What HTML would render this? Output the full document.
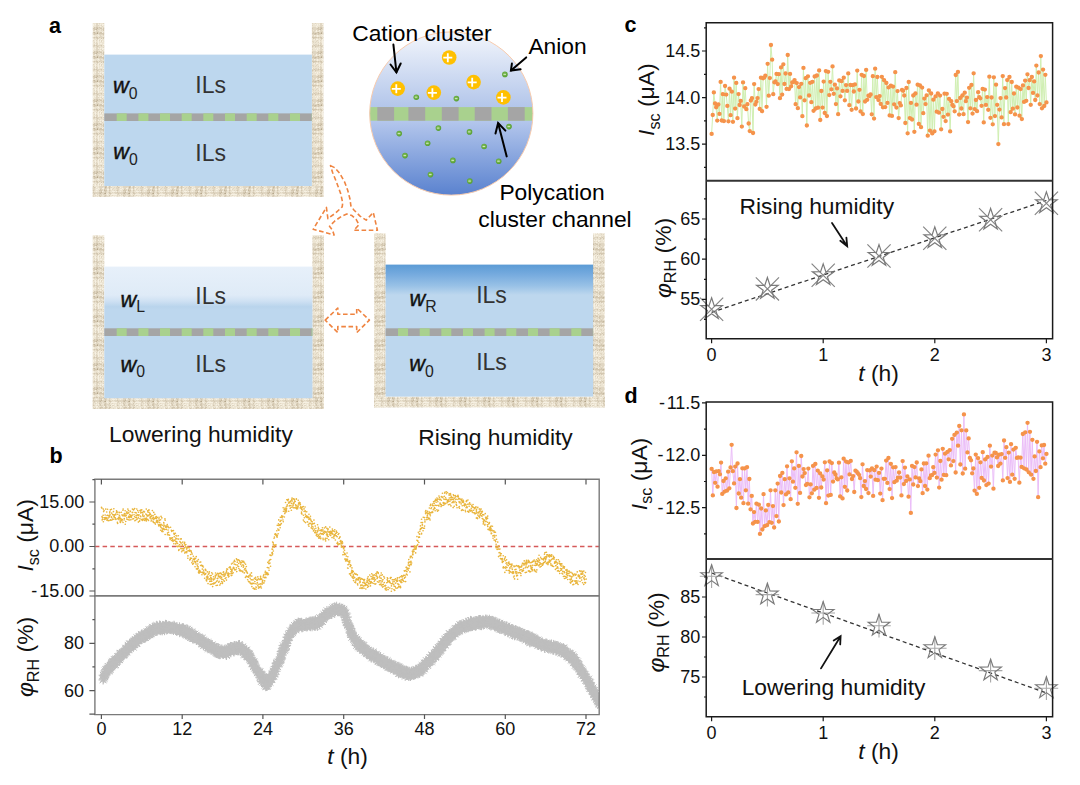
<!DOCTYPE html>
<html><head><meta charset="utf-8"><title>Figure</title>
<style>html,body{margin:0;padding:0;background:#fff;overflow:hidden}svg{display:block}text{font-family:'Liberation Sans',Arial,sans-serif}</style>
</head><body>
<svg width="1080" height="785" viewBox="0 0 1080 785">
<defs><pattern id="wall" width="16" height="24" patternUnits="userSpaceOnUse"><rect width="16" height="24" fill="rgb(224,214,194)"/><rect x="2" y="0" width="1" height="1" fill="rgb(246,240,226)"/><rect x="3" y="0" width="1" height="1" fill="rgb(236,228,210)"/><rect x="4" y="0" width="1" height="1" fill="rgb(246,240,226)"/><rect x="5" y="0" width="1" height="1" fill="rgb(236,228,210)"/><rect x="6" y="0" width="2" height="1" fill="rgb(246,240,226)"/><rect x="8" y="0" width="3" height="1" fill="rgb(236,228,210)"/><rect x="11" y="0" width="1" height="1" fill="rgb(246,240,226)"/><rect x="12" y="0" width="1" height="1" fill="rgb(236,228,210)"/><rect x="13" y="0" width="1" height="1" fill="rgb(246,240,226)"/><rect x="14" y="0" width="1" height="1" fill="rgb(236,228,210)"/><rect x="15" y="0" width="1" height="1" fill="rgb(246,240,226)"/><rect x="3" y="1" width="2" height="1" fill="rgb(236,228,210)"/><rect x="6" y="1" width="1" height="1" fill="rgb(246,240,226)"/><rect x="7" y="1" width="1" height="1" fill="rgb(236,228,210)"/><rect x="9" y="1" width="4" height="1" fill="rgb(236,228,210)"/><rect x="13" y="1" width="1" height="1" fill="rgb(246,240,226)"/><rect x="14" y="1" width="2" height="1" fill="rgb(236,228,210)"/><rect x="2" y="2" width="2" height="1" fill="rgb(236,228,210)"/><rect x="4" y="2" width="1" height="1" fill="rgb(246,240,226)"/><rect x="5" y="2" width="1" height="1" fill="rgb(236,228,210)"/><rect x="7" y="2" width="5" height="1" fill="rgb(236,228,210)"/><rect x="12" y="2" width="1" height="1" fill="rgb(246,240,226)"/><rect x="13" y="2" width="3" height="1" fill="rgb(236,228,210)"/><rect x="0" y="3" width="2" height="1" fill="rgb(211,199,176)"/><rect x="3" y="3" width="1" height="1" fill="rgb(211,199,176)"/><rect x="6" y="3" width="1" height="1" fill="rgb(236,228,210)"/><rect x="12" y="3" width="2" height="1" fill="rgb(236,228,210)"/><rect x="14" y="3" width="1" height="1" fill="rgb(211,199,176)"/><rect x="0" y="4" width="1" height="1" fill="rgb(211,199,176)"/><rect x="1" y="4" width="1" height="1" fill="rgb(196,183,158)"/><rect x="4" y="4" width="2" height="1" fill="rgb(211,199,176)"/><rect x="6" y="4" width="1" height="1" fill="rgb(236,228,210)"/><rect x="7" y="4" width="2" height="1" fill="rgb(211,199,176)"/><rect x="13" y="4" width="2" height="1" fill="rgb(211,199,176)"/><rect x="0" y="5" width="1" height="1" fill="rgb(196,183,158)"/><rect x="4" y="5" width="1" height="1" fill="rgb(236,228,210)"/><rect x="7" y="5" width="1" height="1" fill="rgb(211,199,176)"/><rect x="14" y="5" width="2" height="1" fill="rgb(211,199,176)"/><rect x="2" y="6" width="3" height="1" fill="rgb(236,228,210)"/><rect x="6" y="6" width="1" height="1" fill="rgb(236,228,210)"/><rect x="7" y="6" width="1" height="1" fill="rgb(211,199,176)"/><rect x="9" y="6" width="1" height="1" fill="rgb(236,228,210)"/><rect x="12" y="6" width="1" height="1" fill="rgb(246,240,226)"/><rect x="15" y="6" width="1" height="1" fill="rgb(246,240,226)"/><rect x="3" y="7" width="5" height="1" fill="rgb(236,228,210)"/><rect x="11" y="7" width="1" height="1" fill="rgb(236,228,210)"/><rect x="12" y="7" width="1" height="1" fill="rgb(246,240,226)"/><rect x="13" y="7" width="3" height="1" fill="rgb(236,228,210)"/><rect x="1" y="8" width="1" height="1" fill="rgb(196,183,158)"/><rect x="4" y="8" width="2" height="1" fill="rgb(211,199,176)"/><rect x="6" y="8" width="1" height="1" fill="rgb(246,240,226)"/><rect x="9" y="8" width="1" height="1" fill="rgb(211,199,176)"/><rect x="13" y="8" width="1" height="1" fill="rgb(211,199,176)"/><rect x="14" y="8" width="1" height="1" fill="rgb(196,183,158)"/><rect x="0" y="9" width="1" height="1" fill="rgb(211,199,176)"/><rect x="1" y="9" width="1" height="1" fill="rgb(180,166,139)"/><rect x="3" y="9" width="8" height="1" fill="rgb(211,199,176)"/><rect x="11" y="9" width="1" height="1" fill="rgb(196,183,158)"/><rect x="12" y="9" width="1" height="1" fill="rgb(211,199,176)"/><rect x="14" y="9" width="2" height="1" fill="rgb(211,199,176)"/><rect x="1" y="10" width="2" height="1" fill="rgb(236,228,210)"/><rect x="7" y="10" width="1" height="1" fill="rgb(211,199,176)"/><rect x="10" y="10" width="2" height="1" fill="rgb(211,199,176)"/><rect x="14" y="10" width="1" height="1" fill="rgb(211,199,176)"/><rect x="0" y="11" width="2" height="1" fill="rgb(236,228,210)"/><rect x="2" y="11" width="1" height="1" fill="rgb(246,240,226)"/><rect x="3" y="11" width="1" height="1" fill="rgb(236,228,210)"/><rect x="5" y="11" width="2" height="1" fill="rgb(236,228,210)"/><rect x="8" y="11" width="1" height="1" fill="rgb(236,228,210)"/><rect x="10" y="11" width="1" height="1" fill="rgb(246,240,226)"/><rect x="11" y="11" width="2" height="1" fill="rgb(236,228,210)"/><rect x="13" y="11" width="1" height="1" fill="rgb(246,240,226)"/><rect x="14" y="11" width="2" height="1" fill="rgb(236,228,210)"/><rect x="1" y="12" width="3" height="1" fill="rgb(236,228,210)"/><rect x="6" y="12" width="2" height="1" fill="rgb(236,228,210)"/><rect x="10" y="12" width="1" height="1" fill="rgb(236,228,210)"/><rect x="12" y="12" width="1" height="1" fill="rgb(236,228,210)"/><rect x="13" y="12" width="1" height="1" fill="rgb(246,240,226)"/><rect x="14" y="12" width="2" height="1" fill="rgb(236,228,210)"/><rect x="0" y="13" width="2" height="1" fill="rgb(211,199,176)"/><rect x="2" y="13" width="1" height="1" fill="rgb(236,228,210)"/><rect x="3" y="13" width="1" height="1" fill="rgb(211,199,176)"/><rect x="7" y="13" width="6" height="1" fill="rgb(211,199,176)"/><rect x="14" y="13" width="1" height="1" fill="rgb(211,199,176)"/><rect x="1" y="14" width="1" height="1" fill="rgb(211,199,176)"/><rect x="3" y="14" width="2" height="1" fill="rgb(236,228,210)"/><rect x="5" y="14" width="1" height="1" fill="rgb(211,199,176)"/><rect x="6" y="14" width="1" height="1" fill="rgb(236,228,210)"/><rect x="7" y="14" width="1" height="1" fill="rgb(211,199,176)"/><rect x="8" y="14" width="1" height="1" fill="rgb(236,228,210)"/><rect x="9" y="14" width="1" height="1" fill="rgb(211,199,176)"/><rect x="12" y="14" width="2" height="1" fill="rgb(236,228,210)"/><rect x="15" y="14" width="1" height="1" fill="rgb(236,228,210)"/><rect x="0" y="15" width="1" height="1" fill="rgb(236,228,210)"/><rect x="2" y="15" width="1" height="1" fill="rgb(246,240,226)"/><rect x="3" y="15" width="2" height="1" fill="rgb(236,228,210)"/><rect x="5" y="15" width="1" height="1" fill="rgb(246,240,226)"/><rect x="6" y="15" width="4" height="1" fill="rgb(236,228,210)"/><rect x="10" y="15" width="1" height="1" fill="rgb(246,240,226)"/><rect x="12" y="15" width="2" height="1" fill="rgb(246,240,226)"/><rect x="14" y="15" width="2" height="1" fill="rgb(236,228,210)"/><rect x="1" y="16" width="1" height="1" fill="rgb(236,228,210)"/><rect x="2" y="16" width="1" height="1" fill="rgb(246,240,226)"/><rect x="4" y="16" width="1" height="1" fill="rgb(246,240,226)"/><rect x="6" y="16" width="7" height="1" fill="rgb(236,228,210)"/><rect x="14" y="16" width="1" height="1" fill="rgb(236,228,210)"/><rect x="15" y="16" width="1" height="1" fill="rgb(246,240,226)"/><rect x="0" y="17" width="2" height="1" fill="rgb(236,228,210)"/><rect x="2" y="17" width="1" height="1" fill="rgb(246,240,226)"/><rect x="3" y="17" width="1" height="1" fill="rgb(236,228,210)"/><rect x="4" y="17" width="1" height="1" fill="rgb(246,240,226)"/><rect x="6" y="17" width="1" height="1" fill="rgb(246,240,226)"/><rect x="7" y="17" width="1" height="1" fill="rgb(236,228,210)"/><rect x="10" y="17" width="2" height="1" fill="rgb(236,228,210)"/><rect x="13" y="17" width="2" height="1" fill="rgb(236,228,210)"/><rect x="15" y="17" width="1" height="1" fill="rgb(246,240,226)"/><rect x="1" y="18" width="1" height="1" fill="rgb(236,228,210)"/><rect x="2" y="18" width="1" height="1" fill="rgb(246,240,226)"/><rect x="3" y="18" width="6" height="1" fill="rgb(236,228,210)"/><rect x="10" y="18" width="1" height="1" fill="rgb(236,228,210)"/><rect x="12" y="18" width="2" height="1" fill="rgb(236,228,210)"/><rect x="15" y="18" width="1" height="1" fill="rgb(246,240,226)"/><rect x="2" y="19" width="1" height="1" fill="rgb(246,240,226)"/><rect x="3" y="19" width="1" height="1" fill="rgb(236,228,210)"/><rect x="4" y="19" width="2" height="1" fill="rgb(246,240,226)"/><rect x="6" y="19" width="10" height="1" fill="rgb(236,228,210)"/><rect x="2" y="20" width="1" height="1" fill="rgb(246,240,226)"/><rect x="3" y="20" width="4" height="1" fill="rgb(236,228,210)"/><rect x="7" y="20" width="2" height="1" fill="rgb(246,240,226)"/><rect x="10" y="20" width="1" height="1" fill="rgb(236,228,210)"/><rect x="13" y="20" width="1" height="1" fill="rgb(236,228,210)"/><rect x="15" y="20" width="1" height="1" fill="rgb(246,240,226)"/><rect x="0" y="21" width="1" height="1" fill="rgb(211,199,176)"/><rect x="5" y="21" width="1" height="1" fill="rgb(211,199,176)"/><rect x="6" y="21" width="1" height="1" fill="rgb(236,228,210)"/><rect x="10" y="21" width="1" height="1" fill="rgb(211,199,176)"/><rect x="14" y="21" width="1" height="1" fill="rgb(211,199,176)"/><rect x="1" y="22" width="1" height="1" fill="rgb(211,199,176)"/><rect x="3" y="22" width="2" height="1" fill="rgb(236,228,210)"/><rect x="6" y="22" width="2" height="1" fill="rgb(236,228,210)"/><rect x="8" y="22" width="1" height="1" fill="rgb(211,199,176)"/><rect x="10" y="22" width="1" height="1" fill="rgb(236,228,210)"/><rect x="11" y="22" width="1" height="1" fill="rgb(211,199,176)"/><rect x="15" y="22" width="1" height="1" fill="rgb(236,228,210)"/><rect x="2" y="23" width="1" height="1" fill="rgb(236,228,210)"/><rect x="4" y="23" width="3" height="1" fill="rgb(236,228,210)"/><rect x="9" y="23" width="2" height="1" fill="rgb(236,228,210)"/><rect x="12" y="23" width="4" height="1" fill="rgb(236,228,210)"/></pattern><pattern id="wallB" width="24" height="16" patternUnits="userSpaceOnUse"><rect width="24" height="16" fill="rgb(224,214,194)"/><rect x="3" y="0" width="2" height="1" fill="rgb(211,199,176)"/><rect x="5" y="0" width="1" height="1" fill="rgb(196,183,158)"/><rect x="9" y="0" width="1" height="1" fill="rgb(211,199,176)"/><rect x="11" y="0" width="1" height="1" fill="rgb(236,228,210)"/><rect x="13" y="0" width="1" height="1" fill="rgb(211,199,176)"/><rect x="15" y="0" width="1" height="1" fill="rgb(236,228,210)"/><rect x="17" y="0" width="1" height="1" fill="rgb(236,228,210)"/><rect x="21" y="0" width="1" height="1" fill="rgb(211,199,176)"/><rect x="3" y="1" width="1" height="1" fill="rgb(211,199,176)"/><rect x="4" y="1" width="1" height="1" fill="rgb(196,183,158)"/><rect x="8" y="1" width="1" height="1" fill="rgb(196,183,158)"/><rect x="9" y="1" width="1" height="1" fill="rgb(180,166,139)"/><rect x="10" y="1" width="3" height="1" fill="rgb(236,228,210)"/><rect x="13" y="1" width="2" height="1" fill="rgb(211,199,176)"/><rect x="16" y="1" width="3" height="1" fill="rgb(236,228,210)"/><rect x="22" y="1" width="1" height="1" fill="rgb(211,199,176)"/><rect x="0" y="2" width="1" height="1" fill="rgb(246,240,226)"/><rect x="2" y="2" width="1" height="1" fill="rgb(236,228,210)"/><rect x="6" y="2" width="1" height="1" fill="rgb(236,228,210)"/><rect x="10" y="2" width="1" height="1" fill="rgb(236,228,210)"/><rect x="11" y="2" width="1" height="1" fill="rgb(246,240,226)"/><rect x="12" y="2" width="2" height="1" fill="rgb(236,228,210)"/><rect x="15" y="2" width="6" height="1" fill="rgb(246,240,226)"/><rect x="23" y="2" width="1" height="1" fill="rgb(236,228,210)"/><rect x="0" y="3" width="3" height="1" fill="rgb(236,228,210)"/><rect x="3" y="3" width="1" height="1" fill="rgb(211,199,176)"/><rect x="6" y="3" width="2" height="1" fill="rgb(236,228,210)"/><rect x="9" y="3" width="1" height="1" fill="rgb(211,199,176)"/><rect x="11" y="3" width="2" height="1" fill="rgb(236,228,210)"/><rect x="13" y="3" width="1" height="1" fill="rgb(211,199,176)"/><rect x="14" y="3" width="2" height="1" fill="rgb(236,228,210)"/><rect x="17" y="3" width="4" height="1" fill="rgb(236,228,210)"/><rect x="22" y="3" width="1" height="1" fill="rgb(236,228,210)"/><rect x="0" y="4" width="1" height="1" fill="rgb(246,240,226)"/><rect x="1" y="4" width="1" height="1" fill="rgb(236,228,210)"/><rect x="2" y="4" width="1" height="1" fill="rgb(246,240,226)"/><rect x="4" y="4" width="1" height="1" fill="rgb(211,199,176)"/><rect x="5" y="4" width="3" height="1" fill="rgb(236,228,210)"/><rect x="8" y="4" width="2" height="1" fill="rgb(211,199,176)"/><rect x="14" y="4" width="2" height="1" fill="rgb(236,228,210)"/><rect x="16" y="4" width="2" height="1" fill="rgb(246,240,226)"/><rect x="18" y="4" width="1" height="1" fill="rgb(236,228,210)"/><rect x="19" y="4" width="1" height="1" fill="rgb(246,240,226)"/><rect x="20" y="4" width="1" height="1" fill="rgb(236,228,210)"/><rect x="22" y="4" width="2" height="1" fill="rgb(236,228,210)"/><rect x="0" y="5" width="1" height="1" fill="rgb(236,228,210)"/><rect x="2" y="5" width="1" height="1" fill="rgb(236,228,210)"/><rect x="4" y="5" width="1" height="1" fill="rgb(211,199,176)"/><rect x="7" y="5" width="1" height="1" fill="rgb(236,228,210)"/><rect x="8" y="5" width="2" height="1" fill="rgb(211,199,176)"/><rect x="11" y="5" width="1" height="1" fill="rgb(236,228,210)"/><rect x="14" y="5" width="1" height="1" fill="rgb(211,199,176)"/><rect x="15" y="5" width="1" height="1" fill="rgb(246,240,226)"/><rect x="18" y="5" width="1" height="1" fill="rgb(236,228,210)"/><rect x="19" y="5" width="1" height="1" fill="rgb(246,240,226)"/><rect x="20" y="5" width="1" height="1" fill="rgb(236,228,210)"/><rect x="21" y="5" width="1" height="1" fill="rgb(211,199,176)"/><rect x="23" y="5" width="1" height="1" fill="rgb(236,228,210)"/><rect x="0" y="6" width="2" height="1" fill="rgb(246,240,226)"/><rect x="3" y="6" width="2" height="1" fill="rgb(236,228,210)"/><rect x="6" y="6" width="2" height="1" fill="rgb(236,228,210)"/><rect x="8" y="6" width="1" height="1" fill="rgb(246,240,226)"/><rect x="9" y="6" width="1" height="1" fill="rgb(211,199,176)"/><rect x="11" y="6" width="2" height="1" fill="rgb(236,228,210)"/><rect x="14" y="6" width="3" height="1" fill="rgb(236,228,210)"/><rect x="17" y="6" width="1" height="1" fill="rgb(246,240,226)"/><rect x="18" y="6" width="6" height="1" fill="rgb(236,228,210)"/><rect x="0" y="7" width="1" height="1" fill="rgb(246,240,226)"/><rect x="1" y="7" width="2" height="1" fill="rgb(236,228,210)"/><rect x="4" y="7" width="3" height="1" fill="rgb(211,199,176)"/><rect x="7" y="7" width="1" height="1" fill="rgb(236,228,210)"/><rect x="9" y="7" width="2" height="1" fill="rgb(211,199,176)"/><rect x="12" y="7" width="1" height="1" fill="rgb(236,228,210)"/><rect x="13" y="7" width="2" height="1" fill="rgb(211,199,176)"/><rect x="15" y="7" width="5" height="1" fill="rgb(236,228,210)"/><rect x="20" y="7" width="1" height="1" fill="rgb(246,240,226)"/><rect x="22" y="7" width="1" height="1" fill="rgb(236,228,210)"/><rect x="0" y="8" width="1" height="1" fill="rgb(236,228,210)"/><rect x="2" y="8" width="1" height="1" fill="rgb(236,228,210)"/><rect x="4" y="8" width="1" height="1" fill="rgb(211,199,176)"/><rect x="9" y="8" width="1" height="1" fill="rgb(211,199,176)"/><rect x="11" y="8" width="1" height="1" fill="rgb(236,228,210)"/><rect x="13" y="8" width="1" height="1" fill="rgb(211,199,176)"/><rect x="14" y="8" width="3" height="1" fill="rgb(236,228,210)"/><rect x="18" y="8" width="2" height="1" fill="rgb(236,228,210)"/><rect x="20" y="8" width="1" height="1" fill="rgb(246,240,226)"/><rect x="22" y="8" width="1" height="1" fill="rgb(211,199,176)"/><rect x="0" y="9" width="3" height="1" fill="rgb(236,228,210)"/><rect x="6" y="9" width="1" height="1" fill="rgb(236,228,210)"/><rect x="8" y="9" width="2" height="1" fill="rgb(211,199,176)"/><rect x="13" y="9" width="2" height="1" fill="rgb(211,199,176)"/><rect x="15" y="9" width="2" height="1" fill="rgb(236,228,210)"/><rect x="19" y="9" width="1" height="1" fill="rgb(236,228,210)"/><rect x="23" y="9" width="1" height="1" fill="rgb(236,228,210)"/><rect x="0" y="10" width="3" height="1" fill="rgb(236,228,210)"/><rect x="9" y="10" width="2" height="1" fill="rgb(211,199,176)"/><rect x="11" y="10" width="1" height="1" fill="rgb(246,240,226)"/><rect x="12" y="10" width="1" height="1" fill="rgb(236,228,210)"/><rect x="13" y="10" width="1" height="1" fill="rgb(211,199,176)"/><rect x="15" y="10" width="1" height="1" fill="rgb(246,240,226)"/><rect x="16" y="10" width="5" height="1" fill="rgb(236,228,210)"/><rect x="21" y="10" width="1" height="1" fill="rgb(211,199,176)"/><rect x="22" y="10" width="2" height="1" fill="rgb(236,228,210)"/><rect x="0" y="11" width="1" height="1" fill="rgb(246,240,226)"/><rect x="1" y="11" width="2" height="1" fill="rgb(236,228,210)"/><rect x="7" y="11" width="1" height="1" fill="rgb(236,228,210)"/><rect x="9" y="11" width="1" height="1" fill="rgb(196,183,158)"/><rect x="10" y="11" width="1" height="1" fill="rgb(211,199,176)"/><rect x="11" y="11" width="1" height="1" fill="rgb(236,228,210)"/><rect x="13" y="11" width="1" height="1" fill="rgb(211,199,176)"/><rect x="16" y="11" width="2" height="1" fill="rgb(236,228,210)"/><rect x="19" y="11" width="1" height="1" fill="rgb(236,228,210)"/><rect x="22" y="11" width="1" height="1" fill="rgb(211,199,176)"/><rect x="0" y="12" width="2" height="1" fill="rgb(236,228,210)"/><rect x="2" y="12" width="1" height="1" fill="rgb(246,240,226)"/><rect x="3" y="12" width="1" height="1" fill="rgb(236,228,210)"/><rect x="6" y="12" width="2" height="1" fill="rgb(246,240,226)"/><rect x="9" y="12" width="1" height="1" fill="rgb(211,199,176)"/><rect x="11" y="12" width="2" height="1" fill="rgb(236,228,210)"/><rect x="13" y="12" width="1" height="1" fill="rgb(211,199,176)"/><rect x="14" y="12" width="1" height="1" fill="rgb(236,228,210)"/><rect x="15" y="12" width="1" height="1" fill="rgb(246,240,226)"/><rect x="16" y="12" width="1" height="1" fill="rgb(236,228,210)"/><rect x="18" y="12" width="2" height="1" fill="rgb(236,228,210)"/><rect x="23" y="12" width="1" height="1" fill="rgb(236,228,210)"/><rect x="0" y="13" width="2" height="1" fill="rgb(246,240,226)"/><rect x="2" y="13" width="2" height="1" fill="rgb(236,228,210)"/><rect x="4" y="13" width="1" height="1" fill="rgb(211,199,176)"/><rect x="7" y="13" width="1" height="1" fill="rgb(236,228,210)"/><rect x="8" y="13" width="1" height="1" fill="rgb(211,199,176)"/><rect x="11" y="13" width="2" height="1" fill="rgb(246,240,226)"/><rect x="14" y="13" width="1" height="1" fill="rgb(236,228,210)"/><rect x="15" y="13" width="1" height="1" fill="rgb(246,240,226)"/><rect x="17" y="13" width="4" height="1" fill="rgb(236,228,210)"/><rect x="23" y="13" width="1" height="1" fill="rgb(236,228,210)"/><rect x="0" y="14" width="3" height="1" fill="rgb(236,228,210)"/><rect x="3" y="14" width="3" height="1" fill="rgb(211,199,176)"/><rect x="7" y="14" width="1" height="1" fill="rgb(236,228,210)"/><rect x="8" y="14" width="1" height="1" fill="rgb(196,183,158)"/><rect x="9" y="14" width="2" height="1" fill="rgb(211,199,176)"/><rect x="11" y="14" width="2" height="1" fill="rgb(236,228,210)"/><rect x="13" y="14" width="1" height="1" fill="rgb(211,199,176)"/><rect x="15" y="14" width="3" height="1" fill="rgb(236,228,210)"/><rect x="19" y="14" width="1" height="1" fill="rgb(236,228,210)"/><rect x="21" y="14" width="1" height="1" fill="rgb(211,199,176)"/><rect x="23" y="14" width="1" height="1" fill="rgb(236,228,210)"/><rect x="0" y="15" width="1" height="1" fill="rgb(246,240,226)"/><rect x="1" y="15" width="2" height="1" fill="rgb(236,228,210)"/><rect x="5" y="15" width="1" height="1" fill="rgb(211,199,176)"/><rect x="6" y="15" width="1" height="1" fill="rgb(246,240,226)"/><rect x="7" y="15" width="1" height="1" fill="rgb(236,228,210)"/><rect x="9" y="15" width="1" height="1" fill="rgb(211,199,176)"/><rect x="11" y="15" width="2" height="1" fill="rgb(236,228,210)"/><rect x="14" y="15" width="2" height="1" fill="rgb(236,228,210)"/><rect x="16" y="15" width="3" height="1" fill="rgb(246,240,226)"/><rect x="19" y="15" width="1" height="1" fill="rgb(236,228,210)"/><rect x="20" y="15" width="1" height="1" fill="rgb(246,240,226)"/><rect x="22" y="15" width="2" height="1" fill="rgb(236,228,210)"/></pattern><linearGradient id="gL" x1="0" y1="0" x2="0" y2="1"><stop offset="0" stop-color="#E7F0FA"/><stop offset="0.217" stop-color="#DFEBF7"/><stop offset="0.262" stop-color="#CFE1F3"/><stop offset="0.305" stop-color="#B9D4EC"/><stop offset="0.33" stop-color="#BDD7EE"/><stop offset="1" stop-color="#BDD7EE"/></linearGradient><linearGradient id="gR" x1="0" y1="0" x2="0" y2="1"><stop offset="0" stop-color="#5B9BD5"/><stop offset="0.08" stop-color="#78ACDF"/><stop offset="0.16" stop-color="#98C1E6"/><stop offset="0.23" stop-color="#BDD7EE"/><stop offset="1" stop-color="#BDD7EE"/></linearGradient><linearGradient id="gC" gradientUnits="userSpaceOnUse" x1="0" y1="32" x2="0" y2="195"><stop offset="0" stop-color="#F3F6FC"/><stop offset="0.46" stop-color="#B3C6EA"/><stop offset="0.55" stop-color="#B3C6EC"/><stop offset="1" stop-color="#5A82CF"/></linearGradient><radialGradient id="gA" cx="0.45" cy="0.45" r="0.6"><stop offset="0" stop-color="#8CC663"/><stop offset="1" stop-color="#4F9A2A"/></radialGradient><path id="ast" d="M-4.6 0h9.2M0 -4.6v9.2M-3.3 -3.3l6.6 6.6M-3.3 3.3l6.6 -6.6" stroke="#BEBEBE" stroke-width="1" fill="none"/><clipPath id="cc"><circle cx="451.3" cy="113.5" r="81.6"/></clipPath><clipPath id="cb"><rect x="95.5" y="479.8" width="503" height="233.8"/></clipPath><clipPath id="cct"><rect x="706.6" y="23.3" width="345.4" height="157"/></clipPath><clipPath id="cdt"><rect x="707.2" y="402.3" width="344.8" height="156.4"/></clipPath></defs>
<rect width="1080" height="785" fill="#fff"/>
<text x="49" y="32.6" font-size="21.5" font-weight="bold" fill="#000">a</text>
<rect x="92.7" y="23" width="11.6" height="173.8" fill="url(#wall)"/>
<rect x="311.9" y="23" width="11.6" height="173.8" fill="url(#wall)"/>
<rect x="92.7" y="186" width="230.8" height="10.8" fill="url(#wallB)"/>
<rect x="104.3" y="54.6" width="207.6" height="131.4" fill="#BDD7EE"/>
<rect x="104.3" y="113.4" width="207.6" height="7.6" fill="#A5A5A5"/>
<rect x="116.7" y="113.4" width="10" height="7.6" fill="#A9D18E"/>
<rect x="138.4" y="113.4" width="10" height="7.6" fill="#A9D18E"/>
<rect x="160" y="113.4" width="10" height="7.6" fill="#A9D18E"/>
<rect x="181.7" y="113.4" width="10" height="7.6" fill="#A9D18E"/>
<rect x="203.3" y="113.4" width="10" height="7.6" fill="#A9D18E"/>
<rect x="225" y="113.4" width="10" height="7.6" fill="#A9D18E"/>
<rect x="246.7" y="113.4" width="10" height="7.6" fill="#A9D18E"/>
<rect x="268.3" y="113.4" width="10" height="7.6" fill="#A9D18E"/>
<rect x="290" y="113.4" width="10" height="7.6" fill="#A9D18E"/>
<rect x="311.6" y="113.4" width="0.3" height="7.6" fill="#A9D18E"/>
<text x="113" y="93" font-size="21.8" fill="#111"><tspan style="font-style:italic;" stroke="#111" stroke-width="0.45">w</tspan><tspan font-size="15.8" dy="5.5" fill="#222">0</tspan></text>
<text x="195.3" y="93" font-size="23" fill="#333">ILs</text>
<text x="113.3" y="159.2" font-size="21.8" fill="#111"><tspan style="font-style:italic;" stroke="#111" stroke-width="0.45">w</tspan><tspan font-size="15.8" dy="5.5" fill="#222">0</tspan></text>
<text x="195.3" y="160.9" font-size="23" fill="#333">ILs</text>
<rect x="92.7" y="235.3" width="11.6" height="173.7" fill="url(#wall)"/>
<rect x="312.4" y="235.3" width="11.6" height="173.7" fill="url(#wall)"/>
<rect x="92.7" y="398.2" width="231.3" height="10.8" fill="url(#wallB)"/>
<rect x="104.3" y="266.6" width="208.1" height="131.6" fill="url(#gL)"/>
<rect x="104.3" y="328.3" width="208.1" height="7.7" fill="#A5A5A5"/>
<rect x="116.7" y="328.3" width="10" height="7.7" fill="#A9D18E"/>
<rect x="138.4" y="328.3" width="10" height="7.7" fill="#A9D18E"/>
<rect x="160" y="328.3" width="10" height="7.7" fill="#A9D18E"/>
<rect x="181.7" y="328.3" width="10" height="7.7" fill="#A9D18E"/>
<rect x="203.3" y="328.3" width="10" height="7.7" fill="#A9D18E"/>
<rect x="225" y="328.3" width="10" height="7.7" fill="#A9D18E"/>
<rect x="246.7" y="328.3" width="10" height="7.7" fill="#A9D18E"/>
<rect x="268.3" y="328.3" width="10" height="7.7" fill="#A9D18E"/>
<rect x="290" y="328.3" width="10" height="7.7" fill="#A9D18E"/>
<rect x="311.6" y="328.3" width="0.8" height="7.7" fill="#A9D18E"/>
<text x="120.5" y="306.8" font-size="21.8" fill="#111"><tspan style="font-style:italic;" stroke="#111" stroke-width="0.45">w</tspan><tspan font-size="15.8" dy="5.5" fill="#222">L</tspan></text>
<text x="195.3" y="304.3" font-size="23" fill="#333">ILs</text>
<text x="120.5" y="371.6" font-size="21.8" fill="#111"><tspan style="font-style:italic;" stroke="#111" stroke-width="0.45">w</tspan><tspan font-size="15.8" dy="5.5" fill="#222">0</tspan></text>
<text x="195.3" y="371.8" font-size="23" fill="#333">ILs</text>
<rect x="374" y="233.3" width="11.6" height="174.1" fill="url(#wall)"/>
<rect x="593.1" y="233.3" width="11.6" height="174.1" fill="url(#wall)"/>
<rect x="374" y="396.6" width="230.7" height="10.8" fill="url(#wallB)"/>
<rect x="385.6" y="264.6" width="207.5" height="132" fill="url(#gR)"/>
<rect x="385.6" y="328.3" width="207.5" height="7.7" fill="#A5A5A5"/>
<rect x="398" y="328.3" width="10" height="7.7" fill="#A9D18E"/>
<rect x="419.7" y="328.3" width="10" height="7.7" fill="#A9D18E"/>
<rect x="441.3" y="328.3" width="10" height="7.7" fill="#A9D18E"/>
<rect x="463" y="328.3" width="10" height="7.7" fill="#A9D18E"/>
<rect x="484.6" y="328.3" width="10" height="7.7" fill="#A9D18E"/>
<rect x="506.3" y="328.3" width="10" height="7.7" fill="#A9D18E"/>
<rect x="528" y="328.3" width="10" height="7.7" fill="#A9D18E"/>
<rect x="549.6" y="328.3" width="10" height="7.7" fill="#A9D18E"/>
<rect x="571.3" y="328.3" width="10" height="7.7" fill="#A9D18E"/>
<rect x="592.9" y="328.3" width="0.2" height="7.7" fill="#A9D18E"/>
<text x="409.5" y="306.1" font-size="21.8" fill="#111"><tspan style="font-style:italic;" stroke="#111" stroke-width="0.45">w</tspan><tspan font-size="15.8" dy="5.5" fill="#222">R</tspan></text>
<text x="476.2" y="303" font-size="23" fill="#333">ILs</text>
<text x="409.3" y="371.1" font-size="21.8" fill="#111"><tspan style="font-style:italic;" stroke="#111" stroke-width="0.45">w</tspan><tspan font-size="15.8" dy="5.5" fill="#222">0</tspan></text>
<text x="476.2" y="370" font-size="23" fill="#333">ILs</text>
<g clip-path="url(#cc)">
<rect x="369" y="31" width="165" height="166" fill="url(#gC)"/>
<rect x="369" y="107.1" width="165" height="13.6" fill="#A9D18E"/>
<rect x="377.3" y="107.1" width="16.8" height="13.6" fill="#A5A5A5"/>
<rect x="408.4" y="107.1" width="16.8" height="13.6" fill="#A5A5A5"/>
<rect x="441.8" y="107.1" width="16.8" height="13.6" fill="#A5A5A5"/>
<rect x="474.7" y="107.1" width="16.8" height="13.6" fill="#A5A5A5"/>
<rect x="507.9" y="107.1" width="16.8" height="13.6" fill="#A5A5A5"/>
</g>
<circle cx="451.3" cy="113.5" r="81.6" fill="none" stroke="#F8CBAD" stroke-width="1"/>
<circle cx="449.2" cy="57.5" r="7.3" fill="#FFC000"/>
<path d="M443.3 57.7h9M447.8 53.2v9" stroke="#fff" stroke-width="1.8"/>
<circle cx="397.7" cy="88.6" r="7.3" fill="#FFC000"/>
<path d="M391.8 88.8h9M396.3 84.3v9" stroke="#fff" stroke-width="1.8"/>
<circle cx="433.8" cy="92.6" r="7.3" fill="#FFC000"/>
<path d="M427.9 92.8h9M432.4 88.3v9" stroke="#fff" stroke-width="1.8"/>
<circle cx="473.6" cy="82.1" r="7.3" fill="#FFC000"/>
<path d="M467.7 82.3h9M472.2 77.8v9" stroke="#fff" stroke-width="1.8"/>
<circle cx="503.4" cy="97.4" r="7.3" fill="#FFC000"/>
<path d="M497.5 97.6h9M502 93.1v9" stroke="#fff" stroke-width="1.8"/>
<circle cx="504.9" cy="74.4" r="2.8" fill="url(#gA)"/><path d="M503.4 74.4h2.6" stroke="#E8F4DC" stroke-width="0.9" opacity="0.85"/>
<circle cx="416.3" cy="97.2" r="2.8" fill="url(#gA)"/><path d="M414.8 97.2h2.6" stroke="#E8F4DC" stroke-width="0.9" opacity="0.85"/>
<circle cx="456.4" cy="98.6" r="2.8" fill="url(#gA)"/><path d="M454.9 98.6h2.6" stroke="#E8F4DC" stroke-width="0.9" opacity="0.85"/>
<circle cx="399.2" cy="133.6" r="2.8" fill="url(#gA)"/><path d="M397.7 133.6h2.6" stroke="#E8F4DC" stroke-width="0.9" opacity="0.85"/>
<circle cx="438.4" cy="128.1" r="2.8" fill="url(#gA)"/><path d="M436.9 128.1h2.6" stroke="#E8F4DC" stroke-width="0.9" opacity="0.85"/>
<circle cx="469.5" cy="131.9" r="2.8" fill="url(#gA)"/><path d="M468 131.9h2.6" stroke="#E8F4DC" stroke-width="0.9" opacity="0.85"/>
<circle cx="509.0" cy="126.6" r="2.8" fill="url(#gA)"/><path d="M507.5 126.6h2.6" stroke="#E8F4DC" stroke-width="0.9" opacity="0.85"/>
<circle cx="427.6" cy="143.3" r="2.8" fill="url(#gA)"/><path d="M426.1 143.3h2.6" stroke="#E8F4DC" stroke-width="0.9" opacity="0.85"/>
<circle cx="484.1" cy="146.5" r="2.8" fill="url(#gA)"/><path d="M482.6 146.5h2.6" stroke="#E8F4DC" stroke-width="0.9" opacity="0.85"/>
<circle cx="405.0" cy="155.6" r="2.8" fill="url(#gA)"/><path d="M403.5 155.6h2.6" stroke="#E8F4DC" stroke-width="0.9" opacity="0.85"/>
<circle cx="452.9" cy="160.4" r="2.8" fill="url(#gA)"/><path d="M451.4 160.4h2.6" stroke="#E8F4DC" stroke-width="0.9" opacity="0.85"/>
<circle cx="498.7" cy="161.2" r="2.8" fill="url(#gA)"/><path d="M497.2 161.2h2.6" stroke="#E8F4DC" stroke-width="0.9" opacity="0.85"/>
<circle cx="430.5" cy="174.6" r="2.8" fill="url(#gA)"/><path d="M429 174.6h2.6" stroke="#E8F4DC" stroke-width="0.9" opacity="0.85"/>
<circle cx="469.8" cy="181.1" r="2.8" fill="url(#gA)"/><path d="M468.3 181.1h2.6" stroke="#E8F4DC" stroke-width="0.9" opacity="0.85"/>
<text x="352.2" y="40.5" font-size="22.8" fill="#000">Cation cluster</text>
<text x="528.4" y="54" font-size="22.8" fill="#000">Anion</text>
<text x="552" y="200" font-size="22.8" fill="#000" text-anchor="middle">Polycation</text>
<text x="555" y="227.4" font-size="22.8" fill="#000" text-anchor="middle">cluster channel</text>
<path d="M393.4 44.6L396.4 72" stroke="#000" stroke-width="2" fill="none" stroke-linecap="round" stroke-linejoin="miter"/><path d="M390.5 64.5L396.4 72.4L400.7 63.5" stroke="#000" stroke-width="2" fill="none" stroke-linecap="round" stroke-linejoin="miter"/>
<path d="M526.2 57.4L511 70.4" stroke="#000" stroke-width="2" fill="none" stroke-linecap="round" stroke-linejoin="miter"/><path d="M511.9 63.6L510.9 70.6L520.6 69.3" stroke="#000" stroke-width="2" fill="none" stroke-linecap="round" stroke-linejoin="miter"/>
<path d="M506.7 156.4L498.2 123.4" stroke="#000" stroke-width="2" fill="none" stroke-linecap="round" stroke-linejoin="miter"/><path d="M495.5 133.5L498.1 123L505.4 130.6" stroke="#000" stroke-width="2" fill="none" stroke-linecap="round" stroke-linejoin="miter"/>
<path d="M330.5 165.6L334.6 167.6L339.7 173.3L344.8 182.4L347.8 190.6L349.9 198.7L350.9 205.9L353.9 210L360 216.1L366.2 220.1L373.3 212.5L377.4 230.3L353.9 230.3L359 224.7L356 219.1L351.9 215.6L346.8 214L341.7 216.1L334.6 221.2L329.5 226.3L332.5 230.3L334.1 234.9L313.2 229.3L326.4 207.4L327.9 218.6L335.6 213L342.2 206.9L342.7 202.8L340.7 193.6L336.6 182.4L332.5 172.2Z" stroke="#EF8440" stroke-width="1.6" stroke-dasharray="4.6 2.6" fill="none" stroke-linejoin="round"/>
<path d="M325.2 320.1L337.8 308.1L337.8 314.3L356.7 314.3L356.7 308.1L369.4 320.1L356.7 332.6L356.7 326.6L337.8 326.6L337.8 332.6Z" stroke="#EF8440" stroke-width="1.6" stroke-dasharray="4.6 2.6" fill="none" stroke-linejoin="round"/>
<text x="109.1" y="441.9" font-size="22.8" fill="#111">Lowering humidity</text>
<text x="418.2" y="445" font-size="22.8" fill="#111">Rising humidity</text>
<g clip-path="url(#cb)">
<polygon points="103.1,673.7 104.7,671.4 106.4,668.9 108.1,666.4 109.7,663.9 111.4,661.7 113,660 114.7,658.2 116.4,656.5 118,654.8 119.7,653.1 121.3,651.3 123,649.6 124.7,647.9 126.3,646.3 128,644.8 129.7,643.4 131.3,642 133,640.6 134.6,639.2 136.3,637.8 138,636.4 139.6,635 141.3,633.6 142.9,632.6 144.6,631.6 146.3,630.6 147.9,629.6 149.6,628.6 151.2,627.6 152.9,626.6 154.6,625.6 156.2,624.6 157.9,624.3 159.5,624.2 161.2,624.1 162.9,624 164.5,624 166.2,623.9 167.8,623.8 169.5,623.7 171.2,623.7 172.8,623.9 174.5,624.5 176.1,625 177.8,625.5 179.5,626.1 181.1,626.6 182.8,627.2 184.5,627.7 186.1,628.2 187.8,629 189.4,630.1 191.1,631.2 192.8,632.2 194.4,633.3 196.1,634.4 197.7,635.5 199.4,636.6 201.1,637.7 202.7,638.7 204.4,639.7 206,640.6 207.7,641.5 209.4,642.5 211,643.4 212.7,644.3 214.3,645.3 216,646.2 217.7,647.1 219.3,647.6 221,648.1 222.6,648.5 224.3,648.9 226,648.8 227.6,647.9 229.3,647 230.9,646.3 232.6,645.8 234.3,645.2 235.9,644.7 237.6,644.1 239.2,644.1 240.9,645.3 242.6,646.5 244.2,647.7 245.9,648.9 247.6,650.1 249.2,652.6 250.9,655.4 252.5,658.2 254.2,661 255.9,663.8 257.5,666.5 259.2,669.3 260.8,672 262.5,674.7 264.2,677.4 265.8,680.2 267.5,679.1 269.1,676.8 270.8,674.5 272.5,672.1 274.1,669.5 275.8,665.4 277.4,661.2 279.1,657.1 280.8,652.9 282.4,648.7 284.1,644.4 285.7,640 287.4,635.7 289.1,631.5 290.7,629.3 292.4,627.3 294,625.3 295.7,623.3 297.4,621.9 299,621.6 300.7,621.4 302.4,621.1 304,620.9 305.7,620.6 307.3,620.3 309,620.2 310.7,620 312.3,619.9 314,619.7 315.6,619.6 317.3,619.4 319,618.6 320.6,616.9 322.3,615.2 323.9,613.5 325.6,611.8 327.3,610.1 328.9,609.1 330.6,608.3 332.2,607.4 333.9,606.5 335.6,605.7 337.2,605.5 338.9,606.1 340.5,606.8 342.2,607.4 343.9,608.1 345.5,613 347.2,619.1 348.8,623.8 350.5,627.3 352.2,630.8 353.8,634.3 355.5,637.6 357.2,639.3 358.8,640.6 360.5,642 362.1,643.3 363.8,644.6 365.5,646 367.1,647.3 368.8,648.6 370.4,650 372.1,651 373.8,651.9 375.4,652.9 377.1,653.8 378.7,654.8 380.4,655.7 382.1,656.8 383.7,657.8 385.4,658.9 387,660 388.7,661 390.4,662.1 392,663.1 393.7,664 395.3,664.9 397,665.8 398.7,666.7 400.3,667.6 402,668.4 403.6,668.9 405.3,669.4 407,669.9 408.6,670.3 410.3,670.8 411.9,670.3 413.6,669.5 415.3,668.7 416.9,667.9 418.6,667.1 420.3,666.3 421.9,665.2 423.6,663.4 425.2,661.6 426.9,659.8 428.6,658 430.2,656.2 431.9,654.4 433.5,652.4 435.2,650.5 436.9,648.5 438.5,646.6 440.2,644.7 441.8,642.7 443.5,640.6 445.2,638.5 446.8,636.4 448.5,634.3 450.1,632.2 451.8,630.7 453.5,629.4 455.1,628 456.8,626.7 458.4,625.3 460.1,624.1 461.8,623.4 463.4,622.8 465.1,622.1 466.7,621.4 468.4,620.7 470.1,620.3 471.7,620 473.4,619.7 475.1,619.3 476.7,619 478.4,618.9 480,618.9 481.7,618.9 483.4,618.9 485,618.9 486.7,618.9 488.3,618.9 490,619 491.7,619.5 493.3,620.1 495,620.7 496.6,621.3 498.3,621.9 500,622.4 501.6,623 503.3,623.7 504.9,624.5 506.6,625.2 508.3,625.9 509.9,626.7 511.6,627.4 513.2,628.2 514.9,628.9 516.6,629.6 518.2,630.3 519.9,631 521.5,631.7 523.2,632.4 524.9,633.1 526.5,633.8 528.2,634.6 529.9,635.3 531.5,636 533.2,636.8 534.8,637.5 536.5,638.3 538.2,639 539.8,639.6 541.5,640.2 543.1,640.8 544.8,641.4 546.5,641.9 548.1,642.5 549.8,643.1 551.4,643.6 553.1,644.1 554.8,644.5 556.4,645 558.1,645.4 559.7,645.9 561.4,646.3 563.1,646.9 564.7,648.1 566.4,649.4 568,650.8 569.7,652.1 571.4,653.4 573,655.2 574.7,657.6 576.3,659.9 578,662.3 579.7,664.6 581.3,667 583,669.7 584.6,672.5 586.3,675.2 588,678 589.6,680.8 591.3,683.7 593,686.8 594.6,690 596.3,693.1 597.9,696.3 599.6,699.4 599.6,706.6 597.9,703.5 596.3,700.3 594.6,697.2 593,694 591.3,690.9 589.6,688 588,685.2 586.3,682.4 584.6,679.7 583,676.9 581.3,674.2 579.7,671.8 578,669.5 576.3,667.1 574.7,664.8 573,662.4 571.4,660.6 569.7,659.3 568,658 566.4,656.6 564.7,655.3 563.1,654.1 561.4,653.5 559.7,653.1 558.1,652.6 556.4,652.2 554.8,651.7 553.1,651.3 551.4,650.8 549.8,650.3 548.1,649.7 546.5,649.1 544.8,648.6 543.1,648 541.5,647.4 539.8,646.8 538.2,646.2 536.5,645.5 534.8,644.7 533.2,644 531.5,643.2 529.9,642.5 528.2,641.8 526.5,641 524.9,640.3 523.2,639.6 521.5,638.9 519.9,638.2 518.2,637.5 516.6,636.8 514.9,636.1 513.2,635.4 511.6,634.6 509.9,633.9 508.3,633.1 506.6,632.4 504.9,631.7 503.3,630.9 501.6,630.2 500,629.6 498.3,629.1 496.6,628.5 495,627.9 493.3,627.3 491.7,626.7 490,626.2 488.3,626.1 486.7,626.1 485,626.1 483.4,626.1 481.7,626.1 480,626.1 478.4,626.1 476.7,626.2 475.1,626.5 473.4,626.9 471.7,627.2 470.1,627.5 468.4,627.9 466.7,628.6 465.1,629.3 463.4,630 461.8,630.6 460.1,631.3 458.4,632.5 456.8,633.9 455.1,635.2 453.5,636.6 451.8,637.9 450.1,639.4 448.5,641.5 446.8,643.6 445.2,645.7 443.5,647.8 441.8,649.9 440.2,651.9 438.5,653.8 436.9,655.7 435.2,657.7 433.5,659.6 431.9,661.6 430.2,663.4 428.6,665.2 426.9,667 425.2,668.8 423.6,670.6 421.9,672.4 420.3,673.5 418.6,674.3 416.9,675.1 415.3,675.9 413.6,676.7 411.9,677.5 410.3,678 408.6,677.5 407,677.1 405.3,676.6 403.6,676.1 402,675.6 400.3,674.8 398.7,673.9 397,673 395.3,672.1 393.7,671.2 392,670.3 390.4,669.3 388.7,668.2 387,667.2 385.4,666.1 383.7,665 382.1,664 380.4,662.9 378.7,662 377.1,661 375.4,660.1 373.8,659.1 372.1,658.2 370.4,657.2 368.8,655.8 367.1,654.5 365.5,653.2 363.8,651.8 362.1,650.5 360.5,649.2 358.8,647.8 357.2,646.5 355.5,644.8 353.8,641.5 352.2,638 350.5,634.5 348.8,631 347.2,626.3 345.5,620.2 343.9,615.3 342.2,614.6 340.5,614 338.9,613.3 337.2,612.7 335.6,612.9 333.9,613.7 332.2,614.6 330.6,615.5 328.9,616.3 327.3,617.3 325.6,619 323.9,620.7 322.3,622.4 320.6,624.1 319,625.8 317.3,626.6 315.6,626.8 314,626.9 312.3,627.1 310.7,627.2 309,627.4 307.3,627.5 305.7,627.8 304,628.1 302.4,628.3 300.7,628.6 299,628.8 297.4,629.1 295.7,630.5 294,632.5 292.4,634.5 290.7,636.5 289.1,638.7 287.4,642.9 285.7,647.2 284.1,651.6 282.4,655.9 280.8,660.1 279.1,664.3 277.4,668.4 275.8,672.6 274.1,676.7 272.5,679.3 270.8,681.7 269.1,684 267.5,686.3 265.8,687.4 264.2,684.6 262.5,681.9 260.8,679.2 259.2,676.5 257.5,673.7 255.9,671 254.2,668.2 252.5,665.4 250.9,662.6 249.2,659.8 247.6,657.3 245.9,656.1 244.2,654.9 242.6,653.7 240.9,652.5 239.2,651.3 237.6,651.3 235.9,651.9 234.3,652.4 232.6,653 230.9,653.5 229.3,654.2 227.6,655.1 226,656 224.3,656.1 222.6,655.7 221,655.3 219.3,654.8 217.7,654.3 216,653.4 214.3,652.5 212.7,651.5 211,650.6 209.4,649.7 207.7,648.7 206,647.8 204.4,646.9 202.7,645.9 201.1,644.9 199.4,643.8 197.7,642.7 196.1,641.6 194.4,640.5 192.8,639.4 191.1,638.4 189.4,637.3 187.8,636.2 186.1,635.4 184.5,634.9 182.8,634.4 181.1,633.8 179.5,633.3 177.8,632.7 176.1,632.2 174.5,631.7 172.8,631.1 171.2,630.9 169.5,630.9 167.8,631 166.2,631.1 164.5,631.2 162.9,631.2 161.2,631.3 159.5,631.4 157.9,631.5 156.2,631.8 154.6,632.8 152.9,633.8 151.2,634.8 149.6,635.8 147.9,636.8 146.3,637.8 144.6,638.8 142.9,639.8 141.3,640.8 139.6,642.2 138,643.6 136.3,645 134.6,646.4 133,647.8 131.3,649.2 129.7,650.6 128,652 126.3,653.5 124.7,655.1 123,656.8 121.3,658.5 119.7,660.3 118,662 116.4,663.7 114.7,665.4 113,667.2 111.4,668.9 109.7,671.1 108.1,673.6 106.4,676.1 104.7,678.6 103.1,680.9" fill="#C0C0C0" stroke="#C0C0C0" stroke-width="2" stroke-linejoin="round"/>
<use href="#ast" x="103.1" y="680"/><use href="#ast" x="103.2" y="675.2"/><use href="#ast" x="103.4" y="679.1"/><use href="#ast" x="104" y="678.3"/><use href="#ast" x="104" y="675.6"/><use href="#ast" x="104.8" y="673.9"/><use href="#ast" x="104.9" y="674.5"/><use href="#ast" x="105.1" y="674.8"/><use href="#ast" x="104.8" y="675.9"/><use href="#ast" x="104.8" y="676.8"/><use href="#ast" x="105.1" y="670.9"/><use href="#ast" x="105.7" y="669.7"/><use href="#ast" x="106.7" y="672.3"/><use href="#ast" x="105.6" y="674.5"/><use href="#ast" x="107.2" y="671.4"/><use href="#ast" x="106.7" y="669.2"/><use href="#ast" x="107.8" y="668.4"/><use href="#ast" x="107.7" y="668"/><use href="#ast" x="108" y="666.3"/><use href="#ast" x="109.1" y="666.8"/><use href="#ast" x="108.9" y="671.2"/><use href="#ast" x="109.3" y="670.5"/><use href="#ast" x="109.6" y="669.4"/><use href="#ast" x="109" y="667.6"/><use href="#ast" x="110.2" y="669.3"/><use href="#ast" x="111.4" y="667.1"/><use href="#ast" x="110.1" y="665.3"/><use href="#ast" x="111.3" y="663.4"/><use href="#ast" x="111.6" y="664.6"/><use href="#ast" x="111.9" y="665.7"/><use href="#ast" x="111.5" y="665.7"/><use href="#ast" x="111.9" y="662.2"/><use href="#ast" x="111.9" y="662.5"/><use href="#ast" x="112.7" y="661.2"/><use href="#ast" x="113.6" y="661.7"/><use href="#ast" x="112.9" y="661.9"/><use href="#ast" x="112.6" y="664"/><use href="#ast" x="113.9" y="664.9"/><use href="#ast" x="114.6" y="665"/><use href="#ast" x="114.3" y="659.7"/><use href="#ast" x="115.6" y="664.6"/><use href="#ast" x="114.9" y="659.3"/><use href="#ast" x="115.3" y="662.1"/><use href="#ast" x="115.1" y="660"/><use href="#ast" x="115.8" y="658.8"/><use href="#ast" x="116.6" y="662.7"/><use href="#ast" x="116.9" y="660.2"/><use href="#ast" x="117.4" y="661.3"/><use href="#ast" x="117.4" y="658.5"/><use href="#ast" x="117.6" y="656.5"/><use href="#ast" x="116.7" y="659.7"/><use href="#ast" x="117.6" y="658.6"/><use href="#ast" x="119.4" y="657.1"/><use href="#ast" x="118.3" y="659"/><use href="#ast" x="119.1" y="657.6"/><use href="#ast" x="119.1" y="659.9"/><use href="#ast" x="119.7" y="659.7"/><use href="#ast" x="119.7" y="658.2"/><use href="#ast" x="119.5" y="653.9"/><use href="#ast" x="119.9" y="658"/><use href="#ast" x="120.8" y="656.5"/><use href="#ast" x="120.7" y="655.4"/><use href="#ast" x="120.2" y="653.2"/><use href="#ast" x="121.7" y="653.8"/><use href="#ast" x="122.3" y="653.4"/><use href="#ast" x="122.5" y="654.6"/><use href="#ast" x="122.8" y="652.3"/><use href="#ast" x="121.9" y="653.2"/><use href="#ast" x="123.7" y="653.3"/><use href="#ast" x="123.2" y="655.5"/><use href="#ast" x="123.1" y="653.2"/><use href="#ast" x="123.6" y="654.8"/><use href="#ast" x="123.8" y="654.8"/><use href="#ast" x="123.8" y="651.3"/><use href="#ast" x="124.7" y="654.4"/><use href="#ast" x="125.1" y="653.1"/><use href="#ast" x="125.2" y="652.2"/><use href="#ast" x="125.6" y="649.4"/><use href="#ast" x="125.8" y="648.3"/><use href="#ast" x="125.8" y="648.1"/><use href="#ast" x="126.2" y="651.9"/><use href="#ast" x="127" y="649.3"/><use href="#ast" x="126.4" y="650.2"/><use href="#ast" x="127.1" y="652"/><use href="#ast" x="128.1" y="649.5"/><use href="#ast" x="128" y="646.4"/><use href="#ast" x="128.5" y="647.6"/><use href="#ast" x="128.5" y="650"/><use href="#ast" x="128.3" y="645.2"/><use href="#ast" x="128.9" y="649.4"/><use href="#ast" x="129.4" y="647.4"/><use href="#ast" x="129.5" y="644"/><use href="#ast" x="129.9" y="643.5"/><use href="#ast" x="130.3" y="644.8"/><use href="#ast" x="131" y="646.7"/><use href="#ast" x="130.6" y="646.6"/><use href="#ast" x="131.7" y="646.9"/><use href="#ast" x="131.4" y="644.2"/><use href="#ast" x="132.2" y="645.5"/><use href="#ast" x="132.5" y="646"/><use href="#ast" x="133.1" y="642.7"/><use href="#ast" x="133.1" y="641.4"/><use href="#ast" x="133.4" y="647.3"/><use href="#ast" x="134" y="641"/><use href="#ast" x="132.7" y="642.5"/><use href="#ast" x="133.3" y="644.3"/><use href="#ast" x="134.6" y="642"/><use href="#ast" x="133.4" y="644.9"/><use href="#ast" x="134.7" y="644.5"/><use href="#ast" x="135" y="640.5"/><use href="#ast" x="134.6" y="643.2"/><use href="#ast" x="135.1" y="639.3"/><use href="#ast" x="136.1" y="642.6"/><use href="#ast" x="136.4" y="643.5"/><use href="#ast" x="136.2" y="642.7"/><use href="#ast" x="136.3" y="643.6"/><use href="#ast" x="136.7" y="637.6"/><use href="#ast" x="137.5" y="638.6"/><use href="#ast" x="137" y="643.2"/><use href="#ast" x="137.9" y="638.4"/><use href="#ast" x="137.5" y="640.8"/><use href="#ast" x="138.9" y="638.7"/><use href="#ast" x="138.9" y="640.3"/><use href="#ast" x="139.7" y="638.2"/><use href="#ast" x="138.3" y="639"/><use href="#ast" x="138.7" y="636.8"/><use href="#ast" x="139.7" y="638"/><use href="#ast" x="141" y="639.7"/><use href="#ast" x="140" y="636.4"/><use href="#ast" x="141.4" y="639.3"/><use href="#ast" x="141.2" y="634.9"/><use href="#ast" x="141.5" y="634.3"/><use href="#ast" x="142" y="635.4"/><use href="#ast" x="141.5" y="638.9"/><use href="#ast" x="142" y="634.5"/><use href="#ast" x="142" y="638.9"/><use href="#ast" x="142.9" y="637.6"/><use href="#ast" x="144.1" y="637.5"/><use href="#ast" x="143.3" y="638"/><use href="#ast" x="144" y="634.8"/><use href="#ast" x="144.2" y="635.6"/><use href="#ast" x="144.4" y="633.3"/><use href="#ast" x="144.5" y="635.4"/><use href="#ast" x="145.6" y="637.6"/><use href="#ast" x="145.3" y="632.7"/><use href="#ast" x="145.3" y="635.5"/><use href="#ast" x="144.9" y="637.7"/><use href="#ast" x="146.6" y="636.5"/><use href="#ast" x="146.8" y="633.4"/><use href="#ast" x="146.8" y="631.8"/><use href="#ast" x="146.9" y="635.4"/><use href="#ast" x="148.1" y="633.2"/><use href="#ast" x="147.6" y="632.8"/><use href="#ast" x="147.6" y="635.4"/><use href="#ast" x="148.5" y="632.3"/><use href="#ast" x="148.3" y="634.3"/><use href="#ast" x="148.8" y="634.8"/><use href="#ast" x="148.9" y="631.7"/><use href="#ast" x="149.3" y="634"/><use href="#ast" x="148.9" y="629.8"/><use href="#ast" x="149.5" y="634.1"/><use href="#ast" x="149.9" y="629.3"/><use href="#ast" x="149.9" y="634.8"/><use href="#ast" x="150.7" y="631.9"/><use href="#ast" x="151.2" y="632.9"/><use href="#ast" x="150.9" y="633.8"/><use href="#ast" x="152.7" y="632.6"/><use href="#ast" x="151.9" y="630.5"/><use href="#ast" x="152.5" y="629.3"/><use href="#ast" x="152" y="631.8"/><use href="#ast" x="152.4" y="627.2"/><use href="#ast" x="153.9" y="632.6"/><use href="#ast" x="153.8" y="628.1"/><use href="#ast" x="153.7" y="627.8"/><use href="#ast" x="153.4" y="629.5"/><use href="#ast" x="155.1" y="627.1"/><use href="#ast" x="154.2" y="629"/><use href="#ast" x="154.7" y="630"/><use href="#ast" x="155.1" y="628.9"/><use href="#ast" x="155.7" y="628.7"/><use href="#ast" x="155.8" y="628.6"/><use href="#ast" x="156.1" y="630.1"/><use href="#ast" x="157.3" y="626"/><use href="#ast" x="156.7" y="625.4"/><use href="#ast" x="157.2" y="630.8"/><use href="#ast" x="156.6" y="631"/><use href="#ast" x="157.9" y="627.9"/><use href="#ast" x="157" y="630.6"/><use href="#ast" x="157.8" y="626.6"/><use href="#ast" x="159.6" y="625"/><use href="#ast" x="158.4" y="627.6"/><use href="#ast" x="159" y="629.5"/><use href="#ast" x="158.8" y="629.5"/><use href="#ast" x="159.1" y="630.1"/><use href="#ast" x="160.5" y="629.3"/><use href="#ast" x="160" y="625.6"/><use href="#ast" x="160.4" y="625.5"/><use href="#ast" x="160.6" y="628.4"/><use href="#ast" x="160.4" y="630.6"/><use href="#ast" x="161.3" y="627.8"/><use href="#ast" x="162.2" y="630.8"/><use href="#ast" x="161.6" y="629.7"/><use href="#ast" x="162.5" y="629.7"/><use href="#ast" x="163.1" y="628.6"/><use href="#ast" x="162.2" y="627.2"/><use href="#ast" x="163.5" y="628.9"/><use href="#ast" x="162.5" y="626.5"/><use href="#ast" x="164" y="625.7"/><use href="#ast" x="163.8" y="629.4"/><use href="#ast" x="163.8" y="629.1"/><use href="#ast" x="164.5" y="630.6"/><use href="#ast" x="164.6" y="626.9"/><use href="#ast" x="164.4" y="627.7"/><use href="#ast" x="166" y="624.8"/><use href="#ast" x="166.3" y="627.9"/><use href="#ast" x="165.5" y="624.4"/><use href="#ast" x="166.1" y="628.3"/><use href="#ast" x="166.4" y="624.6"/><use href="#ast" x="166.8" y="625.6"/><use href="#ast" x="166.6" y="629.9"/><use href="#ast" x="168" y="627.1"/><use href="#ast" x="167.8" y="628.8"/><use href="#ast" x="167.6" y="629.4"/><use href="#ast" x="168.2" y="628.2"/><use href="#ast" x="168.3" y="628.5"/><use href="#ast" x="168.9" y="626.7"/><use href="#ast" x="169.6" y="626.7"/><use href="#ast" x="169.9" y="626.5"/><use href="#ast" x="169.3" y="629"/><use href="#ast" x="170.2" y="626.2"/><use href="#ast" x="170" y="626.5"/><use href="#ast" x="169.9" y="629.2"/><use href="#ast" x="170.5" y="628.7"/><use href="#ast" x="171.3" y="629.6"/><use href="#ast" x="170.9" y="627.6"/><use href="#ast" x="171.6" y="628.5"/><use href="#ast" x="172.4" y="626.8"/><use href="#ast" x="172.2" y="626.1"/><use href="#ast" x="172.4" y="627.1"/><use href="#ast" x="172.6" y="627.3"/><use href="#ast" x="172.5" y="628.3"/><use href="#ast" x="173.5" y="630.4"/><use href="#ast" x="174" y="626.4"/><use href="#ast" x="174.3" y="628"/><use href="#ast" x="174" y="625.3"/><use href="#ast" x="174.4" y="626.2"/><use href="#ast" x="175.5" y="630.4"/><use href="#ast" x="175" y="628.2"/><use href="#ast" x="175.6" y="628.2"/><use href="#ast" x="174.6" y="628.9"/><use href="#ast" x="175.8" y="627.5"/><use href="#ast" x="176.1" y="630.5"/><use href="#ast" x="176.2" y="630.4"/><use href="#ast" x="177.9" y="628.6"/><use href="#ast" x="177.3" y="630.3"/><use href="#ast" x="176.8" y="630.1"/><use href="#ast" x="178.1" y="630.1"/><use href="#ast" x="178.3" y="629.2"/><use href="#ast" x="178.6" y="630.3"/><use href="#ast" x="179.6" y="632.6"/><use href="#ast" x="179.2" y="628.3"/><use href="#ast" x="179.5" y="626.9"/><use href="#ast" x="179.5" y="631.6"/><use href="#ast" x="179.6" y="627.9"/><use href="#ast" x="180.4" y="628.8"/><use href="#ast" x="180.6" y="630"/><use href="#ast" x="180.5" y="631.2"/><use href="#ast" x="181" y="632.1"/><use href="#ast" x="181.6" y="629.3"/><use href="#ast" x="181.9" y="630.1"/><use href="#ast" x="181.9" y="628.2"/><use href="#ast" x="181.4" y="631.6"/><use href="#ast" x="182.8" y="628.4"/><use href="#ast" x="182.9" y="629.4"/><use href="#ast" x="182.9" y="627.8"/><use href="#ast" x="183.4" y="628.8"/><use href="#ast" x="183.3" y="627.9"/><use href="#ast" x="184.3" y="629.7"/><use href="#ast" x="184.3" y="629.2"/><use href="#ast" x="184" y="630.8"/><use href="#ast" x="185.2" y="633.6"/><use href="#ast" x="185.6" y="634.4"/><use href="#ast" x="185.6" y="632.8"/><use href="#ast" x="186.2" y="632.9"/><use href="#ast" x="185.5" y="633.7"/><use href="#ast" x="187.2" y="635"/><use href="#ast" x="187" y="629.6"/><use href="#ast" x="187.6" y="629.2"/><use href="#ast" x="186.2" y="635.1"/><use href="#ast" x="187" y="633.3"/><use href="#ast" x="187.7" y="633.9"/><use href="#ast" x="188.2" y="635.9"/><use href="#ast" x="189.5" y="632.1"/><use href="#ast" x="188.9" y="630.2"/><use href="#ast" x="188.6" y="634.8"/><use href="#ast" x="189.7" y="636"/><use href="#ast" x="189.9" y="632.8"/><use href="#ast" x="189.7" y="631.7"/><use href="#ast" x="190.8" y="633"/><use href="#ast" x="191.2" y="637.3"/><use href="#ast" x="190.8" y="637.3"/><use href="#ast" x="190.8" y="637.2"/><use href="#ast" x="191.9" y="631.8"/><use href="#ast" x="192" y="633.6"/><use href="#ast" x="192" y="637.4"/><use href="#ast" x="192" y="633.7"/><use href="#ast" x="192.6" y="638.7"/><use href="#ast" x="193.2" y="637.4"/><use href="#ast" x="193.3" y="638.3"/><use href="#ast" x="192.2" y="636.5"/><use href="#ast" x="194.2" y="636.9"/><use href="#ast" x="195" y="634"/><use href="#ast" x="194.6" y="638.7"/><use href="#ast" x="195.2" y="635.9"/><use href="#ast" x="195.1" y="637.1"/><use href="#ast" x="196.3" y="636.2"/><use href="#ast" x="195.6" y="638.6"/><use href="#ast" x="196.6" y="637.1"/><use href="#ast" x="197" y="639.4"/><use href="#ast" x="196.4" y="635.2"/><use href="#ast" x="197.2" y="639.9"/><use href="#ast" x="196.4" y="640.2"/><use href="#ast" x="197.6" y="638.7"/><use href="#ast" x="197" y="638.7"/><use href="#ast" x="198.3" y="638"/><use href="#ast" x="198.1" y="637.6"/><use href="#ast" x="198.5" y="637.5"/><use href="#ast" x="198.4" y="639.6"/><use href="#ast" x="199.3" y="641.6"/><use href="#ast" x="199.8" y="638.7"/><use href="#ast" x="199.3" y="640.5"/><use href="#ast" x="199.9" y="638.1"/><use href="#ast" x="200.5" y="640.6"/><use href="#ast" x="200.3" y="638.1"/><use href="#ast" x="201.5" y="643.6"/><use href="#ast" x="202.2" y="638.1"/><use href="#ast" x="201.6" y="640.7"/><use href="#ast" x="201.8" y="638.9"/><use href="#ast" x="202.2" y="644"/><use href="#ast" x="202" y="641.8"/><use href="#ast" x="202" y="641.1"/><use href="#ast" x="202.6" y="641.8"/><use href="#ast" x="203.4" y="639.9"/><use href="#ast" x="203.4" y="645.8"/><use href="#ast" x="203.4" y="643.9"/><use href="#ast" x="203.6" y="643.6"/><use href="#ast" x="204.4" y="643.9"/><use href="#ast" x="204.6" y="643.8"/><use href="#ast" x="205.4" y="644.2"/><use href="#ast" x="204.8" y="641.6"/><use href="#ast" x="206.9" y="646.1"/><use href="#ast" x="205.9" y="644.4"/><use href="#ast" x="207.2" y="643.6"/><use href="#ast" x="206.3" y="643.6"/><use href="#ast" x="207" y="645.9"/><use href="#ast" x="206.8" y="642.2"/><use href="#ast" x="208.2" y="647.7"/><use href="#ast" x="208" y="643.5"/><use href="#ast" x="207.6" y="647.6"/><use href="#ast" x="208.2" y="642.4"/><use href="#ast" x="208.9" y="643.6"/><use href="#ast" x="208" y="648.6"/><use href="#ast" x="208.8" y="643.8"/><use href="#ast" x="209.1" y="646.3"/><use href="#ast" x="208.6" y="645.9"/><use href="#ast" x="210.1" y="645.5"/><use href="#ast" x="211.3" y="648.3"/><use href="#ast" x="209.7" y="648.8"/><use href="#ast" x="210.3" y="648.8"/><use href="#ast" x="211.2" y="649.6"/><use href="#ast" x="211.7" y="647"/><use href="#ast" x="211.9" y="647.5"/><use href="#ast" x="211.9" y="645.2"/><use href="#ast" x="212.1" y="644.8"/><use href="#ast" x="211.8" y="645.5"/><use href="#ast" x="213.9" y="647.2"/><use href="#ast" x="213.9" y="646.8"/><use href="#ast" x="213.2" y="647.3"/><use href="#ast" x="213.8" y="647"/><use href="#ast" x="214" y="650.4"/><use href="#ast" x="214.2" y="651.5"/><use href="#ast" x="214.2" y="647.8"/><use href="#ast" x="216.1" y="647.6"/><use href="#ast" x="215.2" y="649"/><use href="#ast" x="215.9" y="652.5"/><use href="#ast" x="215.8" y="651.2"/><use href="#ast" x="216.3" y="647.5"/><use href="#ast" x="217.2" y="651.4"/><use href="#ast" x="216.8" y="652.9"/><use href="#ast" x="217.8" y="647.7"/><use href="#ast" x="217" y="653.5"/><use href="#ast" x="218" y="653.5"/><use href="#ast" x="218.6" y="648"/><use href="#ast" x="218.6" y="650.7"/><use href="#ast" x="218.2" y="652.6"/><use href="#ast" x="218.3" y="654.4"/><use href="#ast" x="218.9" y="653.3"/><use href="#ast" x="219.1" y="653.1"/><use href="#ast" x="219.8" y="654.6"/><use href="#ast" x="219.9" y="651.1"/><use href="#ast" x="219.9" y="654.4"/><use href="#ast" x="220" y="654.5"/><use href="#ast" x="220.5" y="650.8"/><use href="#ast" x="221.1" y="651.5"/><use href="#ast" x="221.8" y="651"/><use href="#ast" x="221.9" y="649.5"/><use href="#ast" x="222.3" y="653.6"/><use href="#ast" x="222.9" y="653.1"/><use href="#ast" x="222.8" y="650.3"/><use href="#ast" x="222.2" y="650.7"/><use href="#ast" x="223.1" y="654"/><use href="#ast" x="222.8" y="651.1"/><use href="#ast" x="223.8" y="650.3"/><use href="#ast" x="223.2" y="653.8"/><use href="#ast" x="224.3" y="651.2"/><use href="#ast" x="224.7" y="649.5"/><use href="#ast" x="225.2" y="653.2"/><use href="#ast" x="225.2" y="651.6"/><use href="#ast" x="226.8" y="653.2"/><use href="#ast" x="225.6" y="653.8"/><use href="#ast" x="226.5" y="655.4"/><use href="#ast" x="226.2" y="650.5"/><use href="#ast" x="226.2" y="655.2"/><use href="#ast" x="226.8" y="652.5"/><use href="#ast" x="226.6" y="654.6"/><use href="#ast" x="227.7" y="651.6"/><use href="#ast" x="227" y="652.6"/><use href="#ast" x="228.6" y="650"/><use href="#ast" x="228.4" y="647.9"/><use href="#ast" x="229.1" y="648"/><use href="#ast" x="228.5" y="649.6"/><use href="#ast" x="230.1" y="647.4"/><use href="#ast" x="230.2" y="650"/><use href="#ast" x="230.4" y="651.7"/><use href="#ast" x="230.2" y="648.5"/><use href="#ast" x="230.9" y="652.7"/><use href="#ast" x="230.8" y="647.3"/><use href="#ast" x="231.7" y="646.8"/><use href="#ast" x="230.5" y="646.6"/><use href="#ast" x="231.7" y="650.6"/><use href="#ast" x="232.6" y="647.3"/><use href="#ast" x="232.7" y="648.4"/><use href="#ast" x="233" y="646.7"/><use href="#ast" x="233.3" y="650.5"/><use href="#ast" x="233.2" y="650"/><use href="#ast" x="233" y="647.5"/><use href="#ast" x="234" y="652"/><use href="#ast" x="233.8" y="649.8"/><use href="#ast" x="234.2" y="645.6"/><use href="#ast" x="234.6" y="645.8"/><use href="#ast" x="234.9" y="649.9"/><use href="#ast" x="234.7" y="650.4"/><use href="#ast" x="235.8" y="646.3"/><use href="#ast" x="235.9" y="650.6"/><use href="#ast" x="236.7" y="646.5"/><use href="#ast" x="237.4" y="647.5"/><use href="#ast" x="237" y="648.1"/><use href="#ast" x="237" y="647.5"/><use href="#ast" x="236.6" y="649.2"/><use href="#ast" x="237.5" y="650.2"/><use href="#ast" x="237.9" y="646.4"/><use href="#ast" x="238.3" y="650.4"/><use href="#ast" x="238.5" y="644.8"/><use href="#ast" x="238.5" y="650.7"/><use href="#ast" x="239.5" y="644.6"/><use href="#ast" x="239.4" y="647.7"/><use href="#ast" x="240.1" y="650.9"/><use href="#ast" x="239.5" y="645.7"/><use href="#ast" x="240.3" y="647.7"/><use href="#ast" x="241.1" y="649.4"/><use href="#ast" x="241.4" y="649.3"/><use href="#ast" x="240.5" y="651.1"/><use href="#ast" x="241.3" y="650.5"/><use href="#ast" x="241.5" y="649.2"/><use href="#ast" x="242.5" y="649.9"/><use href="#ast" x="242.4" y="649.4"/><use href="#ast" x="242.2" y="647.1"/><use href="#ast" x="242.8" y="647.1"/><use href="#ast" x="242.9" y="649.7"/><use href="#ast" x="243.4" y="649.4"/><use href="#ast" x="243.5" y="648.8"/><use href="#ast" x="244.1" y="654.2"/><use href="#ast" x="244.9" y="651.1"/><use href="#ast" x="245.7" y="650.2"/><use href="#ast" x="245.3" y="650.4"/><use href="#ast" x="246.1" y="650.9"/><use href="#ast" x="244.5" y="655"/><use href="#ast" x="246.1" y="654.4"/><use href="#ast" x="246.4" y="651.8"/><use href="#ast" x="246.6" y="650"/><use href="#ast" x="246.6" y="653.9"/><use href="#ast" x="245.8" y="654.4"/><use href="#ast" x="246.7" y="656.7"/><use href="#ast" x="247.4" y="655.7"/><use href="#ast" x="248" y="657.1"/><use href="#ast" x="247.6" y="656.8"/><use href="#ast" x="248.4" y="655.6"/><use href="#ast" x="248.6" y="653.3"/><use href="#ast" x="248.9" y="654.4"/><use href="#ast" x="249.3" y="653.9"/><use href="#ast" x="249.9" y="659.6"/><use href="#ast" x="249.7" y="654.1"/><use href="#ast" x="250.1" y="655.4"/><use href="#ast" x="250" y="658.8"/><use href="#ast" x="250.5" y="658.3"/><use href="#ast" x="250.6" y="660.3"/><use href="#ast" x="251.5" y="659.1"/><use href="#ast" x="252.6" y="662.9"/><use href="#ast" x="252.8" y="662.2"/><use href="#ast" x="251.9" y="663.8"/><use href="#ast" x="252.7" y="661.8"/><use href="#ast" x="252.8" y="663.4"/><use href="#ast" x="252.2" y="660.3"/><use href="#ast" x="252.3" y="660.1"/><use href="#ast" x="253.3" y="666.7"/><use href="#ast" x="253.9" y="661.9"/><use href="#ast" x="253.5" y="661.9"/><use href="#ast" x="254" y="665.8"/><use href="#ast" x="254.4" y="663.1"/><use href="#ast" x="254.6" y="668.2"/><use href="#ast" x="254.7" y="664.2"/><use href="#ast" x="255.6" y="668"/><use href="#ast" x="256.3" y="670"/><use href="#ast" x="256.4" y="668.2"/><use href="#ast" x="256.1" y="669"/><use href="#ast" x="256.8" y="670.6"/><use href="#ast" x="257.2" y="672.8"/><use href="#ast" x="256.5" y="669.6"/><use href="#ast" x="258.2" y="672.4"/><use href="#ast" x="257.7" y="671.9"/><use href="#ast" x="257.7" y="671.6"/><use href="#ast" x="259.9" y="671.8"/><use href="#ast" x="258.4" y="671"/><use href="#ast" x="259" y="671.7"/><use href="#ast" x="259.1" y="672.8"/><use href="#ast" x="260.3" y="676.9"/><use href="#ast" x="259.9" y="677.7"/><use href="#ast" x="259.6" y="672.1"/><use href="#ast" x="259.6" y="672.4"/><use href="#ast" x="260.7" y="673.8"/><use href="#ast" x="262.2" y="675"/><use href="#ast" x="261" y="678.9"/><use href="#ast" x="262.5" y="676.1"/><use href="#ast" x="261.7" y="674.5"/><use href="#ast" x="261.7" y="681.3"/><use href="#ast" x="261.5" y="681.2"/><use href="#ast" x="262.9" y="677.8"/><use href="#ast" x="263.4" y="678.3"/><use href="#ast" x="263.5" y="677.4"/><use href="#ast" x="262.9" y="682.3"/><use href="#ast" x="263.9" y="678.8"/><use href="#ast" x="264.6" y="680.3"/><use href="#ast" x="264.5" y="683.7"/><use href="#ast" x="265.3" y="679.7"/><use href="#ast" x="266.4" y="686.2"/><use href="#ast" x="265" y="685.3"/><use href="#ast" x="267.2" y="686.3"/><use href="#ast" x="265.7" y="686.6"/><use href="#ast" x="266.5" y="686.3"/><use href="#ast" x="266.7" y="685"/><use href="#ast" x="267.5" y="681.6"/><use href="#ast" x="267.2" y="683.4"/><use href="#ast" x="267.7" y="685.2"/><use href="#ast" x="267.9" y="679.9"/><use href="#ast" x="268.5" y="683.6"/><use href="#ast" x="268.8" y="681.2"/><use href="#ast" x="268.8" y="681.7"/><use href="#ast" x="269.6" y="677.6"/><use href="#ast" x="270.2" y="682.4"/><use href="#ast" x="269.4" y="676.5"/><use href="#ast" x="269.7" y="678.3"/><use href="#ast" x="270" y="679.3"/><use href="#ast" x="270.3" y="677.2"/><use href="#ast" x="270.6" y="678.6"/><use href="#ast" x="271.2" y="678.8"/><use href="#ast" x="271.9" y="679.1"/><use href="#ast" x="271.5" y="679.7"/><use href="#ast" x="272.3" y="673.8"/><use href="#ast" x="272.2" y="674.5"/><use href="#ast" x="273.9" y="676.1"/><use href="#ast" x="273.1" y="672.3"/><use href="#ast" x="273.6" y="671.7"/><use href="#ast" x="273.1" y="676.6"/><use href="#ast" x="273.4" y="671.1"/><use href="#ast" x="274.2" y="672.8"/><use href="#ast" x="274" y="671.6"/><use href="#ast" x="274.7" y="674.3"/><use href="#ast" x="275.6" y="668.6"/><use href="#ast" x="274.9" y="670"/><use href="#ast" x="275.2" y="666.6"/><use href="#ast" x="276" y="671.3"/><use href="#ast" x="276" y="666.3"/><use href="#ast" x="276.8" y="665.9"/><use href="#ast" x="276.7" y="663.7"/><use href="#ast" x="276.5" y="662.9"/><use href="#ast" x="276.3" y="663.6"/><use href="#ast" x="277.8" y="666.8"/><use href="#ast" x="277.6" y="661.9"/><use href="#ast" x="278.3" y="662"/><use href="#ast" x="277.6" y="663.8"/><use href="#ast" x="278.4" y="662.6"/><use href="#ast" x="279.3" y="663.6"/><use href="#ast" x="279.9" y="662.2"/><use href="#ast" x="280.2" y="658.2"/><use href="#ast" x="280.6" y="659.9"/><use href="#ast" x="280.3" y="656.9"/><use href="#ast" x="281" y="657.3"/><use href="#ast" x="281" y="659.1"/><use href="#ast" x="281" y="658.7"/><use href="#ast" x="281.2" y="653.8"/><use href="#ast" x="281.3" y="651.5"/><use href="#ast" x="282.5" y="651.1"/><use href="#ast" x="282.3" y="655"/><use href="#ast" x="282.3" y="652.8"/><use href="#ast" x="282.8" y="648.2"/><use href="#ast" x="284.1" y="650.1"/><use href="#ast" x="282.8" y="650.4"/><use href="#ast" x="283.1" y="645.6"/><use href="#ast" x="284.8" y="650.4"/><use href="#ast" x="283.7" y="647.3"/><use href="#ast" x="285.4" y="649.2"/><use href="#ast" x="284.7" y="644.9"/><use href="#ast" x="285.5" y="646.2"/><use href="#ast" x="286.2" y="645.6"/><use href="#ast" x="286.5" y="640.4"/><use href="#ast" x="286.5" y="645.6"/><use href="#ast" x="286.4" y="643.5"/><use href="#ast" x="286.6" y="640.7"/><use href="#ast" x="286.9" y="640.9"/><use href="#ast" x="288.1" y="640.6"/><use href="#ast" x="287.8" y="640.1"/><use href="#ast" x="288.5" y="637.3"/><use href="#ast" x="287" y="637.1"/><use href="#ast" x="288.3" y="634.6"/><use href="#ast" x="288.9" y="635.2"/><use href="#ast" x="288.9" y="637.2"/><use href="#ast" x="290.4" y="633.5"/><use href="#ast" x="289.1" y="636.8"/><use href="#ast" x="290.2" y="634.1"/><use href="#ast" x="290.7" y="634.4"/><use href="#ast" x="290.1" y="630.7"/><use href="#ast" x="291.3" y="633.8"/><use href="#ast" x="291.3" y="633.2"/><use href="#ast" x="292.9" y="630.9"/><use href="#ast" x="292.4" y="630.1"/><use href="#ast" x="292" y="632.5"/><use href="#ast" x="292.8" y="628.1"/><use href="#ast" x="292.8" y="632.6"/><use href="#ast" x="292.7" y="629.1"/><use href="#ast" x="293.5" y="627.2"/><use href="#ast" x="293.7" y="630.1"/><use href="#ast" x="294.6" y="628.9"/><use href="#ast" x="293.4" y="630.4"/><use href="#ast" x="293.7" y="630.1"/><use href="#ast" x="294.3" y="625.4"/><use href="#ast" x="295.3" y="628.6"/><use href="#ast" x="295.8" y="630"/><use href="#ast" x="295.5" y="628.9"/><use href="#ast" x="295.9" y="628.1"/><use href="#ast" x="296.1" y="625.2"/><use href="#ast" x="295.6" y="626.3"/><use href="#ast" x="296.3" y="626.7"/><use href="#ast" x="297.4" y="624.9"/><use href="#ast" x="297.7" y="624.5"/><use href="#ast" x="298.2" y="625.2"/><use href="#ast" x="298.2" y="622.2"/><use href="#ast" x="296.9" y="623.5"/><use href="#ast" x="298.6" y="622.5"/><use href="#ast" x="298.9" y="627.9"/><use href="#ast" x="298.4" y="622.6"/><use href="#ast" x="300.3" y="622.7"/><use href="#ast" x="299.6" y="622.6"/><use href="#ast" x="300.4" y="625"/><use href="#ast" x="300.6" y="623.8"/><use href="#ast" x="300.8" y="626.4"/><use href="#ast" x="301.5" y="624"/><use href="#ast" x="301" y="622.5"/><use href="#ast" x="301.9" y="624.4"/><use href="#ast" x="301.9" y="626.9"/><use href="#ast" x="301.4" y="622.4"/><use href="#ast" x="301.9" y="626.8"/><use href="#ast" x="302" y="625.4"/><use href="#ast" x="302" y="627.8"/><use href="#ast" x="302.4" y="625.5"/><use href="#ast" x="303.7" y="623.7"/><use href="#ast" x="303" y="627.3"/><use href="#ast" x="304.5" y="623.8"/><use href="#ast" x="304.2" y="625.7"/><use href="#ast" x="304.5" y="626.3"/><use href="#ast" x="304.3" y="625.4"/><use href="#ast" x="305.4" y="624"/><use href="#ast" x="305" y="623.6"/><use href="#ast" x="306.1" y="622.1"/><use href="#ast" x="306.4" y="623.9"/><use href="#ast" x="305.5" y="626.1"/><use href="#ast" x="306.9" y="627"/><use href="#ast" x="305.9" y="625"/><use href="#ast" x="307.7" y="626.1"/><use href="#ast" x="306.5" y="625.5"/><use href="#ast" x="307.3" y="626.1"/><use href="#ast" x="308.8" y="625"/><use href="#ast" x="308.5" y="622.8"/><use href="#ast" x="309.1" y="621.5"/><use href="#ast" x="307.8" y="622.9"/><use href="#ast" x="309.7" y="626.1"/><use href="#ast" x="309.2" y="624.9"/><use href="#ast" x="310.7" y="621.8"/><use href="#ast" x="310.2" y="621"/><use href="#ast" x="310.4" y="626.6"/><use href="#ast" x="309.9" y="625.3"/><use href="#ast" x="310.6" y="623.7"/><use href="#ast" x="311.3" y="623.2"/><use href="#ast" x="312.3" y="623.6"/><use href="#ast" x="312.6" y="622.2"/><use href="#ast" x="312.1" y="626.7"/><use href="#ast" x="311.9" y="621.7"/><use href="#ast" x="312.2" y="621.1"/><use href="#ast" x="314" y="625.7"/><use href="#ast" x="313.5" y="622.9"/><use href="#ast" x="313.2" y="620.8"/><use href="#ast" x="314.7" y="622.3"/><use href="#ast" x="314.6" y="626.1"/><use href="#ast" x="315" y="620.9"/><use href="#ast" x="315.3" y="621"/><use href="#ast" x="315.3" y="626.2"/><use href="#ast" x="315.2" y="621.2"/><use href="#ast" x="314.9" y="624.2"/><use href="#ast" x="315.4" y="619.9"/><use href="#ast" x="315.9" y="621.5"/><use href="#ast" x="316.9" y="623"/><use href="#ast" x="316.5" y="622.8"/><use href="#ast" x="317.6" y="626.3"/><use href="#ast" x="318" y="620.2"/><use href="#ast" x="318.6" y="621.2"/><use href="#ast" x="318.9" y="620.9"/><use href="#ast" x="317" y="625.7"/><use href="#ast" x="319.5" y="624.8"/><use href="#ast" x="319.1" y="620.9"/><use href="#ast" x="319.3" y="621.5"/><use href="#ast" x="319.2" y="621"/><use href="#ast" x="320" y="618.4"/><use href="#ast" x="320.2" y="620.8"/><use href="#ast" x="320.1" y="621.6"/><use href="#ast" x="319.8" y="617.7"/><use href="#ast" x="321.7" y="618.8"/><use href="#ast" x="321.6" y="621.4"/><use href="#ast" x="321.1" y="620.6"/><use href="#ast" x="321.7" y="617.8"/><use href="#ast" x="322.6" y="621.6"/><use href="#ast" x="322.2" y="617.5"/><use href="#ast" x="323" y="619.1"/><use href="#ast" x="323.6" y="616.9"/><use href="#ast" x="323.8" y="614.4"/><use href="#ast" x="323.6" y="619.7"/><use href="#ast" x="323.5" y="616.2"/><use href="#ast" x="324.1" y="617.8"/><use href="#ast" x="324.9" y="615.8"/><use href="#ast" x="324.8" y="617.4"/><use href="#ast" x="326" y="613.8"/><use href="#ast" x="326.3" y="615.3"/><use href="#ast" x="326.5" y="615.5"/><use href="#ast" x="326.4" y="613.2"/><use href="#ast" x="325.7" y="612.6"/><use href="#ast" x="327.5" y="613.8"/><use href="#ast" x="327.3" y="613.1"/><use href="#ast" x="326.9" y="610.6"/><use href="#ast" x="327.1" y="615.6"/><use href="#ast" x="327.5" y="612.9"/><use href="#ast" x="328.2" y="613.4"/><use href="#ast" x="327.7" y="615.4"/><use href="#ast" x="329.3" y="611.7"/><use href="#ast" x="328.8" y="615.3"/><use href="#ast" x="329.5" y="613.6"/><use href="#ast" x="328.7" y="614.4"/><use href="#ast" x="331.3" y="612.2"/><use href="#ast" x="330.6" y="611.8"/><use href="#ast" x="330.4" y="611.8"/><use href="#ast" x="330.1" y="613.5"/><use href="#ast" x="331.8" y="609.3"/><use href="#ast" x="331.1" y="610.7"/><use href="#ast" x="331.4" y="614.3"/><use href="#ast" x="331.4" y="614.3"/><use href="#ast" x="331.5" y="612.2"/><use href="#ast" x="332.4" y="610"/><use href="#ast" x="332.8" y="612.9"/><use href="#ast" x="332.8" y="607.8"/><use href="#ast" x="332.8" y="609.2"/><use href="#ast" x="334.4" y="607"/><use href="#ast" x="334.7" y="612.7"/><use href="#ast" x="333.8" y="610.8"/><use href="#ast" x="335.2" y="608"/><use href="#ast" x="334.8" y="611.4"/><use href="#ast" x="335.1" y="607.3"/><use href="#ast" x="336.4" y="608.5"/><use href="#ast" x="336.6" y="606.3"/><use href="#ast" x="335.7" y="608.7"/><use href="#ast" x="336.6" y="608.2"/><use href="#ast" x="336.2" y="608.1"/><use href="#ast" x="336" y="608.9"/><use href="#ast" x="337.6" y="611"/><use href="#ast" x="337.7" y="608.9"/><use href="#ast" x="338.1" y="610.9"/><use href="#ast" x="339.1" y="611.4"/><use href="#ast" x="338.2" y="611"/><use href="#ast" x="338.8" y="610.9"/><use href="#ast" x="339" y="608.1"/><use href="#ast" x="338.2" y="609.2"/><use href="#ast" x="339.4" y="611"/><use href="#ast" x="339" y="611.9"/><use href="#ast" x="340.1" y="611.1"/><use href="#ast" x="339.8" y="607.2"/><use href="#ast" x="340.1" y="608.9"/><use href="#ast" x="341.6" y="608.4"/><use href="#ast" x="341" y="609.6"/><use href="#ast" x="341.4" y="611"/><use href="#ast" x="342" y="609.2"/><use href="#ast" x="341" y="612.6"/><use href="#ast" x="341.9" y="608.3"/><use href="#ast" x="342.3" y="611.7"/><use href="#ast" x="343.2" y="610.9"/><use href="#ast" x="343.4" y="611.6"/><use href="#ast" x="343.2" y="610.1"/><use href="#ast" x="344.7" y="613.6"/><use href="#ast" x="343.9" y="609.2"/><use href="#ast" x="344" y="611"/><use href="#ast" x="344.9" y="617"/><use href="#ast" x="344.7" y="615.1"/><use href="#ast" x="345.9" y="613"/><use href="#ast" x="345.8" y="619.9"/><use href="#ast" x="345.5" y="617.6"/><use href="#ast" x="347.3" y="617"/><use href="#ast" x="346.3" y="622.2"/><use href="#ast" x="346.8" y="622.6"/><use href="#ast" x="347.2" y="620.7"/><use href="#ast" x="347.5" y="624.9"/><use href="#ast" x="347.9" y="624.2"/><use href="#ast" x="347.3" y="622.3"/><use href="#ast" x="348.3" y="624.8"/><use href="#ast" x="347.5" y="625.1"/><use href="#ast" x="348.7" y="627"/><use href="#ast" x="349.1" y="625.8"/><use href="#ast" x="349.7" y="626.7"/><use href="#ast" x="349.3" y="627.1"/><use href="#ast" x="350.1" y="628"/><use href="#ast" x="350.1" y="632.8"/><use href="#ast" x="350.6" y="628.5"/><use href="#ast" x="350.4" y="631.8"/><use href="#ast" x="351.7" y="634.3"/><use href="#ast" x="351.9" y="633"/><use href="#ast" x="350.9" y="633.3"/><use href="#ast" x="351.9" y="632"/><use href="#ast" x="352.1" y="633.3"/><use href="#ast" x="351.6" y="637.4"/><use href="#ast" x="352.3" y="634.2"/><use href="#ast" x="353.1" y="635.5"/><use href="#ast" x="352.9" y="636.5"/><use href="#ast" x="353.9" y="639.1"/><use href="#ast" x="354.4" y="640.9"/><use href="#ast" x="354.1" y="638.9"/><use href="#ast" x="355" y="638.1"/><use href="#ast" x="355.7" y="637.6"/><use href="#ast" x="354.9" y="642"/><use href="#ast" x="356.1" y="640"/><use href="#ast" x="356.4" y="641.2"/><use href="#ast" x="356.8" y="639.4"/><use href="#ast" x="356.5" y="639.7"/><use href="#ast" x="356.9" y="645.1"/><use href="#ast" x="356.6" y="645.5"/><use href="#ast" x="357.8" y="641.3"/><use href="#ast" x="358" y="643"/><use href="#ast" x="358.1" y="646.6"/><use href="#ast" x="358.2" y="642.6"/><use href="#ast" x="358.2" y="640.8"/><use href="#ast" x="357.7" y="641.4"/><use href="#ast" x="358.8" y="645.7"/><use href="#ast" x="358.5" y="647"/><use href="#ast" x="359.6" y="643.8"/><use href="#ast" x="359.6" y="648"/><use href="#ast" x="361.4" y="644.5"/><use href="#ast" x="360.3" y="648.6"/><use href="#ast" x="360.4" y="643.2"/><use href="#ast" x="362.1" y="647.2"/><use href="#ast" x="360.6" y="646.8"/><use href="#ast" x="362.3" y="649.4"/><use href="#ast" x="362.6" y="644.8"/><use href="#ast" x="362.3" y="646"/><use href="#ast" x="361.9" y="645.5"/><use href="#ast" x="362.6" y="650.7"/><use href="#ast" x="363.3" y="646.4"/><use href="#ast" x="363.9" y="645.4"/><use href="#ast" x="364.1" y="650.5"/><use href="#ast" x="364.3" y="649.1"/><use href="#ast" x="364.2" y="650"/><use href="#ast" x="365.2" y="648.2"/><use href="#ast" x="364.4" y="647.8"/><use href="#ast" x="364.9" y="652.1"/><use href="#ast" x="365.6" y="648.8"/><use href="#ast" x="366.2" y="649.8"/><use href="#ast" x="366.4" y="649.2"/><use href="#ast" x="366.7" y="649.3"/><use href="#ast" x="366.5" y="653.6"/><use href="#ast" x="367.5" y="652.9"/><use href="#ast" x="366.3" y="652.6"/><use href="#ast" x="367.3" y="653.5"/><use href="#ast" x="367.2" y="652.9"/><use href="#ast" x="367.6" y="650.3"/><use href="#ast" x="368.7" y="650.1"/><use href="#ast" x="369.2" y="651.9"/><use href="#ast" x="368.6" y="654.3"/><use href="#ast" x="369.4" y="655.6"/><use href="#ast" x="370.6" y="651.6"/><use href="#ast" x="370.1" y="655.8"/><use href="#ast" x="371" y="652.3"/><use href="#ast" x="371.1" y="655.9"/><use href="#ast" x="371.4" y="655.9"/><use href="#ast" x="371" y="653.9"/><use href="#ast" x="371.6" y="653.5"/><use href="#ast" x="372.9" y="654.6"/><use href="#ast" x="371.6" y="654.8"/><use href="#ast" x="371.7" y="658"/><use href="#ast" x="373.2" y="651.9"/><use href="#ast" x="372.6" y="655.3"/><use href="#ast" x="373.2" y="657.4"/><use href="#ast" x="373.8" y="656.8"/><use href="#ast" x="373.6" y="655.8"/><use href="#ast" x="373.9" y="657.9"/><use href="#ast" x="373.8" y="658.6"/><use href="#ast" x="374.6" y="657.9"/><use href="#ast" x="374.3" y="655.3"/><use href="#ast" x="375.4" y="655.3"/><use href="#ast" x="375.6" y="654.8"/><use href="#ast" x="376.4" y="654.1"/><use href="#ast" x="376" y="656.4"/><use href="#ast" x="376.9" y="655.6"/><use href="#ast" x="377.3" y="658.9"/><use href="#ast" x="377.6" y="658"/><use href="#ast" x="377.7" y="657.9"/><use href="#ast" x="377.8" y="656.2"/><use href="#ast" x="378" y="659.1"/><use href="#ast" x="377.9" y="661.1"/><use href="#ast" x="378.4" y="660.3"/><use href="#ast" x="378.7" y="661.1"/><use href="#ast" x="380.1" y="658.7"/><use href="#ast" x="378.7" y="661.5"/><use href="#ast" x="379.5" y="659.5"/><use href="#ast" x="380" y="659.5"/><use href="#ast" x="379.7" y="661.9"/><use href="#ast" x="380.9" y="661"/><use href="#ast" x="380.5" y="656.7"/><use href="#ast" x="381.3" y="659.5"/><use href="#ast" x="381.4" y="658.6"/><use href="#ast" x="380.5" y="662.3"/><use href="#ast" x="382.3" y="659"/><use href="#ast" x="381.6" y="662.8"/><use href="#ast" x="382.7" y="662.8"/><use href="#ast" x="383.6" y="659.6"/><use href="#ast" x="383.6" y="662.1"/><use href="#ast" x="383.4" y="663.8"/><use href="#ast" x="383.7" y="663.1"/><use href="#ast" x="384.1" y="660.9"/><use href="#ast" x="384.2" y="664.5"/><use href="#ast" x="384.2" y="664.8"/><use href="#ast" x="384.9" y="660"/><use href="#ast" x="385.2" y="661.1"/><use href="#ast" x="386.5" y="662.6"/><use href="#ast" x="386" y="664.5"/><use href="#ast" x="387.2" y="660.6"/><use href="#ast" x="386.3" y="665.1"/><use href="#ast" x="386.8" y="665.8"/><use href="#ast" x="387" y="662.7"/><use href="#ast" x="386.8" y="661.6"/><use href="#ast" x="387.1" y="662.1"/><use href="#ast" x="387.7" y="663.3"/><use href="#ast" x="388.6" y="664.1"/><use href="#ast" x="387.9" y="665.5"/><use href="#ast" x="388" y="667.2"/><use href="#ast" x="389" y="667.5"/><use href="#ast" x="389" y="667"/><use href="#ast" x="389.2" y="665.4"/><use href="#ast" x="390.7" y="666.1"/><use href="#ast" x="390.1" y="667.5"/><use href="#ast" x="390.7" y="668"/><use href="#ast" x="390.7" y="664.2"/><use href="#ast" x="391.4" y="664.5"/><use href="#ast" x="391.3" y="663.2"/><use href="#ast" x="391.5" y="667"/><use href="#ast" x="392.2" y="668.4"/><use href="#ast" x="392.2" y="664.9"/><use href="#ast" x="393.1" y="664.5"/><use href="#ast" x="392.4" y="665.3"/><use href="#ast" x="393.8" y="670.2"/><use href="#ast" x="392.8" y="667.9"/><use href="#ast" x="393.5" y="668.9"/><use href="#ast" x="394" y="666.7"/><use href="#ast" x="393.7" y="665.9"/><use href="#ast" x="394.2" y="669"/><use href="#ast" x="395.2" y="665.2"/><use href="#ast" x="395" y="667.6"/><use href="#ast" x="395.1" y="669.2"/><use href="#ast" x="396.1" y="670.8"/><use href="#ast" x="396.1" y="670"/><use href="#ast" x="396.6" y="669.7"/><use href="#ast" x="397.3" y="666.4"/><use href="#ast" x="396.9" y="669.2"/><use href="#ast" x="397.4" y="671.3"/><use href="#ast" x="398.9" y="666.5"/><use href="#ast" x="396.8" y="668.6"/><use href="#ast" x="398.2" y="668.1"/><use href="#ast" x="398" y="669.5"/><use href="#ast" x="398.9" y="667.3"/><use href="#ast" x="398.5" y="673.7"/><use href="#ast" x="399" y="669.7"/><use href="#ast" x="398.9" y="668.7"/><use href="#ast" x="400.2" y="673.3"/><use href="#ast" x="400.1" y="673"/><use href="#ast" x="400.3" y="668.1"/><use href="#ast" x="400.2" y="673"/><use href="#ast" x="401.6" y="670.4"/><use href="#ast" x="400.4" y="669.9"/><use href="#ast" x="402.1" y="669.4"/><use href="#ast" x="402.1" y="669.3"/><use href="#ast" x="401.9" y="673.9"/><use href="#ast" x="402.5" y="673.3"/><use href="#ast" x="402" y="673"/><use href="#ast" x="403.7" y="673.7"/><use href="#ast" x="402.7" y="670.9"/><use href="#ast" x="403.3" y="670"/><use href="#ast" x="404.4" y="673.6"/><use href="#ast" x="404" y="671.8"/><use href="#ast" x="404.6" y="670.8"/><use href="#ast" x="404.9" y="673.4"/><use href="#ast" x="404.8" y="669.9"/><use href="#ast" x="405.2" y="676.3"/><use href="#ast" x="406.6" y="674.6"/><use href="#ast" x="406.4" y="674.2"/><use href="#ast" x="406.5" y="674.1"/><use href="#ast" x="406.6" y="670.8"/><use href="#ast" x="406.4" y="670.3"/><use href="#ast" x="406.5" y="675.4"/><use href="#ast" x="407.7" y="675.2"/><use href="#ast" x="407.4" y="671.2"/><use href="#ast" x="407.9" y="675"/><use href="#ast" x="407.8" y="673.9"/><use href="#ast" x="407.8" y="674.8"/><use href="#ast" x="409" y="671.2"/><use href="#ast" x="408.7" y="676.4"/><use href="#ast" x="410.5" y="676.4"/><use href="#ast" x="410.6" y="674.8"/><use href="#ast" x="409.9" y="675.9"/><use href="#ast" x="410.9" y="674.4"/><use href="#ast" x="410.2" y="675.5"/><use href="#ast" x="411.5" y="671.2"/><use href="#ast" x="412.3" y="672.1"/><use href="#ast" x="411.9" y="675.5"/><use href="#ast" x="412.9" y="673.7"/><use href="#ast" x="411.1" y="673.9"/><use href="#ast" x="412.4" y="672.8"/><use href="#ast" x="412.6" y="674.4"/><use href="#ast" x="413.3" y="672.4"/><use href="#ast" x="413.3" y="674.5"/><use href="#ast" x="413.9" y="673.6"/><use href="#ast" x="414" y="674.6"/><use href="#ast" x="413.8" y="674.2"/><use href="#ast" x="413.8" y="671.6"/><use href="#ast" x="415.3" y="671.8"/><use href="#ast" x="414.7" y="675"/><use href="#ast" x="415.6" y="674.4"/><use href="#ast" x="415.8" y="673.6"/><use href="#ast" x="415.7" y="669.6"/><use href="#ast" x="415.5" y="672.3"/><use href="#ast" x="416.6" y="669.3"/><use href="#ast" x="417.4" y="670.5"/><use href="#ast" x="415.7" y="673"/><use href="#ast" x="416.7" y="670.3"/><use href="#ast" x="419" y="668.4"/><use href="#ast" x="418.1" y="672.8"/><use href="#ast" x="418.5" y="669.9"/><use href="#ast" x="419.3" y="669.3"/><use href="#ast" x="419.7" y="673.3"/><use href="#ast" x="419.3" y="672.8"/><use href="#ast" x="419.8" y="671.6"/><use href="#ast" x="419.4" y="670.3"/><use href="#ast" x="420.1" y="669.1"/><use href="#ast" x="419.7" y="672.5"/><use href="#ast" x="421" y="671.5"/><use href="#ast" x="421.2" y="667.4"/><use href="#ast" x="421.5" y="669.8"/><use href="#ast" x="421.8" y="667.4"/><use href="#ast" x="420.9" y="667.7"/><use href="#ast" x="422" y="665.4"/><use href="#ast" x="421.9" y="668.9"/><use href="#ast" x="422.5" y="666.5"/><use href="#ast" x="423.3" y="670.8"/><use href="#ast" x="424" y="665.1"/><use href="#ast" x="423.5" y="666.6"/><use href="#ast" x="423.5" y="666.5"/><use href="#ast" x="423.9" y="668.8"/><use href="#ast" x="424.4" y="663.1"/><use href="#ast" x="424.6" y="668.9"/><use href="#ast" x="425.1" y="663.5"/><use href="#ast" x="425.7" y="666.3"/><use href="#ast" x="424.8" y="663.7"/><use href="#ast" x="425.1" y="663.1"/><use href="#ast" x="425.8" y="662.5"/><use href="#ast" x="426.2" y="660.5"/><use href="#ast" x="427.5" y="665.3"/><use href="#ast" x="426.9" y="663.8"/><use href="#ast" x="427.8" y="663.9"/><use href="#ast" x="427.1" y="664"/><use href="#ast" x="427.3" y="665.3"/><use href="#ast" x="429.6" y="662.3"/><use href="#ast" x="429" y="660.1"/><use href="#ast" x="428.3" y="662.2"/><use href="#ast" x="429" y="659.5"/><use href="#ast" x="430.4" y="658"/><use href="#ast" x="429.9" y="657.7"/><use href="#ast" x="429.7" y="661.7"/><use href="#ast" x="430.8" y="658.9"/><use href="#ast" x="430.8" y="661.6"/><use href="#ast" x="429.9" y="657.9"/><use href="#ast" x="432.3" y="659.9"/><use href="#ast" x="432" y="661.6"/><use href="#ast" x="431.7" y="659.1"/><use href="#ast" x="431.8" y="654.9"/><use href="#ast" x="432" y="659.2"/><use href="#ast" x="431.7" y="655.5"/><use href="#ast" x="433" y="656.9"/><use href="#ast" x="432.9" y="658"/><use href="#ast" x="432.9" y="658"/><use href="#ast" x="433.4" y="655.6"/><use href="#ast" x="435.2" y="657.2"/><use href="#ast" x="434.1" y="653.2"/><use href="#ast" x="435.3" y="655.8"/><use href="#ast" x="435.7" y="656.6"/><use href="#ast" x="435.3" y="656.9"/><use href="#ast" x="436" y="656.8"/><use href="#ast" x="435.4" y="654.8"/><use href="#ast" x="436" y="652.4"/><use href="#ast" x="436.5" y="649.6"/><use href="#ast" x="436.3" y="649.6"/><use href="#ast" x="436.6" y="650.1"/><use href="#ast" x="438.3" y="650.4"/><use href="#ast" x="438.2" y="654.1"/><use href="#ast" x="437.9" y="651.9"/><use href="#ast" x="437.7" y="652.6"/><use href="#ast" x="438.6" y="647.4"/><use href="#ast" x="438.3" y="647.7"/><use href="#ast" x="439" y="652.3"/><use href="#ast" x="439.4" y="648.6"/><use href="#ast" x="439.8" y="650.5"/><use href="#ast" x="439.7" y="646.3"/><use href="#ast" x="440.7" y="651.1"/><use href="#ast" x="441.2" y="649.9"/><use href="#ast" x="440.7" y="646.1"/><use href="#ast" x="441.3" y="644.8"/><use href="#ast" x="441.2" y="643.9"/><use href="#ast" x="441.8" y="647.8"/><use href="#ast" x="442.7" y="647.3"/><use href="#ast" x="442.1" y="647.8"/><use href="#ast" x="442.3" y="647.5"/><use href="#ast" x="442.8" y="647.7"/><use href="#ast" x="443" y="641.5"/><use href="#ast" x="443.6" y="643.4"/><use href="#ast" x="443.8" y="641.7"/><use href="#ast" x="442.3" y="645.1"/><use href="#ast" x="443.4" y="641.5"/><use href="#ast" x="445.3" y="644.4"/><use href="#ast" x="444.8" y="639.9"/><use href="#ast" x="445.2" y="645.1"/><use href="#ast" x="445.3" y="638.7"/><use href="#ast" x="446.5" y="640.4"/><use href="#ast" x="446.6" y="639.5"/><use href="#ast" x="446.5" y="637.3"/><use href="#ast" x="447" y="642.5"/><use href="#ast" x="447.2" y="640.9"/><use href="#ast" x="446.9" y="637.3"/><use href="#ast" x="447.5" y="641.6"/><use href="#ast" x="448.6" y="638.3"/><use href="#ast" x="448.5" y="641.1"/><use href="#ast" x="449.7" y="636.5"/><use href="#ast" x="449.1" y="636.8"/><use href="#ast" x="448.4" y="636.9"/><use href="#ast" x="449.6" y="633.6"/><use href="#ast" x="449.5" y="637.7"/><use href="#ast" x="449.2" y="633.8"/><use href="#ast" x="449.5" y="636.4"/><use href="#ast" x="451.1" y="635.2"/><use href="#ast" x="451.3" y="635.8"/><use href="#ast" x="450.7" y="637.3"/><use href="#ast" x="451.2" y="634.1"/><use href="#ast" x="451.6" y="636.9"/><use href="#ast" x="452.3" y="636.5"/><use href="#ast" x="452.4" y="632.5"/><use href="#ast" x="453.3" y="636.1"/><use href="#ast" x="452.7" y="632.6"/><use href="#ast" x="454" y="632.9"/><use href="#ast" x="453.9" y="631.1"/><use href="#ast" x="453.9" y="631.2"/><use href="#ast" x="454.1" y="632.6"/><use href="#ast" x="454.6" y="634.1"/><use href="#ast" x="455.1" y="631.6"/><use href="#ast" x="454.8" y="629.4"/><use href="#ast" x="455" y="631.9"/><use href="#ast" x="455.4" y="633.9"/><use href="#ast" x="455.6" y="628.5"/><use href="#ast" x="456.6" y="631.1"/><use href="#ast" x="456.7" y="628.3"/><use href="#ast" x="455.9" y="631.6"/><use href="#ast" x="456.7" y="632.1"/><use href="#ast" x="456.7" y="632"/><use href="#ast" x="457.5" y="630.7"/><use href="#ast" x="457.7" y="628.7"/><use href="#ast" x="457.8" y="631.6"/><use href="#ast" x="458.7" y="628.1"/><use href="#ast" x="458.5" y="626.5"/><use href="#ast" x="459.1" y="631"/><use href="#ast" x="459.2" y="629.8"/><use href="#ast" x="459.9" y="624.9"/><use href="#ast" x="460.2" y="627.7"/><use href="#ast" x="460.1" y="624.6"/><use href="#ast" x="460.7" y="626.5"/><use href="#ast" x="460.9" y="625.4"/><use href="#ast" x="461.8" y="626.6"/><use href="#ast" x="461" y="628.3"/><use href="#ast" x="461.8" y="624.2"/><use href="#ast" x="461.9" y="629.8"/><use href="#ast" x="462.2" y="629.6"/><use href="#ast" x="463.5" y="627.4"/><use href="#ast" x="463" y="625.6"/><use href="#ast" x="463.7" y="624.6"/><use href="#ast" x="464" y="626.4"/><use href="#ast" x="463.9" y="625.5"/><use href="#ast" x="464.2" y="627"/><use href="#ast" x="463.9" y="626.7"/><use href="#ast" x="464.3" y="626.6"/><use href="#ast" x="464.9" y="624.9"/><use href="#ast" x="464.4" y="628.6"/><use href="#ast" x="465.9" y="622.3"/><use href="#ast" x="466.6" y="627.8"/><use href="#ast" x="465.5" y="627.4"/><use href="#ast" x="466.6" y="627.8"/><use href="#ast" x="467.1" y="624.7"/><use href="#ast" x="466.7" y="623"/><use href="#ast" x="466.9" y="623.2"/><use href="#ast" x="466.8" y="626.7"/><use href="#ast" x="468.1" y="627.8"/><use href="#ast" x="468.1" y="626.1"/><use href="#ast" x="468.6" y="621.7"/><use href="#ast" x="468.3" y="627.1"/><use href="#ast" x="469" y="626.8"/><use href="#ast" x="469.8" y="626.6"/><use href="#ast" x="469.6" y="624.8"/><use href="#ast" x="470.2" y="625.3"/><use href="#ast" x="470.7" y="624.1"/><use href="#ast" x="470.5" y="620.5"/><use href="#ast" x="471" y="626"/><use href="#ast" x="471.5" y="620.9"/><use href="#ast" x="471.8" y="623.8"/><use href="#ast" x="472.3" y="626.1"/><use href="#ast" x="470.9" y="626.6"/><use href="#ast" x="472.3" y="623.2"/><use href="#ast" x="472.4" y="626.4"/><use href="#ast" x="473.9" y="624.2"/><use href="#ast" x="473.2" y="625.4"/><use href="#ast" x="473.7" y="622.7"/><use href="#ast" x="474.6" y="625.6"/><use href="#ast" x="472.9" y="624"/><use href="#ast" x="474.1" y="621"/><use href="#ast" x="473.5" y="624.8"/><use href="#ast" x="475.7" y="626.3"/><use href="#ast" x="475.7" y="620.8"/><use href="#ast" x="476.6" y="621.5"/><use href="#ast" x="475.6" y="622.5"/><use href="#ast" x="476.3" y="625.5"/><use href="#ast" x="476.7" y="622.1"/><use href="#ast" x="475.7" y="625"/><use href="#ast" x="476.7" y="622.9"/><use href="#ast" x="477.4" y="622.5"/><use href="#ast" x="476.8" y="621"/><use href="#ast" x="477.5" y="621.7"/><use href="#ast" x="478.6" y="621.8"/><use href="#ast" x="478.6" y="619.8"/><use href="#ast" x="478.1" y="623.6"/><use href="#ast" x="478.5" y="622.2"/><use href="#ast" x="479.5" y="623.3"/><use href="#ast" x="478.9" y="624.2"/><use href="#ast" x="479.5" y="619.6"/><use href="#ast" x="480.1" y="625.5"/><use href="#ast" x="480.9" y="625.4"/><use href="#ast" x="480.4" y="619.6"/><use href="#ast" x="480.9" y="621.9"/><use href="#ast" x="481.4" y="625.4"/><use href="#ast" x="481.4" y="625.6"/><use href="#ast" x="481.8" y="620.8"/><use href="#ast" x="482.9" y="622.6"/><use href="#ast" x="483.3" y="625"/><use href="#ast" x="483" y="619.5"/><use href="#ast" x="483.2" y="623.2"/><use href="#ast" x="483.5" y="622.4"/><use href="#ast" x="484.3" y="623.4"/><use href="#ast" x="483.8" y="620.8"/><use href="#ast" x="484.7" y="621.4"/><use href="#ast" x="484.9" y="622.4"/><use href="#ast" x="485.7" y="619.2"/><use href="#ast" x="485.6" y="621.3"/><use href="#ast" x="485.2" y="622.1"/><use href="#ast" x="485.9" y="622.3"/><use href="#ast" x="486.2" y="620.9"/><use href="#ast" x="485.9" y="619.4"/><use href="#ast" x="486.4" y="622.3"/><use href="#ast" x="486.3" y="621.4"/><use href="#ast" x="486.4" y="622.6"/><use href="#ast" x="487.8" y="621.4"/><use href="#ast" x="487.1" y="619.4"/><use href="#ast" x="488.1" y="621.3"/><use href="#ast" x="488" y="623.1"/><use href="#ast" x="489.1" y="623.1"/><use href="#ast" x="489.1" y="621.9"/><use href="#ast" x="489.4" y="619.3"/><use href="#ast" x="489.9" y="622.2"/><use href="#ast" x="489.9" y="625.1"/><use href="#ast" x="489.5" y="624.7"/><use href="#ast" x="490.4" y="620.7"/><use href="#ast" x="490.9" y="623.4"/><use href="#ast" x="490.9" y="626"/><use href="#ast" x="491.4" y="622"/><use href="#ast" x="491" y="620.6"/><use href="#ast" x="492" y="620.4"/><use href="#ast" x="493.2" y="620.8"/><use href="#ast" x="492" y="622.2"/><use href="#ast" x="492.3" y="620.7"/><use href="#ast" x="494.3" y="624.7"/><use href="#ast" x="493.7" y="625.1"/><use href="#ast" x="494.5" y="624.9"/><use href="#ast" x="494.5" y="625.5"/><use href="#ast" x="493.5" y="622.1"/><use href="#ast" x="495.2" y="622.1"/><use href="#ast" x="494.9" y="622.7"/><use href="#ast" x="494.7" y="626.5"/><use href="#ast" x="495.7" y="624.1"/><use href="#ast" x="495.9" y="626.6"/><use href="#ast" x="496.2" y="624.3"/><use href="#ast" x="495.7" y="626"/><use href="#ast" x="497.6" y="625.9"/><use href="#ast" x="496.8" y="625.3"/><use href="#ast" x="497.6" y="627.3"/><use href="#ast" x="496.6" y="625"/><use href="#ast" x="497.1" y="622.3"/><use href="#ast" x="498.3" y="626.8"/><use href="#ast" x="498.7" y="624.6"/><use href="#ast" x="498.3" y="628.3"/><use href="#ast" x="499.2" y="627.9"/><use href="#ast" x="498.9" y="624.7"/><use href="#ast" x="499.2" y="624"/><use href="#ast" x="499.4" y="623.7"/><use href="#ast" x="499.6" y="629.2"/><use href="#ast" x="499.7" y="623.2"/><use href="#ast" x="500.7" y="629.1"/><use href="#ast" x="501.5" y="627.6"/><use href="#ast" x="501.6" y="624.5"/><use href="#ast" x="502.7" y="627.8"/><use href="#ast" x="501.7" y="629.1"/><use href="#ast" x="502.3" y="625.1"/><use href="#ast" x="502" y="628"/><use href="#ast" x="502.7" y="625.9"/><use href="#ast" x="503.5" y="627"/><use href="#ast" x="503.4" y="627.6"/><use href="#ast" x="503.2" y="628.4"/><use href="#ast" x="503.4" y="627.5"/><use href="#ast" x="503.9" y="627.7"/><use href="#ast" x="503.9" y="625.8"/><use href="#ast" x="504.1" y="630.4"/><use href="#ast" x="505.1" y="630.4"/><use href="#ast" x="504.7" y="628.8"/><use href="#ast" x="505.2" y="630.1"/><use href="#ast" x="506.1" y="627.1"/><use href="#ast" x="505.3" y="628.5"/><use href="#ast" x="506.8" y="625.9"/><use href="#ast" x="506.3" y="629.6"/><use href="#ast" x="506.4" y="626.4"/><use href="#ast" x="507.2" y="630"/><use href="#ast" x="507.4" y="628.9"/><use href="#ast" x="507.8" y="632.2"/><use href="#ast" x="508.9" y="631.4"/><use href="#ast" x="508.6" y="627.4"/><use href="#ast" x="508.1" y="632.8"/><use href="#ast" x="508.9" y="630"/><use href="#ast" x="509.6" y="629.4"/><use href="#ast" x="509.8" y="628.7"/><use href="#ast" x="509.5" y="627.7"/><use href="#ast" x="510.1" y="630.1"/><use href="#ast" x="510.3" y="631.5"/><use href="#ast" x="510.3" y="629.7"/><use href="#ast" x="511.1" y="630.1"/><use href="#ast" x="511.2" y="633"/><use href="#ast" x="511.7" y="630.7"/><use href="#ast" x="512.1" y="628.7"/><use href="#ast" x="512" y="628.7"/><use href="#ast" x="513.3" y="632.3"/><use href="#ast" x="512.5" y="634.9"/><use href="#ast" x="513.3" y="629.4"/><use href="#ast" x="513.4" y="631.5"/><use href="#ast" x="513.9" y="633.8"/><use href="#ast" x="514.8" y="632.5"/><use href="#ast" x="513.9" y="632.8"/><use href="#ast" x="515.1" y="635.2"/><use href="#ast" x="514.5" y="635.7"/><use href="#ast" x="515.5" y="630"/><use href="#ast" x="515" y="634.6"/><use href="#ast" x="515.7" y="633.6"/><use href="#ast" x="515.8" y="631.1"/><use href="#ast" x="516.2" y="630.3"/><use href="#ast" x="517.2" y="631.5"/><use href="#ast" x="517.5" y="632.2"/><use href="#ast" x="517.3" y="635.5"/><use href="#ast" x="517.3" y="630.7"/><use href="#ast" x="518.3" y="634.5"/><use href="#ast" x="517.6" y="632.2"/><use href="#ast" x="517.8" y="634"/><use href="#ast" x="518.7" y="634.5"/><use href="#ast" x="519" y="631.2"/><use href="#ast" x="519.5" y="633.1"/><use href="#ast" x="519.7" y="631.5"/><use href="#ast" x="521.3" y="632.6"/><use href="#ast" x="519.9" y="636.8"/><use href="#ast" x="520.3" y="637.3"/><use href="#ast" x="520.5" y="633.1"/><use href="#ast" x="521.6" y="633.8"/><use href="#ast" x="521" y="632.5"/><use href="#ast" x="521.1" y="635.4"/><use href="#ast" x="521.9" y="637.7"/><use href="#ast" x="522" y="632.7"/><use href="#ast" x="522.7" y="634.9"/><use href="#ast" x="521.9" y="637.1"/><use href="#ast" x="523.6" y="635.1"/><use href="#ast" x="523.6" y="633.5"/><use href="#ast" x="523.6" y="637.4"/><use href="#ast" x="523.8" y="637.8"/><use href="#ast" x="524.5" y="634.1"/><use href="#ast" x="524.5" y="633.7"/><use href="#ast" x="525.1" y="636.3"/><use href="#ast" x="526.1" y="634.9"/><use href="#ast" x="525.6" y="640.2"/><use href="#ast" x="526.4" y="639.8"/><use href="#ast" x="526.4" y="637.8"/><use href="#ast" x="526.1" y="638"/><use href="#ast" x="527.3" y="636.6"/><use href="#ast" x="527.4" y="634.8"/><use href="#ast" x="526.8" y="639.5"/><use href="#ast" x="527.7" y="635.7"/><use href="#ast" x="528.8" y="635"/><use href="#ast" x="528.6" y="639.2"/><use href="#ast" x="528.8" y="637.7"/><use href="#ast" x="528.5" y="635.2"/><use href="#ast" x="529" y="638.7"/><use href="#ast" x="529.6" y="638"/><use href="#ast" x="529.3" y="635.8"/><use href="#ast" x="529.1" y="640.1"/><use href="#ast" x="531" y="640.6"/><use href="#ast" x="530.2" y="640.4"/><use href="#ast" x="530" y="642.6"/><use href="#ast" x="529.8" y="642.7"/><use href="#ast" x="532.2" y="637.6"/><use href="#ast" x="531.6" y="639.9"/><use href="#ast" x="531.5" y="641.3"/><use href="#ast" x="531.7" y="642.1"/><use href="#ast" x="533.1" y="642.5"/><use href="#ast" x="532.7" y="637"/><use href="#ast" x="532.5" y="637.9"/><use href="#ast" x="533.6" y="637.8"/><use href="#ast" x="533.7" y="638.6"/><use href="#ast" x="533.7" y="641.8"/><use href="#ast" x="534" y="639"/><use href="#ast" x="534.3" y="638"/><use href="#ast" x="534.9" y="640"/><use href="#ast" x="534.9" y="640.4"/><use href="#ast" x="534.9" y="641.9"/><use href="#ast" x="536.3" y="642.9"/><use href="#ast" x="536.7" y="640.4"/><use href="#ast" x="536.3" y="642"/><use href="#ast" x="536.7" y="641.6"/><use href="#ast" x="537.4" y="640.1"/><use href="#ast" x="536.9" y="643.7"/><use href="#ast" x="537.7" y="645.1"/><use href="#ast" x="538.4" y="645.3"/><use href="#ast" x="538" y="643.8"/><use href="#ast" x="537.5" y="643.4"/><use href="#ast" x="538.1" y="640"/><use href="#ast" x="538.7" y="641.2"/><use href="#ast" x="539.3" y="642.3"/><use href="#ast" x="538.8" y="644.1"/><use href="#ast" x="539.2" y="641.1"/><use href="#ast" x="540.4" y="645.9"/><use href="#ast" x="541.5" y="646.5"/><use href="#ast" x="541.1" y="642.8"/><use href="#ast" x="541" y="643.3"/><use href="#ast" x="541.9" y="643.3"/><use href="#ast" x="542.2" y="642.4"/><use href="#ast" x="542.4" y="643.5"/><use href="#ast" x="541.6" y="643.7"/><use href="#ast" x="543.5" y="646.1"/><use href="#ast" x="542.1" y="643.6"/><use href="#ast" x="542.9" y="643.3"/><use href="#ast" x="542.3" y="645.9"/><use href="#ast" x="543.8" y="643.8"/><use href="#ast" x="543.9" y="644.9"/><use href="#ast" x="544.6" y="648"/><use href="#ast" x="544.4" y="645.2"/><use href="#ast" x="544.3" y="644.5"/><use href="#ast" x="545.1" y="643.6"/><use href="#ast" x="544.7" y="648.2"/><use href="#ast" x="546.8" y="643.9"/><use href="#ast" x="545.2" y="644.7"/><use href="#ast" x="546.6" y="645.9"/><use href="#ast" x="546.1" y="643"/><use href="#ast" x="546.5" y="647"/><use href="#ast" x="546.9" y="643.4"/><use href="#ast" x="547.9" y="647.9"/><use href="#ast" x="547.8" y="645.9"/><use href="#ast" x="548.1" y="644.9"/><use href="#ast" x="547.7" y="648.4"/><use href="#ast" x="549.1" y="646.3"/><use href="#ast" x="548.8" y="649.1"/><use href="#ast" x="549" y="646"/><use href="#ast" x="550.3" y="645.7"/><use href="#ast" x="550.3" y="645"/><use href="#ast" x="550.2" y="648.5"/><use href="#ast" x="550.8" y="646.8"/><use href="#ast" x="550.1" y="647.9"/><use href="#ast" x="550.9" y="645.9"/><use href="#ast" x="551.4" y="645.1"/><use href="#ast" x="551.4" y="644"/><use href="#ast" x="551.6" y="644.7"/><use href="#ast" x="552.1" y="646.7"/><use href="#ast" x="551.9" y="648.9"/><use href="#ast" x="552.7" y="649.1"/><use href="#ast" x="553.6" y="648"/><use href="#ast" x="553.6" y="644.5"/><use href="#ast" x="553.8" y="646.3"/><use href="#ast" x="553.7" y="650.4"/><use href="#ast" x="555.3" y="645.4"/><use href="#ast" x="554.6" y="648.3"/><use href="#ast" x="554.3" y="647.2"/><use href="#ast" x="556.2" y="646.8"/><use href="#ast" x="556.5" y="650.3"/><use href="#ast" x="555.8" y="651.1"/><use href="#ast" x="556.3" y="646.7"/><use href="#ast" x="556.5" y="648.6"/><use href="#ast" x="556.7" y="649.1"/><use href="#ast" x="557.3" y="649.4"/><use href="#ast" x="556.9" y="645.7"/><use href="#ast" x="557.2" y="645.7"/><use href="#ast" x="557.3" y="649.9"/><use href="#ast" x="558.3" y="646.3"/><use href="#ast" x="558.4" y="648.2"/><use href="#ast" x="558.6" y="649.9"/><use href="#ast" x="559.4" y="648.8"/><use href="#ast" x="559" y="647.7"/><use href="#ast" x="559.5" y="651.9"/><use href="#ast" x="560.1" y="648.8"/><use href="#ast" x="561.1" y="648.5"/><use href="#ast" x="561.4" y="652.4"/><use href="#ast" x="561.1" y="648"/><use href="#ast" x="561.1" y="648.3"/><use href="#ast" x="561.6" y="652.4"/><use href="#ast" x="561" y="653.3"/><use href="#ast" x="562.2" y="652.4"/><use href="#ast" x="562.7" y="648.3"/><use href="#ast" x="562.5" y="652.4"/><use href="#ast" x="562.1" y="648.4"/><use href="#ast" x="563.4" y="648.1"/><use href="#ast" x="563.1" y="650.7"/><use href="#ast" x="563.6" y="647.9"/><use href="#ast" x="563.6" y="648.5"/><use href="#ast" x="564.3" y="649.2"/><use href="#ast" x="563.9" y="650.7"/><use href="#ast" x="564.7" y="652.9"/><use href="#ast" x="565.5" y="654"/><use href="#ast" x="565.3" y="651.4"/><use href="#ast" x="565.5" y="651.2"/><use href="#ast" x="566.6" y="654.7"/><use href="#ast" x="567.5" y="655.3"/><use href="#ast" x="566.5" y="654.4"/><use href="#ast" x="566.7" y="651.7"/><use href="#ast" x="566.7" y="656.4"/><use href="#ast" x="567.6" y="656.5"/><use href="#ast" x="568.2" y="656.1"/><use href="#ast" x="568.2" y="656.1"/><use href="#ast" x="568.1" y="655.6"/><use href="#ast" x="568.9" y="657.9"/><use href="#ast" x="568.9" y="652.9"/><use href="#ast" x="569" y="657.4"/><use href="#ast" x="569" y="656"/><use href="#ast" x="570" y="656.5"/><use href="#ast" x="570.1" y="657.5"/><use href="#ast" x="571" y="656.6"/><use href="#ast" x="570.4" y="653.2"/><use href="#ast" x="571" y="655.8"/><use href="#ast" x="571.5" y="655.2"/><use href="#ast" x="571.3" y="660.2"/><use href="#ast" x="571.7" y="658.4"/><use href="#ast" x="572" y="658.8"/><use href="#ast" x="572.6" y="654.7"/><use href="#ast" x="573.5" y="656.2"/><use href="#ast" x="573.3" y="658.9"/><use href="#ast" x="572.6" y="660.9"/><use href="#ast" x="573.2" y="662.6"/><use href="#ast" x="573.9" y="662.3"/><use href="#ast" x="574.5" y="657.6"/><use href="#ast" x="574.6" y="661.8"/><use href="#ast" x="575.1" y="660.9"/><use href="#ast" x="574.7" y="659.6"/><use href="#ast" x="576.7" y="660.5"/><use href="#ast" x="575.5" y="660.4"/><use href="#ast" x="575.2" y="665.3"/><use href="#ast" x="576.3" y="665.2"/><use href="#ast" x="577.4" y="663.6"/><use href="#ast" x="576.4" y="666.4"/><use href="#ast" x="577.4" y="667.3"/><use href="#ast" x="577.6" y="661.8"/><use href="#ast" x="578.5" y="664.1"/><use href="#ast" x="578.2" y="665.7"/><use href="#ast" x="578.7" y="668.9"/><use href="#ast" x="578.7" y="665.7"/><use href="#ast" x="579.1" y="668.1"/><use href="#ast" x="578.7" y="666.8"/><use href="#ast" x="578.9" y="664.6"/><use href="#ast" x="579.9" y="669.9"/><use href="#ast" x="580" y="669"/><use href="#ast" x="580.4" y="671.3"/><use href="#ast" x="581.3" y="668.3"/><use href="#ast" x="580.3" y="670.7"/><use href="#ast" x="581.2" y="670.3"/><use href="#ast" x="582.1" y="669.7"/><use href="#ast" x="581.2" y="674.5"/><use href="#ast" x="581.6" y="674"/><use href="#ast" x="581.5" y="671.6"/><use href="#ast" x="583" y="675.3"/><use href="#ast" x="583.2" y="671.4"/><use href="#ast" x="582.5" y="673.2"/><use href="#ast" x="584.1" y="674.1"/><use href="#ast" x="583.6" y="673.5"/><use href="#ast" x="584" y="674.3"/><use href="#ast" x="584.7" y="678"/><use href="#ast" x="585.1" y="677.8"/><use href="#ast" x="584.6" y="678.2"/><use href="#ast" x="585.4" y="674.8"/><use href="#ast" x="585.6" y="680.6"/><use href="#ast" x="586.6" y="679.1"/><use href="#ast" x="585.8" y="676.5"/><use href="#ast" x="587.2" y="681.2"/><use href="#ast" x="585.9" y="677.1"/><use href="#ast" x="587.4" y="680.9"/><use href="#ast" x="588.1" y="683.6"/><use href="#ast" x="588" y="683.8"/><use href="#ast" x="588.6" y="683.2"/><use href="#ast" x="588.8" y="679"/><use href="#ast" x="587.8" y="680.5"/><use href="#ast" x="588.5" y="681.3"/><use href="#ast" x="589.7" y="682.4"/><use href="#ast" x="589.6" y="685.2"/><use href="#ast" x="589.6" y="686.9"/><use href="#ast" x="590.7" y="686.2"/><use href="#ast" x="590.5" y="682.8"/><use href="#ast" x="589.6" y="688.7"/><use href="#ast" x="590.3" y="686.6"/><use href="#ast" x="591.2" y="688.6"/><use href="#ast" x="591.3" y="686.7"/><use href="#ast" x="591.3" y="687.3"/><use href="#ast" x="591.9" y="690.7"/><use href="#ast" x="592.1" y="691.5"/><use href="#ast" x="593.5" y="693.1"/><use href="#ast" x="592.9" y="689.6"/><use href="#ast" x="593.2" y="687.8"/><use href="#ast" x="593.3" y="691.3"/><use href="#ast" x="593.6" y="694.6"/><use href="#ast" x="594.1" y="692.7"/><use href="#ast" x="594.3" y="690.5"/><use href="#ast" x="594.7" y="693.9"/><use href="#ast" x="595" y="696.7"/><use href="#ast" x="594.9" y="697.2"/><use href="#ast" x="595.7" y="695.6"/><use href="#ast" x="595.3" y="693.6"/><use href="#ast" x="596.4" y="699.5"/><use href="#ast" x="597.3" y="693.8"/><use href="#ast" x="596.7" y="698.7"/><use href="#ast" x="597.1" y="696.2"/><use href="#ast" x="598.4" y="700.8"/><use href="#ast" x="597.6" y="696.4"/><use href="#ast" x="597.4" y="700.8"/><use href="#ast" x="598.4" y="702"/><use href="#ast" x="598.1" y="697.6"/><use href="#ast" x="599.1" y="704"/><use href="#ast" x="598.5" y="703.8"/><use href="#ast" x="599.4" y="700.9"/><use href="#ast" x="599.8" y="702.6"/><use href="#ast" x="600.5" y="704.9"/><use href="#ast" x="600.5" y="705.5"/><use href="#ast" x="600" y="704.7"/><use href="#ast" x="601" y="704.3"/>
</g>
<line x1="94.9" y1="546.5" x2="599.2" y2="546.5" stroke="#D65A5A" stroke-width="1.5" stroke-dasharray="4.5 3.2"/>
<path d="M101.4 507.3h.1M102.3 517.7h.1M101.8 508.1h.1M102.1 519.9h.1M102 516.6h.1M102.7 517.5h.1M102.8 519.2h.1M103.2 509.1h.1M103.3 521.8h.1M103.6 511.6h.1M103.1 515.3h.1M104.4 517.8h.1M104 510.6h.1M104.6 517.8h.1M104.5 519.5h.1M105 519h.1M105.2 519.1h.1M105.8 517.5h.1M105.5 518.6h.1M105.1 515h.1M105.7 509.1h.1M106.7 512h.1M106.8 520.1h.1M106 518.5h.1M107.3 519.8h.1M107 515.5h.1M106.8 518.1h.1M107.5 509.3h.1M107.8 515.3h.1M108 520.6h.1M108.1 518h.1M108.9 520.6h.1M108.9 516h.1M109.1 516.8h.1M109.8 515.3h.1M109.4 516.9h.1M109.7 512.9h.1M110 514.9h.1M109.8 511.8h.1M110.5 520.3h.1M110.5 519.8h.1M110.3 509.9h.1M111.4 516.9h.1M111.4 509.2h.1M111.7 513.1h.1M111.8 520.1h.1M112.5 514.7h.1M111.6 517.5h.1M111.8 513.3h.1M112.5 519.1h.1M113.2 514.8h.1M113.8 516.7h.1M113.4 511.6h.1M113.8 519.3h.1M114.2 516.1h.1M113.8 508.7h.1M114.5 514.7h.1M114.2 517.3h.1M114.5 514.7h.1M115.1 514.5h.1M115.2 517.9h.1M115.4 514.5h.1M115.7 514h.1M115.8 514.8h.1M115.8 519.4h.1M116.5 512.4h.1M116.5 510.7h.1M117.3 512.1h.1M117.3 522.2h.1M117.3 518.8h.1M117.7 514.3h.1M117.6 523.4h.1M118.3 518.7h.1M119 519.7h.1M118.5 517.3h.1M118.9 518.4h.1M119.9 517h.1M119 512.3h.1M119.6 512.6h.1M119.8 517.9h.1M119.4 515.4h.1M120.1 521.3h.1M120.4 522.4h.1M120.3 522.4h.1M120.7 518.9h.1M121.3 512.2h.1M121 520.4h.1M121.8 519.4h.1M122 514.9h.1M122 520.9h.1M122.2 519.5h.1M122.6 515.8h.1M123 515.8h.1M123.1 509h.1M123 522.5h.1M122.9 510.2h.1M124 514.5h.1M124.2 515.8h.1M124 520h.1M124.8 515.9h.1M124.4 513.5h.1M124.2 518.6h.1M125.6 514h.1M125.1 510.8h.1M125.2 524.2h.1M125.7 515.9h.1M126.1 515.6h.1M125.7 521.5h.1M126.8 517.7h.1M126.5 512.3h.1M126.9 511.9h.1M127.1 513.4h.1M126.9 519.3h.1M127.8 509.1h.1M128.2 519.7h.1M127.7 513.4h.1M128.6 516.2h.1M128.5 510.6h.1M128.7 512.7h.1M129.2 517.8h.1M128.7 517.5h.1M129.6 520h.1M129.9 516.7h.1M129.7 514.5h.1M130.2 511.4h.1M130 514.9h.1M130.3 516.3h.1M130.9 519.7h.1M130.4 511.4h.1M131.3 516.5h.1M131.1 517.4h.1M131.4 515.5h.1M131.5 516.9h.1M132.4 509.1h.1M132.2 515.1h.1M132.7 512.3h.1M132.6 519h.1M132.2 512.6h.1M133.6 518.7h.1M133.3 518.7h.1M133.5 509.9h.1M133.8 509.5h.1M134 514.7h.1M134.8 520.7h.1M134.6 508.5h.1M135 512.5h.1M134.5 516.8h.1M135.4 520.2h.1M135.7 517.5h.1M135.6 512.7h.1M136.3 513h.1M136.3 517.4h.1M136.1 515.4h.1M136.8 519.5h.1M136.7 509h.1M137 519h.1M137.5 514.9h.1M137.7 510.6h.1M138.2 515.8h.1M138.3 522.1h.1M138.3 517.9h.1M138.9 514.7h.1M138.5 512.3h.1M139.4 521.3h.1M139.6 520.9h.1M139.9 510.6h.1M139.9 518.7h.1M139.9 510.5h.1M140.2 516h.1M140.7 510.1h.1M140.6 511.1h.1M140.7 512.9h.1M140.8 516.7h.1M141.4 512.5h.1M141.4 519.6h.1M142.4 519.2h.1M141.7 509.9h.1M142.5 520.4h.1M142.6 515.2h.1M142.7 512.2h.1M142.8 514.1h.1M143.1 516.3h.1M143.3 519.1h.1M143.1 516.6h.1M143.8 511.4h.1M144.4 511.9h.1M144.7 520.4h.1M144.3 516h.1M144.4 520.3h.1M144.8 518.3h.1M145.3 519.2h.1M145.8 514.1h.1M146.4 518h.1M146.2 519.1h.1M146.5 519.5h.1M146.3 520.9h.1M147.1 516.1h.1M146.2 509.1h.1M146.8 514.9h.1M147.6 519.2h.1M147.6 510.7h.1M147.8 512h.1M148.4 520.4h.1M148 515.9h.1M148.8 512.2h.1M148.9 510.3h.1M148.9 509.7h.1M149.1 515.3h.1M149.2 514.6h.1M150 517.9h.1M150.2 516.8h.1M149.9 513.4h.1M150.6 514.5h.1M151 516.6h.1M150.8 516.9h.1M151 521h.1M151.4 515.9h.1M151.1 519h.1M151.6 520.8h.1M151.5 516.1h.1M152.3 518.7h.1M152.8 518.1h.1M152.3 510.6h.1M153 515.5h.1M153.1 521.6h.1M153.4 522.5h.1M153.3 517.3h.1M153.7 512.4h.1M153.8 519.6h.1M153.9 518.2h.1M154.8 514.4h.1M154.8 518.2h.1M154.8 522.9h.1M155.3 524.1h.1M155.8 518.4h.1M155.6 517h.1M155.6 518.1h.1M156.4 518.5h.1M156.4 516.6h.1M156.4 521.1h.1M156.4 522.1h.1M157.2 517.5h.1M156.9 520.4h.1M157.7 522.7h.1M157.9 521.8h.1M157.6 520.8h.1M158.4 524.8h.1M158.9 518.9h.1M158.8 525.9h.1M159 517.3h.1M159.6 522.6h.1M159.4 520.5h.1M159.3 524.9h.1M160.1 525h.1M160.6 526.9h.1M160.4 525.8h.1M160.6 519.7h.1M161 524.4h.1M161 516.4h.1M160.6 530.2h.1M161.8 517.9h.1M161.5 528h.1M161.8 531.5h.1M162.2 530.1h.1M162.7 529.8h.1M162.2 525.3h.1M162.8 528.5h.1M162.9 531.6h.1M163.9 524h.1M163.9 528.9h.1M163.7 526.8h.1M163.7 522.5h.1M164.5 529.6h.1M164 525.6h.1M164.9 518.9h.1M164.6 529.5h.1M165.1 520.3h.1M165.1 534.5h.1M165.7 527.3h.1M165.5 526h.1M166 527.4h.1M166.2 526.9h.1M166.6 525.7h.1M166.2 529.4h.1M167.3 526.3h.1M167.2 524.5h.1M167.6 526.5h.1M167.5 533.1h.1M167.9 526.4h.1M168.5 532.2h.1M167.4 534.8h.1M168 530h.1M168.2 527.3h.1M168.8 534.9h.1M168.9 527.8h.1M169.8 537.9h.1M169.5 535.2h.1M170.2 538.7h.1M170.1 539.6h.1M170.5 527.3h.1M170.7 538.5h.1M170.6 538.4h.1M171.3 530.3h.1M171.7 531.5h.1M171.6 538.1h.1M171.7 540.4h.1M171.5 530.7h.1M172.4 537.9h.1M172.2 530.8h.1M172.6 539.8h.1M173 541.4h.1M173 540.1h.1M173.4 530.6h.1M173.8 533.3h.1M173.8 543.7h.1M174.2 534.4h.1M174.2 536.7h.1M174.5 540.4h.1M175.1 539.8h.1M175.3 533.3h.1M175.8 541.6h.1M175.6 543.9h.1M175.7 538.1h.1M176 535.6h.1M176.6 536h.1M176.1 541.5h.1M176.8 546.2h.1M177 543.1h.1M176.7 541.7h.1M176.9 538.9h.1M177.5 543.5h.1M177.8 546.8h.1M178.3 535.8h.1M178.4 546.3h.1M178.2 546h.1M178.5 539.1h.1M178.7 550.4h.1M179 549.6h.1M179.4 544.7h.1M179.9 541.5h.1M179.7 544.8h.1M179.9 546.5h.1M180.4 539h.1M180.2 542.2h.1M180.8 548.6h.1M181.2 538.9h.1M180.9 543h.1M181.6 543h.1M181.9 548.8h.1M181.6 551.7h.1M182.3 544.8h.1M182.3 545.7h.1M182.2 550.8h.1M182.4 548.8h.1M183.6 548.5h.1M182.8 542h.1M183.7 548.9h.1M184.3 543.6h.1M183.7 550.6h.1M184.6 547.8h.1M184.6 542.4h.1M184.8 553.1h.1M185 545.1h.1M185.1 552h.1M185.3 552.2h.1M185 545.3h.1M185.7 546.8h.1M185.8 544.6h.1M186.6 551.6h.1M186.6 549.1h.1M186.7 552.7h.1M186.9 548.2h.1M186.9 547.9h.1M187.3 547.4h.1M187.8 558.2h.1M188.2 547.5h.1M187.9 555.9h.1M188.3 547.4h.1M188 550.8h.1M189.1 547.7h.1M188.7 550.8h.1M189.6 550.1h.1M189.7 559.9h.1M190.3 558h.1M190.6 554.5h.1M189.6 551.2h.1M191.2 551.3h.1M190.2 559.4h.1M190.9 550.9h.1M191.5 552.6h.1M191.5 558.3h.1M192.2 554h.1M191.8 562.7h.1M192.4 561h.1M192.5 561.1h.1M192.7 564.3h.1M193.1 563.7h.1M193.3 556.2h.1M193.5 563.2h.1M193.3 559.4h.1M194.3 559.1h.1M194.4 561.4h.1M194.3 558.4h.1M194.6 561.2h.1M194.5 561.6h.1M194.7 559.2h.1M195 566.8h.1M195.5 562.5h.1M196.2 556.6h.1M195.5 561.7h.1M196 564.1h.1M195.6 558.3h.1M196.9 568.6h.1M196.4 568.9h.1M197 560.9h.1M197.3 565.9h.1M197.4 561.4h.1M197.8 564h.1M197.7 569.1h.1M198.1 568.3h.1M198.3 559.6h.1M198.1 566.8h.1M198.5 572.5h.1M198.6 571h.1M199 573.2h.1M199.5 570.4h.1M199.6 572.1h.1M199.9 562.2h.1M200 571.1h.1M200.7 562h.1M200.9 572.3h.1M200.6 565.5h.1M202.4 572.7h.1M201.1 565.4h.1M201.3 565.4h.1M202.3 569.1h.1M201.9 574.8h.1M202.4 566.2h.1M202.6 565.6h.1M202.3 572.3h.1M203.4 572.1h.1M203.6 570.3h.1M203.3 567h.1M203.4 573.2h.1M204.6 578.2h.1M204 573.7h.1M204 572.2h.1M204.4 574.7h.1M204.6 574.1h.1M205.3 569.3h.1M205.5 574.1h.1M205.7 573.5h.1M205.7 570h.1M206.1 580h.1M205.8 570.5h.1M206.6 580.9h.1M206.5 577h.1M206.9 579.6h.1M207.3 571.9h.1M207.1 578.4h.1M207.4 576.1h.1M208.2 574.3h.1M208 583.6h.1M208 577.1h.1M208.8 579.1h.1M208.9 573h.1M208.9 573.8h.1M209.8 578.9h.1M209.3 571.7h.1M209.7 581.4h.1M210.2 584.4h.1M210.1 575.7h.1M210.7 577.5h.1M210.5 581.3h.1M211.2 579.8h.1M211.1 575.5h.1M211.5 584.3h.1M211.5 578.4h.1M211.7 581.2h.1M211.7 572.7h.1M212.4 583.8h.1M212.6 586.6h.1M212.5 574h.1M213.5 579.1h.1M213 579.3h.1M213.4 584h.1M213.4 579.9h.1M213.5 576.8h.1M213.8 583h.1M214.5 579h.1M215.2 575.3h.1M214.4 583.4h.1M215.2 577.8h.1M215.4 576.3h.1M215.4 582.6h.1M215.5 573h.1M216.1 585.5h.1M216.4 574.9h.1M217.1 580.8h.1M216.6 581.5h.1M216.8 574.3h.1M217.4 585.3h.1M217.7 573.4h.1M217.2 578.5h.1M217.7 578.6h.1M218.3 575.8h.1M218.4 576.8h.1M218.7 582.3h.1M218.6 574.1h.1M219.1 581.2h.1M219.3 573.5h.1M219.3 576.4h.1M219.8 585.1h.1M219.6 577.1h.1M220.4 576.2h.1M220.3 578h.1M220.6 583.6h.1M220.2 573.1h.1M221 573.4h.1M221.2 574h.1M221.5 579.1h.1M221.6 577.3h.1M221.6 581.6h.1M222.1 574.8h.1M222.4 582.2h.1M222.4 583.5h.1M223.2 572.4h.1M223.4 576h.1M223.4 574.3h.1M222.9 579.5h.1M223.9 580.7h.1M224.5 576.1h.1M223.5 571.8h.1M224.3 581.2h.1M225.1 578.5h.1M224.9 574.9h.1M225 573.6h.1M225.3 573h.1M225.4 574.7h.1M226 577.8h.1M226.4 580.1h.1M226.5 570.2h.1M226.5 571.6h.1M226.8 573h.1M226.9 568.7h.1M227.5 569.2h.1M227.9 574.9h.1M227.7 575.3h.1M228.3 573.1h.1M228.1 574.1h.1M228.4 573.2h.1M228.5 574.9h.1M228.4 576.9h.1M229 576.2h.1M229.1 573.7h.1M229.1 567.6h.1M230.3 567.8h.1M230 566.9h.1M230.7 569.2h.1M230.8 573.7h.1M230.9 571.6h.1M231.2 575.6h.1M231.8 575.2h.1M231.5 573h.1M231.8 570.4h.1M231.5 564h.1M232.1 571.1h.1M232 569.4h.1M232.4 573.4h.1M232.2 563.2h.1M233.2 568.1h.1M233.1 572.7h.1M233.5 567.2h.1M233.5 562h.1M233.8 567.7h.1M234 568.7h.1M234.1 564h.1M234.9 570.1h.1M234.7 569.6h.1M234.4 560.4h.1M234.9 561.5h.1M235.3 564.6h.1M235.9 569.5h.1M236.4 567.8h.1M236.4 558.7h.1M236.6 559.3h.1M236.7 571.6h.1M237 564.9h.1M237.2 562.3h.1M237.1 559.9h.1M237.4 562.1h.1M237.9 566.3h.1M238.3 559.9h.1M238.5 566.5h.1M238.8 568.5h.1M238.4 559.9h.1M238.7 563.5h.1M239.4 570.6h.1M239.5 560.5h.1M239.9 569.8h.1M239.9 561.6h.1M240 562.3h.1M240.4 570.9h.1M240.7 564.2h.1M240.8 570.7h.1M240.5 562.6h.1M241.7 562.6h.1M241.9 560.8h.1M241.5 566.1h.1M241.7 571h.1M242.6 561.6h.1M242.9 564.9h.1M242.7 571.2h.1M242.6 571.9h.1M243.2 567.2h.1M243.6 561.4h.1M243.7 566h.1M243.8 562.2h.1M244.2 572.9h.1M244.3 569.8h.1M244.5 563h.1M244.9 568.6h.1M245.5 564.2h.1M245.6 570.2h.1M245.4 568.2h.1M245.4 577.4h.1M246.1 576.5h.1M246.3 566.5h.1M246.1 571.8h.1M246.1 570.4h.1M246.3 576.1h.1M246.9 572.1h.1M247.2 572.9h.1M247.4 573.2h.1M247.5 576.8h.1M247.6 579.7h.1M248.5 576.1h.1M248.5 577.3h.1M248.5 581.6h.1M248.7 581.6h.1M249 575.9h.1M249.7 582.1h.1M250.3 583.3h.1M250.1 574.4h.1M250.1 578.3h.1M250.3 583.5h.1M250.4 575.8h.1M251 583.3h.1M251.4 572.9h.1M251 579.8h.1M251.2 584h.1M251.7 579.7h.1M251.8 576.1h.1M251.8 586.6h.1M252 583.7h.1M252.6 583.2h.1M253 588.2h.1M253.6 588h.1M252.9 583.6h.1M253.5 583.2h.1M253 579.9h.1M254.3 589.3h.1M254.4 578.5h.1M254.4 578.4h.1M254.8 581.6h.1M254.8 588.7h.1M255.1 583.8h.1M255.5 579.3h.1M255.8 579h.1M255.6 577.2h.1M255.9 587.1h.1M256.2 587.3h.1M256 589.2h.1M256.8 580.3h.1M256.9 584.1h.1M257.3 582.6h.1M257.8 576.9h.1M257.8 585.8h.1M257.5 579.9h.1M258.4 588.1h.1M258.3 578.9h.1M258.8 584.2h.1M259 586.9h.1M259.1 587.4h.1M259.9 579.6h.1M260 584h.1M259.6 587.5h.1M259.8 579.4h.1M260.6 578h.1M260.4 583.9h.1M260.5 576.4h.1M260.7 586.4h.1M261.3 588h.1M261.6 579.1h.1M261.2 579.3h.1M262 584.3h.1M262.4 580.8h.1M262.1 583.2h.1M262.4 581.5h.1M262.3 582.9h.1M262.8 580.3h.1M263.5 575.5h.1M263.1 577h.1M263.9 582.9h.1M263.8 583.1h.1M263.9 574.6h.1M264.6 580.9h.1M264.4 577.8h.1M264.8 577.3h.1M265.1 572.7h.1M265.6 577.4h.1M265.3 571.2h.1M265.8 574.6h.1M265.9 577.8h.1M266.1 574h.1M267 573.2h.1M267 573h.1M267.5 574.7h.1M266.4 572.5h.1M267.3 567.5h.1M267.6 573.1h.1M267.8 562.4h.1M268.3 574.4h.1M268.3 567.8h.1M268.9 561.1h.1M268.9 568h.1M269 570.2h.1M268.8 563.6h.1M269.6 563.5h.1M269.6 560.1h.1M269.9 563h.1M269.9 555.1h.1M270.5 566.2h.1M270.7 559.5h.1M271 555.6h.1M270.8 555.4h.1M271.8 553h.1M272 549.1h.1M272.5 553.5h.1M272.4 554.7h.1M272.2 552.5h.1M272.6 547h.1M272.6 542.1h.1M272.6 549.3h.1M273.2 542.7h.1M273.3 551h.1M273.9 544.9h.1M273.3 544.2h.1M274.2 547.2h.1M274 538.2h.1M274.4 537h.1M275 545.4h.1M274.4 546.2h.1M274.9 534.4h.1M275.2 533.7h.1M275.9 544.9h.1M275.9 535.3h.1M276 534.2h.1M276.8 530.7h.1M276.8 536.4h.1M277 537.3h.1M277.8 529h.1M277.2 537h.1M277.2 525.2h.1M277.3 535.2h.1M278.4 523.8h.1M278.1 533.8h.1M278.5 525.5h.1M278.7 530.3h.1M279 530.1h.1M278.7 519.9h.1M279.5 524.9h.1M280.1 527.8h.1M279.9 525.5h.1M280.1 521.4h.1M280.3 517.2h.1M280.4 524.5h.1M280.4 524.7h.1M281 520.4h.1M281.3 517.2h.1M281.3 523.6h.1M281.8 516.2h.1M281.7 515.9h.1M281.9 516.4h.1M282.3 517.8h.1M282.8 516.3h.1M283.2 521.8h.1M282.9 520h.1M283.4 511.2h.1M283.1 507.7h.1M284.1 509.2h.1M284.3 517h.1M284.8 513.6h.1M285 509.2h.1M285.1 512.2h.1M285 511.1h.1M285 508h.1M285.2 510.5h.1M285.5 502.5h.1M286.4 510.2h.1M286.5 511.8h.1M286.5 508.5h.1M286.4 506.7h.1M286.4 508.9h.1M287.1 499.8h.1M287.1 505.9h.1M286.8 499.7h.1M287.2 504.8h.1M287.8 500.6h.1M288.5 503.1h.1M288.2 499.8h.1M288.3 499.4h.1M288.7 511.2h.1M289.2 506h.1M289 502.1h.1M289.7 502.8h.1M290.4 501.5h.1M289.6 505.5h.1M290.2 508.2h.1M290.8 505.5h.1M290.6 501.1h.1M291.6 500.8h.1M291.2 507.3h.1M291.5 503.4h.1M291.3 510.2h.1M292.2 501h.1M292 498.1h.1M291.8 499.4h.1M292.7 507.1h.1M293 505.5h.1M293.2 507.7h.1M293.4 503.1h.1M293.5 498.9h.1M293.1 504.2h.1M293.9 503.3h.1M294.1 502.3h.1M294.3 499.4h.1M294.6 501h.1M294.5 507.7h.1M295.1 501.4h.1M295.8 508.1h.1M295.5 504.9h.1M296 507.1h.1M296.1 505.4h.1M296.3 498.9h.1M296.3 499.3h.1M297.1 507.6h.1M296.7 509h.1M297.2 508.3h.1M297.6 508.7h.1M297.6 506.2h.1M298.2 500.3h.1M298.1 506.9h.1M298.5 503h.1M298.1 505.1h.1M298.7 503.8h.1M299.2 502.4h.1M299.3 503.1h.1M299 503.6h.1M300 502.9h.1M300 505h.1M300.3 504.4h.1M300.7 506.8h.1M300.2 507.9h.1M301.4 508.4h.1M301.5 512.1h.1M301.4 513.2h.1M301.7 507.5h.1M301.9 514.1h.1M301.7 508.7h.1M301.6 509.5h.1M302.4 510h.1M302.7 506.9h.1M303.2 506.5h.1M303.4 515.2h.1M303.3 520.1h.1M304.1 511.5h.1M304 508.9h.1M304.3 517.7h.1M304.2 521.5h.1M305 507h.1M305.1 510.7h.1M305.4 522.6h.1M305.3 514.3h.1M305.7 516.1h.1M305.6 516.6h.1M306.2 515.9h.1M305.8 511.7h.1M306.8 517.4h.1M306.7 511.7h.1M307.6 516.3h.1M307.3 521.9h.1M307.5 522h.1M307.8 516.8h.1M307.8 517.6h.1M308.2 524.8h.1M308.3 517.7h.1M308.9 526.2h.1M308.3 517.2h.1M308.9 514.3h.1M309.2 523.4h.1M308.9 519.4h.1M309.8 518.1h.1M309.6 523.7h.1M310.4 516.3h.1M310.4 519h.1M311.1 520.3h.1M310.9 520.7h.1M311.2 527.9h.1M310.7 523.4h.1M311.7 524.7h.1M311.8 526.2h.1M311.7 521.5h.1M312.2 521.7h.1M312.5 528.9h.1M313.1 523.8h.1M312.5 523.6h.1M313 527.1h.1M313.4 531h.1M313.9 520.1h.1M313.7 530.8h.1M314.2 529.1h.1M313.9 530.7h.1M314.3 523.4h.1M315.3 532.7h.1M314.7 532.6h.1M315.2 526.1h.1M315.5 532.1h.1M315.8 530.5h.1M315.8 528.2h.1M316.2 535.2h.1M316.5 534.1h.1M317.1 534.2h.1M317.2 536.5h.1M317.9 530.2h.1M317 532.3h.1M317.5 524.8h.1M317.7 531.2h.1M318.3 535.6h.1M318.2 530h.1M318.2 527.2h.1M318.6 528.5h.1M318.7 538.1h.1M319.2 538.1h.1M319 537.1h.1M319.1 534.2h.1M320 536.4h.1M319.9 530.4h.1M320.4 533.2h.1M321.1 534h.1M320.7 538h.1M320.7 538.8h.1M321.3 529.8h.1M321.2 530.6h.1M321.3 530.9h.1M321.7 533.7h.1M322.3 533.9h.1M322.4 530h.1M322.4 527.7h.1M323 538.3h.1M323.1 539.8h.1M323 531.7h.1M323 530.1h.1M323.2 534.5h.1M323.9 532.9h.1M324.7 531.4h.1M324.4 528h.1M324.2 533.2h.1M325.1 539.4h.1M325.8 532.5h.1M325.6 540.9h.1M325.4 538.3h.1M325.6 532h.1M325.6 526.9h.1M326.6 532h.1M326.9 533.9h.1M326.5 534.7h.1M327 538.4h.1M327.3 535.9h.1M327.7 530h.1M326.9 528.4h.1M327.4 534.4h.1M327.8 531.7h.1M328.2 536.5h.1M328.7 539.8h.1M328.2 529h.1M328.8 532.1h.1M329.8 527.1h.1M329.5 534.8h.1M329.8 532.9h.1M329.7 531.6h.1M330.1 533.8h.1M330.6 535.5h.1M330.3 531.2h.1M330.9 533.2h.1M331.2 532.4h.1M332 531.3h.1M331.9 532.9h.1M332.3 529h.1M332 537.6h.1M332.5 530.8h.1M332.1 534.2h.1M332.5 530.5h.1M333.1 530.9h.1M332.5 533.6h.1M333.6 536.7h.1M333.9 538.2h.1M334 534.5h.1M334.4 531.6h.1M334 535.7h.1M334.8 535.6h.1M334.7 534.8h.1M334.7 529.7h.1M334.9 534.8h.1M335.6 533.5h.1M335.3 540h.1M336.5 532h.1M336.3 531.1h.1M336.2 535.8h.1M336.4 532.9h.1M337 532.5h.1M336.9 543.2h.1M337.1 536.8h.1M337.9 544h.1M337.6 542.2h.1M337.9 544.9h.1M338.1 534.5h.1M339 544.2h.1M338.8 533.6h.1M339 538.5h.1M339 543.9h.1M339.8 543.8h.1M340.1 541.3h.1M339.6 537.5h.1M340 536.9h.1M340.7 541.7h.1M340.8 540.5h.1M341 544h.1M341.1 542.4h.1M341.3 545.7h.1M341.3 547.1h.1M342.1 543.8h.1M342.2 541.5h.1M342.5 542.8h.1M342.6 543h.1M343 547.3h.1M342.8 554.8h.1M343.4 546.4h.1M343.5 552h.1M343.5 548.8h.1M343.7 547.9h.1M344.1 547.7h.1M344.2 554.6h.1M344.6 553.4h.1M344.5 550.3h.1M345.4 554.2h.1M345.6 560.9h.1M344.8 559.1h.1M345.7 559.1h.1M346.2 556.1h.1M346 559.9h.1M347 553h.1M346.4 559.6h.1M346.8 559.4h.1M347.4 559.4h.1M347.1 560.9h.1M347.6 568h.1M347.8 556.7h.1M347.9 564.8h.1M348 568.3h.1M348.3 561.2h.1M348.7 564.4h.1M349.2 562.7h.1M349.1 562.2h.1M349.6 562.8h.1M349.5 573.9h.1M349.8 560.9h.1M350.5 564.7h.1M350.1 566.6h.1M350.7 575.4h.1M350.9 565.6h.1M351.7 570.2h.1M350.8 573.6h.1M351.4 572.1h.1M352 571.3h.1M351.9 567.9h.1M352.3 572.8h.1M352 576.9h.1M352.7 577.9h.1M352.7 570.7h.1M353.2 571.6h.1M353.5 576.2h.1M353.2 574.9h.1M353.5 580.6h.1M353.4 578.3h.1M354.3 577.8h.1M354.5 573.4h.1M354.6 577.5h.1M354.8 582.2h.1M355.3 574.3h.1M355.6 581h.1M355.6 582.7h.1M355.9 579.2h.1M356.1 574.1h.1M356.6 579.1h.1M356.4 579.6h.1M356.4 579h.1M356.7 579.8h.1M357.3 574.9h.1M357.1 579.7h.1M357.5 583.9h.1M357.7 585h.1M358.1 578h.1M358.2 579.3h.1M358.5 580h.1M358.5 577.9h.1M359.5 582.8h.1M359.8 588.3h.1M359.7 577.6h.1M359.9 581.4h.1M359.9 578.2h.1M360.4 579.6h.1M360 581.6h.1M360.2 582.1h.1M360.7 585.8h.1M360.9 585.1h.1M362.2 579.1h.1M361.5 578.6h.1M361.1 587.9h.1M362 585.1h.1M362 588.5h.1M362.8 582.6h.1M362.6 587.8h.1M363.2 586.1h.1M363.3 579.5h.1M364 588.2h.1M363.7 580.1h.1M364.5 579.6h.1M364.2 582.9h.1M364 580.9h.1M364.2 585.7h.1M365.5 583.7h.1M364.9 583.8h.1M365.5 585.4h.1M365.7 584.7h.1M365.8 589h.1M365.8 584.7h.1M366.2 582.2h.1M366.4 584.6h.1M367.3 585.2h.1M367.3 581.7h.1M367 580.2h.1M367.5 587.2h.1M367.5 578.4h.1M368 582.8h.1M368.1 576.7h.1M368.4 586.4h.1M368.2 580h.1M368.9 583.9h.1M369.1 579.8h.1M369.2 581h.1M369.8 579.3h.1M369.7 575h.1M370.1 582.1h.1M370.4 585.9h.1M370.5 583.4h.1M370.9 581.5h.1M371.2 581.7h.1M371 582.1h.1M371 576.5h.1M371.8 578.9h.1M372.4 583h.1M371.7 573.7h.1M371.9 582.6h.1M372.6 578.9h.1M372.4 577.1h.1M372.8 575.1h.1M373.6 579.1h.1M373.4 575.3h.1M373.6 577.2h.1M373.9 583.5h.1M374.3 575h.1M374.6 578h.1M374.8 580.1h.1M374.2 581.3h.1M374.6 575h.1M375.1 584.3h.1M375.9 573.6h.1M375.5 579.8h.1M375.8 583.8h.1M376 575.7h.1M376.3 574.1h.1M377.4 581.8h.1M377 572.5h.1M377.1 578.4h.1M377.1 571.8h.1M376.9 576.4h.1M377.6 577.5h.1M378.2 573.5h.1M378.1 572.7h.1M378.1 572.5h.1M379.2 580.9h.1M378.8 582.3h.1M379.5 584.6h.1M379.3 580.7h.1M379.5 576.8h.1M380.1 578h.1M380.5 580.7h.1M380.1 575.3h.1M380.4 584.5h.1M381 583h.1M381.4 585.8h.1M381.2 578.2h.1M381.2 573h.1M382 584.8h.1M381.8 575.2h.1M382.1 581.6h.1M382.2 574.7h.1M382.2 580h.1M382.6 587.1h.1M383.2 584.4h.1M383 579.8h.1M383.1 586.6h.1M383.8 576.6h.1M384.2 582.6h.1M384.4 578.1h.1M384.9 586.3h.1M384.7 585.8h.1M385.2 585.5h.1M385.1 588.6h.1M385.4 589.7h.1M385.6 585.5h.1M386.5 588h.1M385.9 588.1h.1M386.5 590.1h.1M386.5 590h.1M386.7 582.7h.1M387.1 579.7h.1M387.3 577.7h.1M387.7 578.5h.1M387.3 580.1h.1M387.7 581.9h.1M388.1 587.3h.1M388 581h.1M388.1 581.5h.1M388.1 589.6h.1M389.3 580.7h.1M389.7 581.9h.1M389.6 582.4h.1M390.1 582.7h.1M389.5 581.7h.1M389.8 588.1h.1M390.4 577.6h.1M390.3 578.5h.1M391.2 583.8h.1M391.1 577.5h.1M391.9 583.8h.1M391.3 591.2h.1M392.2 579.7h.1M391.4 585.9h.1M391.9 588.8h.1M392.8 583.8h.1M392.6 579.7h.1M393.2 579.8h.1M392.7 582h.1M393.8 584.8h.1M394.1 586.3h.1M393.9 589.6h.1M394.1 581.6h.1M394.3 579.7h.1M394.7 590.4h.1M394.5 590.2h.1M395.1 586.6h.1M395.4 578.8h.1M395.7 588h.1M395.4 583.3h.1M395.8 583h.1M396 580.4h.1M396.9 588.3h.1M396.9 580.6h.1M397.3 579h.1M396.9 581.4h.1M397.4 577.7h.1M397.4 581.3h.1M397.3 580.7h.1M397.7 587.8h.1M397.8 583.9h.1M398.6 586.2h.1M398.7 586.7h.1M398.8 584.5h.1M399.3 580.5h.1M399.2 577.7h.1M399.4 586.6h.1M400.1 581.2h.1M400.6 587.3h.1M400.4 587.8h.1M400.3 586.4h.1M400.3 576.7h.1M401.1 579.8h.1M400.9 581h.1M400.9 582.5h.1M401.8 582.4h.1M401.6 575.8h.1M402 577.1h.1M402.4 579h.1M402.7 580.3h.1M403.1 580.4h.1M402.9 576.1h.1M403.6 575.2h.1M403.7 575.6h.1M404.2 570.7h.1M403.9 581.5h.1M404.4 571.1h.1M404.7 577.6h.1M404.3 578.2h.1M405 575.2h.1M405.6 581.6h.1M405.4 577h.1M405.6 570.6h.1M406.1 567.4h.1M406.3 571.2h.1M406.9 569.2h.1M406.4 567.4h.1M406.4 574.1h.1M407 571.7h.1M407.3 568.3h.1M407.2 575h.1M407.8 568.3h.1M408.5 562.2h.1M408.2 570.1h.1M408.2 565.1h.1M408.4 563.1h.1M408.7 559.6h.1M409 568.2h.1M409.9 571.9h.1M409.6 562.1h.1M409.4 565.9h.1M410.1 564.6h.1M410.3 556.3h.1M410.2 557.7h.1M410.9 563h.1M410.9 561.4h.1M411.2 564.7h.1M411.4 556.4h.1M411.6 563h.1M412.3 551.2h.1M412.3 557.7h.1M412.6 554.1h.1M412.7 554.8h.1M412.9 554h.1M412.8 552.3h.1M413.2 549.9h.1M412.9 554.8h.1M414 549.8h.1M413.9 551.5h.1M414.3 546.1h.1M414.2 548h.1M414.5 546.5h.1M415.4 548h.1M415.6 552.9h.1M415.6 546.3h.1M415.4 549.3h.1M416.1 548.9h.1M416.4 546.7h.1M416.2 547.7h.1M416.5 546h.1M416.9 540.2h.1M417.1 545.5h.1M416.9 536.6h.1M417.7 541.1h.1M417.6 544.5h.1M418.3 532.3h.1M417.9 541h.1M418.7 537.4h.1M418.8 542.5h.1M419.1 533.8h.1M419 536.9h.1M419.5 537.2h.1M419.8 531.2h.1M419.6 534.3h.1M420.2 529.4h.1M420.6 528.5h.1M420.4 525.9h.1M421.2 528.6h.1M421.1 522.6h.1M421.5 533.4h.1M421.5 534h.1M421.7 527.8h.1M422.3 524.5h.1M421.5 519.2h.1M422.3 527.6h.1M422.3 525.1h.1M422.5 522.6h.1M423 530.7h.1M423.5 528.2h.1M423.5 528.2h.1M423.2 517.2h.1M424.4 528.2h.1M424.4 517.7h.1M424.5 526.1h.1M424.6 517.5h.1M424.9 519.9h.1M424.9 521.9h.1M425.4 511.8h.1M425.6 513.2h.1M425.5 513.2h.1M425.8 510.5h.1M425.8 513.8h.1M426.8 519.6h.1M426.8 517.3h.1M426.9 517.8h.1M426.9 512.4h.1M427.3 515.6h.1M427.5 511.4h.1M427.7 513.9h.1M427.7 517.2h.1M428.3 519h.1M428.8 518.3h.1M428.7 513.4h.1M429.5 518.4h.1M429.3 512.1h.1M429.3 508h.1M430 519.9h.1M430 514.4h.1M430.2 512.7h.1M430.2 505.6h.1M430.3 515.7h.1M431.3 512.6h.1M430.6 504.4h.1M431 508.6h.1M431.5 507.8h.1M432.2 505.6h.1M432.6 512h.1M432.2 511.9h.1M432.6 512.5h.1M432.5 504h.1M433.6 505.7h.1M433.2 509.8h.1M433.5 501.7h.1M433.9 508.8h.1M434.1 503.4h.1M434.6 501h.1M434.9 508.6h.1M434.5 507.6h.1M434.4 501.3h.1M435.1 510.7h.1M435.2 505.2h.1M435.5 499.2h.1M436.1 502.3h.1M435.6 500.6h.1M436.6 500h.1M436.9 498h.1M436.5 500.1h.1M436.8 509.7h.1M436.6 505.5h.1M437.2 500.1h.1M437.8 501.7h.1M437.5 511.2h.1M438.4 510.3h.1M438 499.1h.1M438.1 505.3h.1M438.9 496h.1M438.9 506.1h.1M439.4 497.6h.1M439.5 499.6h.1M439.9 503.3h.1M440 503.4h.1M440 503.1h.1M440.3 499.3h.1M440.1 504.6h.1M441 506.6h.1M441.2 500.3h.1M441.1 504.5h.1M441.3 496.5h.1M442 505.5h.1M442.1 497.6h.1M442.4 493.3h.1M442.1 497.2h.1M442.9 497h.1M443.3 503.4h.1M443.9 502.9h.1M443.2 502.5h.1M443.6 505.2h.1M443.7 499h.1M444.3 503h.1M444.4 496.3h.1M444.8 504.1h.1M444.6 493.1h.1M445.1 499.5h.1M444.9 492.2h.1M445.5 497.8h.1M446.4 499.2h.1M445.8 503.4h.1M446.2 491.7h.1M446.4 493.8h.1M446.9 499.7h.1M447.4 492.5h.1M447.1 502h.1M447.4 500.2h.1M447.4 502.6h.1M447.3 501.7h.1M448.2 501.6h.1M448.4 504.7h.1M448.7 499.7h.1M448.1 500.4h.1M449.1 493.9h.1M449.2 498h.1M449.1 495.3h.1M449.9 504.4h.1M450.4 493.5h.1M450.4 499.7h.1M450.6 497.8h.1M449.8 501.2h.1M450.6 494.9h.1M451.3 499.7h.1M450.9 505.9h.1M451.7 497.6h.1M451.2 496.2h.1M452 502.7h.1M452.2 502.5h.1M452.1 499.2h.1M452.6 497.5h.1M453.1 501.5h.1M453.3 494.7h.1M453.1 507.6h.1M453.7 495.6h.1M453.4 499.7h.1M453.9 502.6h.1M454.1 498.4h.1M454.2 506.2h.1M455 501.3h.1M455.2 497.1h.1M455.3 495.5h.1M455.7 499.3h.1M455.6 496.8h.1M456.2 502.5h.1M456.1 499.2h.1M456.6 505.5h.1M456.1 504.3h.1M456.4 504.9h.1M457.2 496.6h.1M457.5 496h.1M457 507.7h.1M457.9 499.5h.1M458 495.3h.1M458.2 496.6h.1M458.5 498.2h.1M459 501.7h.1M458.9 507.3h.1M459.4 502.8h.1M459.3 506.5h.1M459.5 508.3h.1M459.8 498.6h.1M460 502h.1M459.9 502.4h.1M460 499.5h.1M461.1 503.9h.1M461.6 500.5h.1M461.5 510.4h.1M461.4 499.8h.1M462 501.2h.1M462.2 509.5h.1M462.1 502.3h.1M462.2 505.8h.1M461.9 499.1h.1M463.1 502.4h.1M463.2 501.2h.1M463.2 510.2h.1M463.3 500.3h.1M463.6 502.1h.1M463.8 505.3h.1M464.6 504h.1M464.4 504.1h.1M464.5 505.9h.1M465 504.7h.1M465 503.9h.1M465.2 510.2h.1M465.5 511.7h.1M466 507.8h.1M465.9 504.9h.1M466.2 501.6h.1M466.5 500.5h.1M466.6 501.2h.1M466.8 506.5h.1M467.1 507.6h.1M467.6 504.2h.1M467.7 511.4h.1M468.6 511.5h.1M467.9 500h.1M468.4 511.8h.1M468.7 512.2h.1M468.9 504h.1M469.1 506.3h.1M469.1 504.1h.1M469.4 510.1h.1M469.6 502.7h.1M469.9 510h.1M470.3 511.1h.1M470.5 510.2h.1M470.6 510.7h.1M470.7 504.3h.1M471.7 510.4h.1M471.6 505.9h.1M471.2 508.3h.1M471.7 505.9h.1M472.3 506.8h.1M472.2 511.9h.1M472.3 506.4h.1M473 504.5h.1M473.4 507.5h.1M473.1 507.4h.1M473.2 512.7h.1M473.2 512.8h.1M473.5 510.3h.1M474.7 513.8h.1M473.8 507.5h.1M474.6 512.7h.1M474.6 508.7h.1M475.1 507.9h.1M475.6 513.6h.1M475.4 513.8h.1M475.9 506.9h.1M476.3 518.1h.1M476.4 511.8h.1M476.5 509.2h.1M476.3 510.3h.1M476.9 513h.1M477 517.5h.1M477.6 507.6h.1M477.8 507.2h.1M477.8 515.1h.1M477.5 518.6h.1M478 512.5h.1M478.6 513h.1M478.8 516.2h.1M479.1 511.9h.1M479.2 509.1h.1M479.5 517.6h.1M479.7 509h.1M480.2 514.6h.1M479.7 516h.1M480.1 510.9h.1M480.5 513.4h.1M481.2 513.3h.1M481.1 509h.1M480.8 509.2h.1M481.4 515.6h.1M481.5 511.5h.1M481.9 516.3h.1M482.2 518.5h.1M481.9 512.2h.1M482.8 518.9h.1M482.3 511.4h.1M482.7 514.6h.1M483.5 522.5h.1M483.3 521.4h.1M483.8 514.9h.1M483.2 523.9h.1M484.2 520.4h.1M484 519.9h.1M484.9 524.4h.1M484.8 525.1h.1M485.2 513.6h.1M485.6 517.2h.1M485.7 518.7h.1M485.4 521.4h.1M486 521.4h.1M486.4 517.9h.1M486.6 517.4h.1M486.4 519.1h.1M487.3 524.8h.1M487.5 522.2h.1M487.5 518.4h.1M487.7 516.1h.1M487.7 526.4h.1M488 529.4h.1M488.6 529.6h.1M488.7 523.9h.1M489.4 522.5h.1M489.6 527.8h.1M489.1 529.1h.1M489.2 523.4h.1M489.5 529.7h.1M490.8 530.7h.1M490.1 530.6h.1M490.5 529.4h.1M490.3 526.9h.1M491.2 533.1h.1M491.1 526h.1M491.6 533.3h.1M490.9 528.4h.1M491.2 533.7h.1M491.9 530h.1M492.4 526.2h.1M492.3 530.7h.1M493 538.3h.1M492.6 530.8h.1M492.9 535.9h.1M494.1 535.4h.1M493.9 531h.1M493.8 530.8h.1M494.1 540.1h.1M494.1 532.2h.1M494.5 532h.1M494.6 537.1h.1M495.3 540.3h.1M495.4 532.3h.1M495.6 541.6h.1M496 535.6h.1M496.2 547.6h.1M496 546.3h.1M496.1 547.8h.1M496.1 544.3h.1M496.5 539.2h.1M497.1 549.4h.1M497.7 549.2h.1M497.7 547.4h.1M497.7 542.1h.1M497.9 546.5h.1M498.3 549h.1M499 552.7h.1M498.9 545.8h.1M498.9 556.2h.1M498.5 556.6h.1M499.2 549.3h.1M499.8 552.5h.1M499.9 549h.1M500.1 555.2h.1M500.4 558.6h.1M500.5 553.6h.1M500.7 555.8h.1M500.9 558.9h.1M501.5 558.9h.1M502.1 561h.1M501.2 553.8h.1M502.1 559.6h.1M502.3 561.3h.1M502.3 558.6h.1M502.3 562.4h.1M503.2 555.8h.1M503.2 567.9h.1M503.3 561.5h.1M503.5 566.7h.1M503.1 567.2h.1M504.1 567.6h.1M504.6 558.6h.1M504.2 559.8h.1M505.4 560.8h.1M505.3 556.9h.1M505.1 557.2h.1M504.8 572.4h.1M505.5 568.1h.1M506 563.2h.1M505.8 566.8h.1M506.6 562.8h.1M506.5 559.7h.1M506.9 564.8h.1M506.2 570.2h.1M506.9 567.5h.1M508.1 570.5h.1M508.2 563.2h.1M508.4 562.9h.1M508.1 565.3h.1M508.2 565.6h.1M509.2 570.4h.1M508.9 562h.1M509.2 573.1h.1M509.7 571.3h.1M509 563.2h.1M509.9 567.5h.1M509.7 564.5h.1M509.9 568.5h.1M510.4 571.9h.1M510.6 564.2h.1M510.9 566.3h.1M511.3 566.2h.1M511.9 568h.1M511.9 565.2h.1M511.9 572.7h.1M512.2 572.1h.1M511.9 564.1h.1M512.3 569.5h.1M512.9 571.8h.1M512.9 573.4h.1M513.2 571.9h.1M513.6 577h.1M514 566.7h.1M513.8 566h.1M513.6 572.9h.1M514.2 576h.1M514.6 566.3h.1M514.5 578.9h.1M515.4 571.8h.1M514.9 569.7h.1M515.9 569.4h.1M515.9 566h.1M515.9 573h.1M516.6 575.9h.1M516.3 573.8h.1M516.7 565.5h.1M516.6 571.7h.1M517.6 579.2h.1M517.4 575.4h.1M517.9 566.2h.1M518 572.9h.1M517.9 566.5h.1M519.4 566.9h.1M518.6 565.9h.1M519.3 572.6h.1M519 567.7h.1M519.5 566.7h.1M519.2 568h.1M519.8 570.3h.1M520.2 569.7h.1M520 572.5h.1M520.6 567.1h.1M521.4 567h.1M520.9 575.6h.1M520.8 573.5h.1M521.5 566.1h.1M521.6 566.6h.1M521.7 569.7h.1M522 565.1h.1M522.1 571.4h.1M522.4 563.3h.1M523 563.4h.1M523 570.2h.1M523.2 563.6h.1M523.5 568.6h.1M523.4 570.6h.1M523.9 565.1h.1M524 564.9h.1M524.7 563.7h.1M525 563h.1M524.2 560.9h.1M525.1 563.8h.1M525.3 567.8h.1M525.2 572.6h.1M526.1 564.3h.1M526.1 561.8h.1M525.8 563.3h.1M526 566.1h.1M526.4 572.3h.1M526.4 560.4h.1M526.9 563.7h.1M527.1 567.6h.1M527.7 567.3h.1M527 562.4h.1M528.3 571.1h.1M528.2 560.2h.1M528.3 561.2h.1M528.7 562.5h.1M528.7 566.1h.1M529.1 570.9h.1M529.3 561.2h.1M530.1 562.8h.1M529.9 572h.1M531 567.3h.1M530.8 571.5h.1M530.5 565.6h.1M530.7 566.2h.1M531.1 568.4h.1M531.5 562.4h.1M531.6 568.4h.1M531.5 569.6h.1M532.1 567.4h.1M532.2 569.6h.1M531.9 567.9h.1M532.7 570.8h.1M532.6 562h.1M532.7 561.3h.1M532.3 565.2h.1M533.7 561.1h.1M534.1 560.1h.1M534.1 565.3h.1M534.3 569.6h.1M535.2 571.4h.1M534.7 570.4h.1M535.3 563h.1M535.6 565.5h.1M535.9 563.7h.1M535.3 561.4h.1M536.4 572h.1M536.6 559.8h.1M536.5 565.1h.1M536.7 564.9h.1M536.8 569.9h.1M537.1 561.4h.1M537.2 563.3h.1M537.4 564.8h.1M537.7 560.9h.1M538 558.2h.1M537.7 560.8h.1M538.7 565.7h.1M538.7 562h.1M538.9 559.3h.1M539 555.2h.1M539.2 565.1h.1M539.4 564.8h.1M539.4 560.4h.1M540 562.9h.1M540 567.1h.1M540.6 557.3h.1M540.3 564h.1M541.2 558.8h.1M541.2 564h.1M541.2 566.2h.1M541.8 558.9h.1M541.9 563.8h.1M542.5 565.3h.1M541.9 559h.1M543.5 560h.1M543.1 559.5h.1M543.2 563.9h.1M543.5 558.9h.1M543.4 562.8h.1M544.4 554.3h.1M544.3 557.3h.1M544.2 562.4h.1M544.5 558.4h.1M545.2 552.5h.1M544.8 552.8h.1M545.3 561.4h.1M545.5 556.9h.1M545.7 559.6h.1M545.9 558.5h.1M546.5 557.3h.1M546.2 563h.1M546.4 552.2h.1M546.6 563.6h.1M546.8 554.7h.1M546.8 556.2h.1M547.6 554.7h.1M547.6 562.4h.1M547.9 564.6h.1M548.1 563.3h.1M548.5 556.1h.1M548.8 561.9h.1M549 555.1h.1M549.4 557h.1M549.6 554.9h.1M549.1 560h.1M549.7 562.3h.1M550.1 555.6h.1M550 560.8h.1M550.4 561h.1M550.8 563.9h.1M551.2 556.5h.1M551.1 565.4h.1M551.2 559.8h.1M551.5 554.8h.1M552.1 565.4h.1M551.8 555.1h.1M552.6 566.2h.1M552.1 559.1h.1M553.1 558.3h.1M553.3 556.3h.1M553.5 556.8h.1M553.6 566.5h.1M553.9 559.3h.1M553.6 558.2h.1M554.3 557.8h.1M554.5 563.2h.1M554.6 562.1h.1M555.4 561.3h.1M555.4 569.4h.1M555 562.1h.1M555.7 565.8h.1M555.9 565.7h.1M556.4 559.8h.1M556.4 562.1h.1M555.8 562.7h.1M556.6 568.3h.1M557.1 564.3h.1M557.4 571h.1M557.5 566.9h.1M557.6 563h.1M558.3 570.5h.1M558.3 559.8h.1M558 568.1h.1M558.4 570.7h.1M559.2 563.2h.1M559.2 571.5h.1M559.4 561.4h.1M560.4 565h.1M560 563.6h.1M559.7 573.5h.1M560 564.3h.1M560.4 568.5h.1M560.2 564.4h.1M561 563.9h.1M560.6 570.5h.1M561.2 566.1h.1M561.4 569.9h.1M561.7 568.7h.1M561.8 563.9h.1M562 573.4h.1M562.9 566h.1M562.8 571.4h.1M562.7 574h.1M563.4 576.5h.1M563 567.7h.1M563.4 566.6h.1M564.1 568.2h.1M564.4 566.7h.1M564.4 572.7h.1M564.3 576.2h.1M564.4 567.1h.1M564.4 578.5h.1M564.2 571.8h.1M565.6 576.5h.1M565.9 578.1h.1M566.4 574.2h.1M565.6 570h.1M566.6 574.7h.1M566.4 572.6h.1M566.9 569.6h.1M566.9 577.2h.1M567.6 573.4h.1M566.9 570.9h.1M567.7 575.6h.1M567.7 571.3h.1M567.7 579.5h.1M568.9 573.6h.1M569 571h.1M569.4 572h.1M569.5 575.9h.1M569.2 571.8h.1M569.6 575.8h.1M569.9 579.4h.1M570.1 582.3h.1M570.6 580h.1M570.6 583.1h.1M570.7 576.2h.1M570.9 572.4h.1M571.3 578h.1M571.4 581.7h.1M571.2 579.3h.1M572.1 576.8h.1M572.2 581.4h.1M572.3 573.4h.1M573 575h.1M572.6 580.6h.1M572.9 574.3h.1M573.5 574.6h.1M572.8 584.8h.1M573.7 575.7h.1M573.7 584.4h.1M574.7 574h.1M575 580.8h.1M574.4 581h.1M575.4 581.6h.1M575 580.9h.1M575.8 583.4h.1M576.1 574.2h.1M575.5 575.2h.1M576.2 580.8h.1M576.5 578h.1M576.4 578.1h.1M576.7 582.2h.1M577.2 571.9h.1M577.3 583.1h.1M578 576h.1M577.9 581h.1M578 584.5h.1M578.3 575h.1M579.2 576.9h.1M579 575.4h.1M578.5 576.4h.1M579 576.2h.1M579.4 575.7h.1M579.6 570.9h.1M579.7 578.2h.1M579.6 576.8h.1M580 581.5h.1M581.1 577.8h.1M580.5 571.2h.1M580.9 574.2h.1M581.1 573.3h.1M581.9 574.3h.1M581.8 571.1h.1M581.6 580.1h.1M582.5 576.7h.1M582.5 572.3h.1M582.3 571.5h.1M582.8 573.9h.1M582.5 582.7h.1M583.9 578.6h.1M583.7 584.4h.1M583.8 571.1h.1M584.7 582.5h.1M584 577.9h.1M584.5 579.6h.1M584.2 575.4h.1M585.3 583h.1M585.2 576.3h.1M585.4 582.8h.1M585.4 572.5h.1M585.5 582.6h.1M586.1 579.1h.1" stroke="#E9B53C" stroke-width="1.6" stroke-linecap="round" fill="none"/>
<path d="M94.9 479.2H599.2V714.6H94.9Z" stroke="#7A7A7A" stroke-width="1.4" fill="none"/>
<path d="M94.9 595.9H599.2" stroke="#7A7A7A" stroke-width="1.6"/>
<path d="M101.4 479.2v5.3M101.4 714.6v4.5M182.2 479.2v5.3M182.2 714.6v4.5M262.9 479.2v5.3M262.9 714.6v4.5M343.7 479.2v5.3M343.7 714.6v4.5M424.5 479.2v5.3M424.5 714.6v4.5M505.3 479.2v5.3M505.3 714.6v4.5M586 479.2v5.3M586 714.6v4.5M94.9 502h-5.5M94.9 546.5h-5.5M94.9 591h-5.5M94.9 479.7h-2.5M94.9 524.2h-2.5M94.9 568.8h-2.5M94.9 714.2h-5.5M94.9 690.6h-5.5M94.9 643.3h-5.5M94.9 596h-5.5M94.9 666.9h-2.5M94.9 619.6h-2.5" stroke="#555" stroke-width="1.2"/>
<text x="84.3" y="507.9" font-size="18" fill="#111" text-anchor="end">15.00</text>
<text x="84.3" y="552.4" font-size="18" fill="#111" text-anchor="end">0.00</text>
<text x="84.3" y="596.9" font-size="18" fill="#111" text-anchor="end">-<tspan dx="2">15.00</tspan></text>
<text x="84" y="649.2" font-size="18" fill="#111" text-anchor="end">80</text>
<text x="84" y="696.5" font-size="18" fill="#111" text-anchor="end">60</text>
<text x="101.4" y="735.1" font-size="18" fill="#111" text-anchor="middle">0</text>
<text x="182.2" y="735.1" font-size="18" fill="#111" text-anchor="middle">12</text>
<text x="262.9" y="735.1" font-size="18" fill="#111" text-anchor="middle">24</text>
<text x="343.7" y="735.1" font-size="18" fill="#111" text-anchor="middle">36</text>
<text x="424.5" y="735.1" font-size="18" fill="#111" text-anchor="middle">48</text>
<text x="505.3" y="735.1" font-size="18" fill="#111" text-anchor="middle">60</text>
<text x="586" y="735.1" font-size="18" fill="#111" text-anchor="middle">72</text>
<text x="347.5" y="763.5" font-size="22.8" fill="#111" text-anchor="middle"><tspan font-style="italic">t</tspan> (h)</text>
<text transform="translate(33.3,535.4) rotate(-90)" font-size="22.8" fill="#111" text-anchor="middle"><tspan font-style="italic">I</tspan><tspan font-size="16.2" dy="5.3">sc</tspan><tspan dy="-5.3"> (μA)</tspan></text>
<text transform="translate(33.3,657) rotate(-90)" font-size="22.8" fill="#111" text-anchor="middle"><tspan font-style="italic">φ</tspan><tspan font-size="16.2" dy="5.3">RH</tspan><tspan dy="-5.3"> (%)</tspan></text>
<text x="49.5" y="463.3" font-size="21.5" font-weight="bold" fill="#000">b</text>
<polyline points="711.6,133.9 712.7,115 713.8,92.4 715,103.5 716.1,107.3 717.2,120.6 718.3,104.5 719.4,113.9 720.6,81.9 721.7,120.5 722.8,94.2 723.9,121.1 725,86 726.2,94.6 727.3,105.9 728.4,121.3 729.5,88.7 730.6,115.2 731.8,91.7 732.9,121.8 734,77.7 735.1,108.6 736.2,82.9 737.4,118.2 738.5,94.1 739.6,105 740.7,100.9 741.8,126.6 743,82.4 744.1,106.5 745.2,88.2 746.3,109.2 747.4,104.2 748.6,123.5 749.7,131.1 750.8,100.5 751.9,98.2 753,133 754.1,84.1 755.3,104.5 756.4,101.8 757.5,98.1 758.6,89.1 759.7,108.9 760.9,77.7 762,111.2 763.1,78.3 764.2,77.4 765.3,75.7 766.5,106.8 767.6,63.8 768.7,95.7 769.8,78.1 770.9,45 772.1,59.7 773.2,94.2 774.3,82.3 775.4,81.3 776.5,73.9 777.7,84.1 778.8,74.2 779.9,98.2 781,67.4 782.1,94.6 783.3,64.3 784.4,84 785.5,73.5 786.6,88.9 787.7,55 788.9,89.1 790,73.9 791.1,86.3 792.2,82.4 793.3,82 794.5,80.1 795.6,104.2 796.7,83.1 797.8,108.2 798.9,87.1 800.1,97.4 801.2,83.8 802.3,116.2 803.4,67.9 804.5,100.3 805.7,78.2 806.8,125.5 807.9,76.3 809,95.5 810.1,82.8 811.3,102.2 812.4,81.8 813.5,110.8 814.6,76.5 815.7,108.5 816.9,75.5 818,107.7 819.1,70.4 820.2,120 821.3,91 822.5,107.6 823.6,81.6 824.7,113 825.8,71.1 826.9,116.1 828.1,71.8 829.2,95.1 830.3,81.8 831.4,89.3 832.5,66.4 833.7,93.8 834.8,84.7 835.9,104.1 837,88.4 838.1,114.2 839.2,80.4 840.4,96.3 841.5,81.2 842.6,90.9 843.7,77.7 844.8,100.3 846,85.1 847.1,90.9 848.2,73.4 849.3,105.2 850.4,85 851.6,109.8 852.7,85.2 853.8,91.5 854.9,84.4 856,108.5 857.2,70.6 858.3,101.5 859.4,89.8 860.5,111.4 861.6,74.8 862.8,114.1 863.9,76 865,101.5 866.1,69.9 867.2,99.8 868.4,95.7 869.5,96 870.6,94.5 871.7,114.3 872.8,76.2 874,118.6 875.1,68.7 876.2,97.1 877.3,77 878.4,100.1 879.6,96.1 880.7,103.9 881.8,76.8 882.9,107.3 884,80.2 885.2,107.1 886.3,83 887.4,102.9 888.5,87.4 889.6,115.4 890.8,85.7 891.9,115.9 893,86.6 894.1,104.3 895.2,72.2 896.4,107.6 897.5,91.1 898.6,118.1 899.7,103.1 900.8,105.4 902,90 903.1,90.8 904.2,95.5 905.3,123 906.4,88 907.6,133.3 908.7,82 909.8,118.1 910.9,102.9 912,119.5 913.2,95.5 914.3,131.8 915.4,93.5 916.5,104.7 917.6,84.7 918.8,123.9 919.9,85.5 921,127.2 922.1,87.6 923.2,113.2 924.3,98.6 925.5,104.1 926.6,95.3 927.7,135.7 928.8,90.3 929.9,130.6 931.1,93.5 932.2,133.4 933.3,99.7 934.4,131.3 935.5,96.4 936.7,111.7 937.8,93.3 938.9,112.7 940,95.6 941.1,129.3 942.3,109 943.4,116.8 944.5,93.7 945.6,121.1 946.7,93.8 947.9,114.6 949,98.9 950.1,131.4 951.2,101.2 952.3,105 953.5,106.3 954.6,111.3 955.7,75 956.8,101.1 957.9,71.9 959.1,114.6 960.2,98 961.3,108.5 962.4,95.5 963.5,114.2 964.7,92.7 965.8,101.2 966.9,97.6 968,122.1 969.1,87.8 970.3,108.3 971.4,85 972.5,113.6 973.6,73.3 974.7,109.1 975.9,100 977,111.2 978.1,92.2 979.2,97.2 980.3,98.3 981.5,105.8 982.6,88.9 983.7,122.4 984.8,89.6 985.9,104.9 987.1,97.1 988.2,109.8 989.3,76.7 990.4,117.8 991.5,97.5 992.7,124.3 993.8,77.3 994.9,116.1 996,84.7 997.1,104.8 998.3,144.1 999.4,109.6 1000.5,98.1 1001.6,117.4 1002.7,76.1 1003.9,124.2 1005,88.1 1006.1,97.5 1007.2,80.1 1008.3,124.1 1009.4,77 1010.6,112.2 1011.7,82 1012.8,108.7 1013.9,93.5 1015,114.4 1016.2,86.7 1017.3,107.5 1018.4,87.7 1019.5,115.7 1020.6,89.1 1021.8,119.1 1022.9,85.4 1024,101.9 1025.1,80.6 1026.2,100.8 1027.4,74.3 1028.5,88 1029.6,80.2 1030.7,104.8 1031.8,77 1033,92.9 1034.1,81.4 1035.2,100 1036.3,65.6 1037.4,95.5 1038.6,72.5 1039.7,104.1 1040.8,56.1 1041.9,108.3 1043,69.6 1044.2,106 1045.3,74.8 1046.4,102.4" fill="none" stroke="#D0EFB2" stroke-width="1"/>
<path d="M711.6 133.9h.1M712.7 115h.1M713.8 92.4h.1M715 103.5h.1M716.1 107.3h.1M717.2 120.6h.1M718.3 104.5h.1M719.4 113.9h.1M720.6 81.9h.1M721.7 120.5h.1M722.8 94.2h.1M723.9 121.1h.1M725 86h.1M726.2 94.6h.1M727.3 105.9h.1M728.4 121.3h.1M729.5 88.7h.1M730.6 115.2h.1M731.8 91.7h.1M732.9 121.8h.1M734 77.7h.1M735.1 108.6h.1M736.2 82.9h.1M737.4 118.2h.1M738.5 94.1h.1M739.6 105h.1M740.7 100.9h.1M741.8 126.6h.1M743 82.4h.1M744.1 106.5h.1M745.2 88.2h.1M746.3 109.2h.1M747.4 104.2h.1M748.6 123.5h.1M749.7 131.1h.1M750.8 100.5h.1M751.9 98.2h.1M753 133h.1M754.1 84.1h.1M755.3 104.5h.1M756.4 101.8h.1M757.5 98.1h.1M758.6 89.1h.1M759.7 108.9h.1M760.9 77.7h.1M762 111.2h.1M763.1 78.3h.1M764.2 77.4h.1M765.3 75.7h.1M766.5 106.8h.1M767.6 63.8h.1M768.7 95.7h.1M769.8 78.1h.1M770.9 45h.1M772.1 59.7h.1M773.2 94.2h.1M774.3 82.3h.1M775.4 81.3h.1M776.5 73.9h.1M777.7 84.1h.1M778.8 74.2h.1M779.9 98.2h.1M781 67.4h.1M782.1 94.6h.1M783.3 64.3h.1M784.4 84h.1M785.5 73.5h.1M786.6 88.9h.1M787.7 55h.1M788.9 89.1h.1M790 73.9h.1M791.1 86.3h.1M792.2 82.4h.1M793.3 82h.1M794.5 80.1h.1M795.6 104.2h.1M796.7 83.1h.1M797.8 108.2h.1M798.9 87.1h.1M800.1 97.4h.1M801.2 83.8h.1M802.3 116.2h.1M803.4 67.9h.1M804.5 100.3h.1M805.7 78.2h.1M806.8 125.5h.1M807.9 76.3h.1M809 95.5h.1M810.1 82.8h.1M811.3 102.2h.1M812.4 81.8h.1M813.5 110.8h.1M814.6 76.5h.1M815.7 108.5h.1M816.9 75.5h.1M818 107.7h.1M819.1 70.4h.1M820.2 120h.1M821.3 91h.1M822.5 107.6h.1M823.6 81.6h.1M824.7 113h.1M825.8 71.1h.1M826.9 116.1h.1M828.1 71.8h.1M829.2 95.1h.1M830.3 81.8h.1M831.4 89.3h.1M832.5 66.4h.1M833.7 93.8h.1M834.8 84.7h.1M835.9 104.1h.1M837 88.4h.1M838.1 114.2h.1M839.2 80.4h.1M840.4 96.3h.1M841.5 81.2h.1M842.6 90.9h.1M843.7 77.7h.1M844.8 100.3h.1M846 85.1h.1M847.1 90.9h.1M848.2 73.4h.1M849.3 105.2h.1M850.4 85h.1M851.6 109.8h.1M852.7 85.2h.1M853.8 91.5h.1M854.9 84.4h.1M856 108.5h.1M857.2 70.6h.1M858.3 101.5h.1M859.4 89.8h.1M860.5 111.4h.1M861.6 74.8h.1M862.8 114.1h.1M863.9 76h.1M865 101.5h.1M866.1 69.9h.1M867.2 99.8h.1M868.4 95.7h.1M869.5 96h.1M870.6 94.5h.1M871.7 114.3h.1M872.8 76.2h.1M874 118.6h.1M875.1 68.7h.1M876.2 97.1h.1M877.3 77h.1M878.4 100.1h.1M879.6 96.1h.1M880.7 103.9h.1M881.8 76.8h.1M882.9 107.3h.1M884 80.2h.1M885.2 107.1h.1M886.3 83h.1M887.4 102.9h.1M888.5 87.4h.1M889.6 115.4h.1M890.8 85.7h.1M891.9 115.9h.1M893 86.6h.1M894.1 104.3h.1M895.2 72.2h.1M896.4 107.6h.1M897.5 91.1h.1M898.6 118.1h.1M899.7 103.1h.1M900.8 105.4h.1M902 90h.1M903.1 90.8h.1M904.2 95.5h.1M905.3 123h.1M906.4 88h.1M907.6 133.3h.1M908.7 82h.1M909.8 118.1h.1M910.9 102.9h.1M912 119.5h.1M913.2 95.5h.1M914.3 131.8h.1M915.4 93.5h.1M916.5 104.7h.1M917.6 84.7h.1M918.8 123.9h.1M919.9 85.5h.1M921 127.2h.1M922.1 87.6h.1M923.2 113.2h.1M924.3 98.6h.1M925.5 104.1h.1M926.6 95.3h.1M927.7 135.7h.1M928.8 90.3h.1M929.9 130.6h.1M931.1 93.5h.1M932.2 133.4h.1M933.3 99.7h.1M934.4 131.3h.1M935.5 96.4h.1M936.7 111.7h.1M937.8 93.3h.1M938.9 112.7h.1M940 95.6h.1M941.1 129.3h.1M942.3 109h.1M943.4 116.8h.1M944.5 93.7h.1M945.6 121.1h.1M946.7 93.8h.1M947.9 114.6h.1M949 98.9h.1M950.1 131.4h.1M951.2 101.2h.1M952.3 105h.1M953.5 106.3h.1M954.6 111.3h.1M955.7 75h.1M956.8 101.1h.1M957.9 71.9h.1M959.1 114.6h.1M960.2 98h.1M961.3 108.5h.1M962.4 95.5h.1M963.5 114.2h.1M964.7 92.7h.1M965.8 101.2h.1M966.9 97.6h.1M968 122.1h.1M969.1 87.8h.1M970.3 108.3h.1M971.4 85h.1M972.5 113.6h.1M973.6 73.3h.1M974.7 109.1h.1M975.9 100h.1M977 111.2h.1M978.1 92.2h.1M979.2 97.2h.1M980.3 98.3h.1M981.5 105.8h.1M982.6 88.9h.1M983.7 122.4h.1M984.8 89.6h.1M985.9 104.9h.1M987.1 97.1h.1M988.2 109.8h.1M989.3 76.7h.1M990.4 117.8h.1M991.5 97.5h.1M992.7 124.3h.1M993.8 77.3h.1M994.9 116.1h.1M996 84.7h.1M997.1 104.8h.1M998.3 144.1h.1M999.4 109.6h.1M1000.5 98.1h.1M1001.6 117.4h.1M1002.7 76.1h.1M1003.9 124.2h.1M1005 88.1h.1M1006.1 97.5h.1M1007.2 80.1h.1M1008.3 124.1h.1M1009.4 77h.1M1010.6 112.2h.1M1011.7 82h.1M1012.8 108.7h.1M1013.9 93.5h.1M1015 114.4h.1M1016.2 86.7h.1M1017.3 107.5h.1M1018.4 87.7h.1M1019.5 115.7h.1M1020.6 89.1h.1M1021.8 119.1h.1M1022.9 85.4h.1M1024 101.9h.1M1025.1 80.6h.1M1026.2 100.8h.1M1027.4 74.3h.1M1028.5 88h.1M1029.6 80.2h.1M1030.7 104.8h.1M1031.8 77h.1M1033 92.9h.1M1034.1 81.4h.1M1035.2 100h.1M1036.3 65.6h.1M1037.4 95.5h.1M1038.6 72.5h.1M1039.7 104.1h.1M1040.8 56.1h.1M1041.9 108.3h.1M1043 69.6h.1M1044.2 106h.1M1045.3 74.8h.1M1046.4 102.4h.1" stroke="#F5934B" stroke-width="4.3" stroke-linecap="round" fill="none"/>
<line x1="711.6" y1="312.3" x2="1046.4" y2="200.5" stroke="#333" stroke-width="1.3" stroke-dasharray="4 3"/>
<path d="M700 297.6l23.2 23.2M700 320.8l23.2 -23.2" stroke="#858585" stroke-width="1.2"/>
<polygon points="711.6,297.8 714.2,305.6 722.4,305.7 715.8,310.6 718.3,318.4 711.6,313.7 704.9,318.4 707.4,310.6 700.8,305.7 709,305.6" fill="none" stroke="#7A7A7A" stroke-width="1.2"/>
<path d="M755.8 277.3l23.2 23.2M755.8 300.5l23.2 -23.2" stroke="#858585" stroke-width="1.2"/>
<polygon points="767.4,277.5 770,285.4 778.2,285.4 771.6,290.3 774.1,298.2 767.4,293.4 760.7,298.2 763.2,290.3 756.6,285.4 764.8,285.4" fill="none" stroke="#7A7A7A" stroke-width="1.2"/>
<path d="M811.6 263.7l23.2 23.2M811.6 286.9l23.2 -23.2" stroke="#858585" stroke-width="1.2"/>
<polygon points="823.2,263.9 825.8,271.7 834,271.8 827.4,276.7 829.9,284.5 823.2,279.7 816.5,284.5 819,276.7 812.4,271.8 820.6,271.7" fill="none" stroke="#7A7A7A" stroke-width="1.2"/>
<path d="M867.4 244.4l23.2 23.2M867.4 267.6l23.2 -23.2" stroke="#858585" stroke-width="1.2"/>
<polygon points="879,244.6 881.6,252.4 889.8,252.5 883.2,257.4 885.7,265.2 879,260.4 872.3,265.2 874.8,257.4 868.2,252.5 876.4,252.4" fill="none" stroke="#7A7A7A" stroke-width="1.2"/>
<path d="M923.2 226.7l23.2 23.2M923.2 249.9l23.2 -23.2" stroke="#858585" stroke-width="1.2"/>
<polygon points="934.8,226.9 937.4,234.7 945.6,234.8 939,239.7 941.5,247.5 934.8,242.7 928.1,247.5 930.6,239.7 924,234.8 932.2,234.7" fill="none" stroke="#7A7A7A" stroke-width="1.2"/>
<path d="M979 208.2l23.2 23.2M979 231.4l23.2 -23.2" stroke="#858585" stroke-width="1.2"/>
<polygon points="990.6,208.4 993.2,216.2 1001.4,216.3 994.8,221.2 997.3,229 990.6,224.2 983.9,229 986.4,221.2 979.8,216.3 988,216.2" fill="none" stroke="#7A7A7A" stroke-width="1.2"/>
<path d="M1034.8 191.7l23.2 23.2M1034.8 214.9l23.2 -23.2" stroke="#858585" stroke-width="1.2"/>
<polygon points="1046.4,191.9 1049,199.7 1057.2,199.8 1050.6,204.7 1053.1,212.5 1046.4,207.8 1039.7,212.5 1042.2,204.7 1035.6,199.8 1043.8,199.7" fill="none" stroke="#7A7A7A" stroke-width="1.2"/>
<path d="M706.2 22.8H1052.6V338.8H706.2Z" stroke="#1A1A1A" stroke-width="1.5" fill="none"/>
<path d="M706.2 180.8H1052.6" stroke="#333" stroke-width="2"/>
<path d="M711.6 338.8v4.5M823.2 338.8v4.5M934.8 338.8v4.5M1046.4 338.8v4.5M706.2 51h-4.2M706.2 97.6h-4.2M706.2 144.1h-4.2M706.2 27.8h-2.2M706.2 74.3h-2.2M706.2 120.9h-2.2M706.2 167.4h-2.2M706.2 219h-4.2M706.2 259.2h-4.2M706.2 299.4h-4.2M706.2 198.9h-2.2M706.2 239.1h-2.2M706.2 279.3h-2.2M706.2 319.5h-2.2" stroke="#1A1A1A" stroke-width="1.2"/>
<text x="700.4" y="56.9" font-size="18" fill="#111" text-anchor="end">14.5</text>
<text x="700.4" y="103.5" font-size="18" fill="#111" text-anchor="end">14.0</text>
<text x="700.4" y="150" font-size="18" fill="#111" text-anchor="end">13.5</text>
<text x="700.4" y="224.9" font-size="18" fill="#111" text-anchor="end">65</text>
<text x="700.4" y="265.1" font-size="18" fill="#111" text-anchor="end">60</text>
<text x="700.4" y="305.3" font-size="18" fill="#111" text-anchor="end">55</text>
<text x="711.6" y="361.1" font-size="18" fill="#111" text-anchor="middle">0</text>
<text x="823.2" y="361.1" font-size="18" fill="#111" text-anchor="middle">1</text>
<text x="934.8" y="361.1" font-size="18" fill="#111" text-anchor="middle">2</text>
<text x="1046.4" y="361.1" font-size="18" fill="#111" text-anchor="middle">3</text>
<text x="878.5" y="381" font-size="22.8" fill="#111" text-anchor="middle"><tspan font-style="italic">t</tspan> (h)</text>
<polyline points="711.6,468.9 712.8,495.4 714,472.2 715.1,482.8 716.3,471.4 717.5,486.7 718.7,471.1 719.9,474.3 721,462.6 722.2,493.9 723.4,481 724.6,491.6 725.7,478.3 726.9,490.7 728.1,471.7 729.3,488.3 730.5,467.4 731.6,444.8 732.8,471.2 734,483.4 735.2,466.6 736.4,508 737.5,463.5 738.7,493.5 739.9,479.2 741.1,497.7 742.3,468.3 743.4,503.2 744.6,468.4 745.8,490.3 747,467.2 748.1,503.7 749.3,479 750.5,509.3 751.7,495.9 752.9,523.5 754,512.1 755.2,521.8 756.4,503.7 757.6,521.9 758.8,504.7 759.9,533.9 761.1,508.5 762.3,529.5 763.5,494.2 764.6,526.2 765.8,510.4 767,525.2 768.2,504.9 769.4,522.2 770.5,490.3 771.7,522.8 772.9,506.1 774.1,527.5 775.3,490.3 776.4,516.1 777.6,483.6 778.8,521.5 780,476 781.2,492.5 782.3,472.9 783.5,505.1 784.7,479.2 785.9,494.4 787,466.3 788.2,492.4 789.4,478.3 790.6,499.2 791.8,461.3 792.9,481.7 794.1,468.4 795.3,487.8 796.5,452.3 797.7,503.8 798.8,465.9 800,492.9 801.2,456 802.4,476.5 803.6,469.1 804.7,473.1 805.9,485.1 807.1,484 808.3,468.6 809.4,497.3 810.6,484.4 811.8,493.3 813,465.9 814.2,489.7 815.3,464 816.5,488 817.7,470.6 818.9,497.8 820.1,473.4 821.2,487.5 822.4,476.4 823.6,479.6 824.8,462.3 826,503.2 827.1,470.3 828.3,495.6 829.5,461.5 830.7,494.9 831.8,463.1 833,481.6 834.2,472.4 835.4,474.5 836.6,478.4 837.7,479.4 838.9,462.7 840.1,496.4 841.3,477.3 842.5,498.4 843.6,458.7 844.8,486.8 846,461.6 847.2,490.5 848.3,462.4 849.5,474.4 850.7,460.9 851.9,479 853.1,476.1 854.2,492 855.4,470.7 856.6,471.6 857.8,473.2 859,474.8 860.1,478.2 861.3,497.1 862.5,464.3 863.7,486 864.9,481.1 866,489 867.2,470.1 868.4,493.1 869.6,470.4 870.7,476.6 871.9,468.5 873.1,495.9 874.3,470.2 875.5,479.7 876.6,466.6 877.8,480.2 879,472.9 880.2,493.6 881.4,468.6 882.5,500.2 883.7,478.8 884.9,478.8 886.1,460.6 887.3,482.9 888.4,458 889.6,489.1 890.8,463.8 892,498.1 893.1,467.3 894.3,482.2 895.5,467.1 896.7,480.7 897.9,477.7 899,472.5 900.2,477.6 901.4,495.4 902.6,461.1 903.8,484.1 904.9,467.6 906.1,480.9 907.3,476.3 908.5,496.7 909.7,479.4 910.8,512.9 912,465.9 913.2,484.5 914.4,467.1 915.5,477.4 916.7,462.5 917.9,486.1 919.1,478.3 920.3,481.2 921.4,469.4 922.6,493.2 923.8,463.5 925,486 926.2,463.3 927.3,489.6 928.5,455.7 929.7,478.2 930.9,475.3 932,475.2 933.2,467.2 934.4,472.9 935.6,454.6 936.8,477.6 937.9,450.3 939.1,487.6 940.3,461 941.5,479.7 942.7,448.8 943.8,474.9 945,453.7 946.2,475.2 947.4,451.9 948.6,459.3 949.7,450.1 950.9,465.4 952.1,438.8 953.3,461.1 954.4,434.9 955.6,472.5 956.8,432.6 958,445.7 959.2,426 960.3,464.5 961.5,430.3 962.7,473.5 963.9,414.4 965.1,468.7 966.2,430.4 967.4,452.4 968.6,438.4 969.8,457.9 971,460.3 972.1,473.3 973.3,468.5 974.5,490.6 975.7,454.6 976.8,493.9 978,458.2 979.2,487.8 980.4,462.3 981.6,477.9 982.7,452.2 983.9,480.5 985.1,459.4 986.3,485.1 987.5,457 988.6,483.6 989.8,445.7 991,466.6 992.2,455.6 993.4,488.7 994.5,452.6 995.7,453 996.9,457.4 998.1,466 999.2,454.7 1000.4,463.6 1001.6,454.1 1002.8,480.4 1004,440.5 1005.1,457.8 1006.3,447.2 1007.5,478.1 1008.7,452.6 1009.9,481.9 1011,444.2 1012.2,474.7 1013.4,449.6 1014.6,478.8 1015.7,447.8 1016.9,457.9 1018.1,457.4 1019.3,482.7 1020.5,457.7 1021.6,466.9 1022.8,434 1024,468.3 1025.2,432.3 1026.4,469.5 1027.5,422.8 1028.7,472.3 1029.9,431.8 1031.1,474.7 1032.3,439.8 1033.4,478.8 1034.6,456.4 1035.8,471 1037,441.8 1038.1,497.2 1039.3,451.4 1040.5,467.2 1041.7,445.4 1042.9,458.3 1044,445 1045.2,463.7 1046.4,453.9" fill="none" stroke="#EBBDF8" stroke-width="1"/>
<path d="M711.6 468.9h.1M712.8 495.4h.1M714 472.2h.1M715.1 482.8h.1M716.3 471.4h.1M717.5 486.7h.1M718.7 471.1h.1M719.9 474.3h.1M721 462.6h.1M722.2 493.9h.1M723.4 481h.1M724.6 491.6h.1M725.7 478.3h.1M726.9 490.7h.1M728.1 471.7h.1M729.3 488.3h.1M730.5 467.4h.1M731.6 444.8h.1M732.8 471.2h.1M734 483.4h.1M735.2 466.6h.1M736.4 508h.1M737.5 463.5h.1M738.7 493.5h.1M739.9 479.2h.1M741.1 497.7h.1M742.3 468.3h.1M743.4 503.2h.1M744.6 468.4h.1M745.8 490.3h.1M747 467.2h.1M748.1 503.7h.1M749.3 479h.1M750.5 509.3h.1M751.7 495.9h.1M752.9 523.5h.1M754 512.1h.1M755.2 521.8h.1M756.4 503.7h.1M757.6 521.9h.1M758.8 504.7h.1M759.9 533.9h.1M761.1 508.5h.1M762.3 529.5h.1M763.5 494.2h.1M764.6 526.2h.1M765.8 510.4h.1M767 525.2h.1M768.2 504.9h.1M769.4 522.2h.1M770.5 490.3h.1M771.7 522.8h.1M772.9 506.1h.1M774.1 527.5h.1M775.3 490.3h.1M776.4 516.1h.1M777.6 483.6h.1M778.8 521.5h.1M780 476h.1M781.2 492.5h.1M782.3 472.9h.1M783.5 505.1h.1M784.7 479.2h.1M785.9 494.4h.1M787 466.3h.1M788.2 492.4h.1M789.4 478.3h.1M790.6 499.2h.1M791.8 461.3h.1M792.9 481.7h.1M794.1 468.4h.1M795.3 487.8h.1M796.5 452.3h.1M797.7 503.8h.1M798.8 465.9h.1M800 492.9h.1M801.2 456h.1M802.4 476.5h.1M803.6 469.1h.1M804.7 473.1h.1M805.9 485.1h.1M807.1 484h.1M808.3 468.6h.1M809.4 497.3h.1M810.6 484.4h.1M811.8 493.3h.1M813 465.9h.1M814.2 489.7h.1M815.3 464h.1M816.5 488h.1M817.7 470.6h.1M818.9 497.8h.1M820.1 473.4h.1M821.2 487.5h.1M822.4 476.4h.1M823.6 479.6h.1M824.8 462.3h.1M826 503.2h.1M827.1 470.3h.1M828.3 495.6h.1M829.5 461.5h.1M830.7 494.9h.1M831.8 463.1h.1M833 481.6h.1M834.2 472.4h.1M835.4 474.5h.1M836.6 478.4h.1M837.7 479.4h.1M838.9 462.7h.1M840.1 496.4h.1M841.3 477.3h.1M842.5 498.4h.1M843.6 458.7h.1M844.8 486.8h.1M846 461.6h.1M847.2 490.5h.1M848.3 462.4h.1M849.5 474.4h.1M850.7 460.9h.1M851.9 479h.1M853.1 476.1h.1M854.2 492h.1M855.4 470.7h.1M856.6 471.6h.1M857.8 473.2h.1M859 474.8h.1M860.1 478.2h.1M861.3 497.1h.1M862.5 464.3h.1M863.7 486h.1M864.9 481.1h.1M866 489h.1M867.2 470.1h.1M868.4 493.1h.1M869.6 470.4h.1M870.7 476.6h.1M871.9 468.5h.1M873.1 495.9h.1M874.3 470.2h.1M875.5 479.7h.1M876.6 466.6h.1M877.8 480.2h.1M879 472.9h.1M880.2 493.6h.1M881.4 468.6h.1M882.5 500.2h.1M883.7 478.8h.1M884.9 478.8h.1M886.1 460.6h.1M887.3 482.9h.1M888.4 458h.1M889.6 489.1h.1M890.8 463.8h.1M892 498.1h.1M893.1 467.3h.1M894.3 482.2h.1M895.5 467.1h.1M896.7 480.7h.1M897.9 477.7h.1M899 472.5h.1M900.2 477.6h.1M901.4 495.4h.1M902.6 461.1h.1M903.8 484.1h.1M904.9 467.6h.1M906.1 480.9h.1M907.3 476.3h.1M908.5 496.7h.1M909.7 479.4h.1M910.8 512.9h.1M912 465.9h.1M913.2 484.5h.1M914.4 467.1h.1M915.5 477.4h.1M916.7 462.5h.1M917.9 486.1h.1M919.1 478.3h.1M920.3 481.2h.1M921.4 469.4h.1M922.6 493.2h.1M923.8 463.5h.1M925 486h.1M926.2 463.3h.1M927.3 489.6h.1M928.5 455.7h.1M929.7 478.2h.1M930.9 475.3h.1M932 475.2h.1M933.2 467.2h.1M934.4 472.9h.1M935.6 454.6h.1M936.8 477.6h.1M937.9 450.3h.1M939.1 487.6h.1M940.3 461h.1M941.5 479.7h.1M942.7 448.8h.1M943.8 474.9h.1M945 453.7h.1M946.2 475.2h.1M947.4 451.9h.1M948.6 459.3h.1M949.7 450.1h.1M950.9 465.4h.1M952.1 438.8h.1M953.3 461.1h.1M954.4 434.9h.1M955.6 472.5h.1M956.8 432.6h.1M958 445.7h.1M959.2 426h.1M960.3 464.5h.1M961.5 430.3h.1M962.7 473.5h.1M963.9 414.4h.1M965.1 468.7h.1M966.2 430.4h.1M967.4 452.4h.1M968.6 438.4h.1M969.8 457.9h.1M971 460.3h.1M972.1 473.3h.1M973.3 468.5h.1M974.5 490.6h.1M975.7 454.6h.1M976.8 493.9h.1M978 458.2h.1M979.2 487.8h.1M980.4 462.3h.1M981.6 477.9h.1M982.7 452.2h.1M983.9 480.5h.1M985.1 459.4h.1M986.3 485.1h.1M987.5 457h.1M988.6 483.6h.1M989.8 445.7h.1M991 466.6h.1M992.2 455.6h.1M993.4 488.7h.1M994.5 452.6h.1M995.7 453h.1M996.9 457.4h.1M998.1 466h.1M999.2 454.7h.1M1000.4 463.6h.1M1001.6 454.1h.1M1002.8 480.4h.1M1004 440.5h.1M1005.1 457.8h.1M1006.3 447.2h.1M1007.5 478.1h.1M1008.7 452.6h.1M1009.9 481.9h.1M1011 444.2h.1M1012.2 474.7h.1M1013.4 449.6h.1M1014.6 478.8h.1M1015.7 447.8h.1M1016.9 457.9h.1M1018.1 457.4h.1M1019.3 482.7h.1M1020.5 457.7h.1M1021.6 466.9h.1M1022.8 434h.1M1024 468.3h.1M1025.2 432.3h.1M1026.4 469.5h.1M1027.5 422.8h.1M1028.7 472.3h.1M1029.9 431.8h.1M1031.1 474.7h.1M1032.3 439.8h.1M1033.4 478.8h.1M1034.6 456.4h.1M1035.8 471h.1M1037 441.8h.1M1038.1 497.2h.1M1039.3 451.4h.1M1040.5 467.2h.1M1041.7 445.4h.1M1042.9 458.3h.1M1044 445h.1M1045.2 463.7h.1M1046.4 453.9h.1" stroke="#F5934B" stroke-width="4.3" stroke-linecap="round" fill="none"/>
<line x1="711.6" y1="573" x2="1046.4" y2="693" stroke="#333" stroke-width="1.3" stroke-dasharray="4 3"/>
<path d="M699.8 576.2h23.6M711.6 564.4v23.6" stroke="#A8A8A8" stroke-width="1.1"/>
<polygon points="711.6,564.8 714.2,572.6 722.4,572.7 715.8,577.6 718.3,585.4 711.6,580.6 704.9,585.4 707.4,577.6 700.8,572.7 709,572.6" fill="none" stroke="#7A7A7A" stroke-width="1.15"/>
<path d="M755.6 594.6h23.6M767.4 582.8v23.6" stroke="#A8A8A8" stroke-width="1.1"/>
<polygon points="767.4,583.2 770,591 778.2,591.1 771.6,596 774.1,603.8 767.4,599 760.7,603.8 763.2,596 756.6,591.1 764.8,591" fill="none" stroke="#7A7A7A" stroke-width="1.15"/>
<path d="M811.4 613h23.6M823.2 601.2v23.6" stroke="#A8A8A8" stroke-width="1.1"/>
<polygon points="823.2,601.6 825.8,609.4 834,609.5 827.4,614.4 829.9,622.2 823.2,617.4 816.5,622.2 819,614.4 812.4,609.5 820.6,609.4" fill="none" stroke="#7A7A7A" stroke-width="1.15"/>
<path d="M867.2 625.8h23.6M879 614v23.6" stroke="#A8A8A8" stroke-width="1.1"/>
<polygon points="879,614.4 881.6,622.2 889.8,622.3 883.2,627.2 885.7,635 879,630.2 872.3,635 874.8,627.2 868.2,622.3 876.4,622.2" fill="none" stroke="#7A7A7A" stroke-width="1.15"/>
<path d="M923 648.2h23.6M934.8 636.4v23.6" stroke="#A8A8A8" stroke-width="1.1"/>
<polygon points="934.8,636.8 937.4,644.6 945.6,644.7 939,649.6 941.5,657.4 934.8,652.6 928.1,657.4 930.6,649.6 924,644.7 932.2,644.6" fill="none" stroke="#7A7A7A" stroke-width="1.15"/>
<path d="M978.8 670.6h23.6M990.6 658.8v23.6" stroke="#A8A8A8" stroke-width="1.1"/>
<polygon points="990.6,659.2 993.2,667 1001.4,667.1 994.8,672 997.3,679.8 990.6,675 983.9,679.8 986.4,672 979.8,667.1 988,667" fill="none" stroke="#7A7A7A" stroke-width="1.15"/>
<path d="M1034.6 688.2h23.6M1046.4 676.4v23.6" stroke="#A8A8A8" stroke-width="1.1"/>
<polygon points="1046.4,676.8 1049,684.6 1057.2,684.7 1050.6,689.6 1053.1,697.4 1046.4,692.6 1039.7,697.4 1042.2,689.6 1035.6,684.7 1043.8,684.6" fill="none" stroke="#7A7A7A" stroke-width="1.15"/>
<path d="M706.2 401.9H1052.6V716.7H706.2Z" stroke="#1A1A1A" stroke-width="1.5" fill="none"/>
<path d="M706.2 559.0H1052.6" stroke="#333" stroke-width="2"/>
<path d="M711.6 716.7v4.5M823.2 716.7v4.5M934.8 716.7v4.5M1046.4 716.7v4.5M706.2 402.9h-4.2M706.2 455.3h-4.2M706.2 507.7h-4.2M706.2 429.1h-2.2M706.2 481.5h-2.2M706.2 533.9h-2.2M706.2 597h-4.2M706.2 637h-4.2M706.2 677h-4.2M706.2 577h-2.2M706.2 617h-2.2M706.2 657h-2.2M706.2 697h-2.2" stroke="#1A1A1A" stroke-width="1.2"/>
<text x="700.4" y="408.8" font-size="18" fill="#111" text-anchor="end">-<tspan dx="1.8">11.5</tspan></text>
<text x="700.4" y="461.2" font-size="18" fill="#111" text-anchor="end">-<tspan dx="1.8">12.0</tspan></text>
<text x="700.4" y="513.6" font-size="18" fill="#111" text-anchor="end">-<tspan dx="1.8">12.5</tspan></text>
<text x="700.4" y="602.9" font-size="18" fill="#111" text-anchor="end">85</text>
<text x="700.4" y="642.9" font-size="18" fill="#111" text-anchor="end">80</text>
<text x="700.4" y="682.9" font-size="18" fill="#111" text-anchor="end">75</text>
<text x="711.6" y="739" font-size="18" fill="#111" text-anchor="middle">0</text>
<text x="823.2" y="739" font-size="18" fill="#111" text-anchor="middle">1</text>
<text x="934.8" y="739" font-size="18" fill="#111" text-anchor="middle">2</text>
<text x="1046.4" y="739" font-size="18" fill="#111" text-anchor="middle">3</text>
<text x="878.5" y="758.9" font-size="22.8" fill="#111" text-anchor="middle"><tspan font-style="italic">t</tspan> (h)</text>
<text x="624.5" y="32.4" font-size="21.5" font-weight="bold" fill="#000">c</text>
<text x="624.5" y="402.6" font-size="21.5" font-weight="bold" fill="#000">d</text>
<text x="739.5" y="213.5" font-size="22.8" fill="#111">Rising humidity</text>
<text x="741.7" y="695" font-size="22.8" fill="#111">Lowering humidity</text>
<path d="M832 223L847.2 246.2M840.3 240.8L847.2 246.2L846.4 237.6" stroke="#111" stroke-width="1.8" fill="none" stroke-linecap="round"/>
<path d="M821 668.4L840.6 636.2M833.7 640.6L840.6 636.2L840.2 644.4" stroke="#111" stroke-width="1.8" fill="none" stroke-linecap="round"/>
<text transform="translate(654.2,99.7) rotate(-90)" font-size="22.8" fill="#111" text-anchor="middle"><tspan font-style="italic">I</tspan><tspan font-size="16.2" dy="5.3">sc</tspan><tspan dy="-5.3"> (μA)</tspan></text>
<text transform="translate(646.7,474) rotate(-90)" font-size="22.8" fill="#111" text-anchor="middle"><tspan font-style="italic">I</tspan><tspan font-size="16.2" dy="5.3">sc</tspan><tspan dy="-5.3"> (μA)</tspan></text>
<text transform="translate(670.8,258) rotate(-90)" font-size="22.8" fill="#111" text-anchor="middle"><tspan font-style="italic">φ</tspan><tspan font-size="16.2" dy="5.3">RH</tspan><tspan dy="-5.3"> (%)</tspan></text>
<text transform="translate(663.8,632.5) rotate(-90)" font-size="22.8" fill="#111" text-anchor="middle"><tspan font-style="italic">φ</tspan><tspan font-size="16.2" dy="5.3">RH</tspan><tspan dy="-5.3"> (%)</tspan></text>
</svg>
</body></html>
